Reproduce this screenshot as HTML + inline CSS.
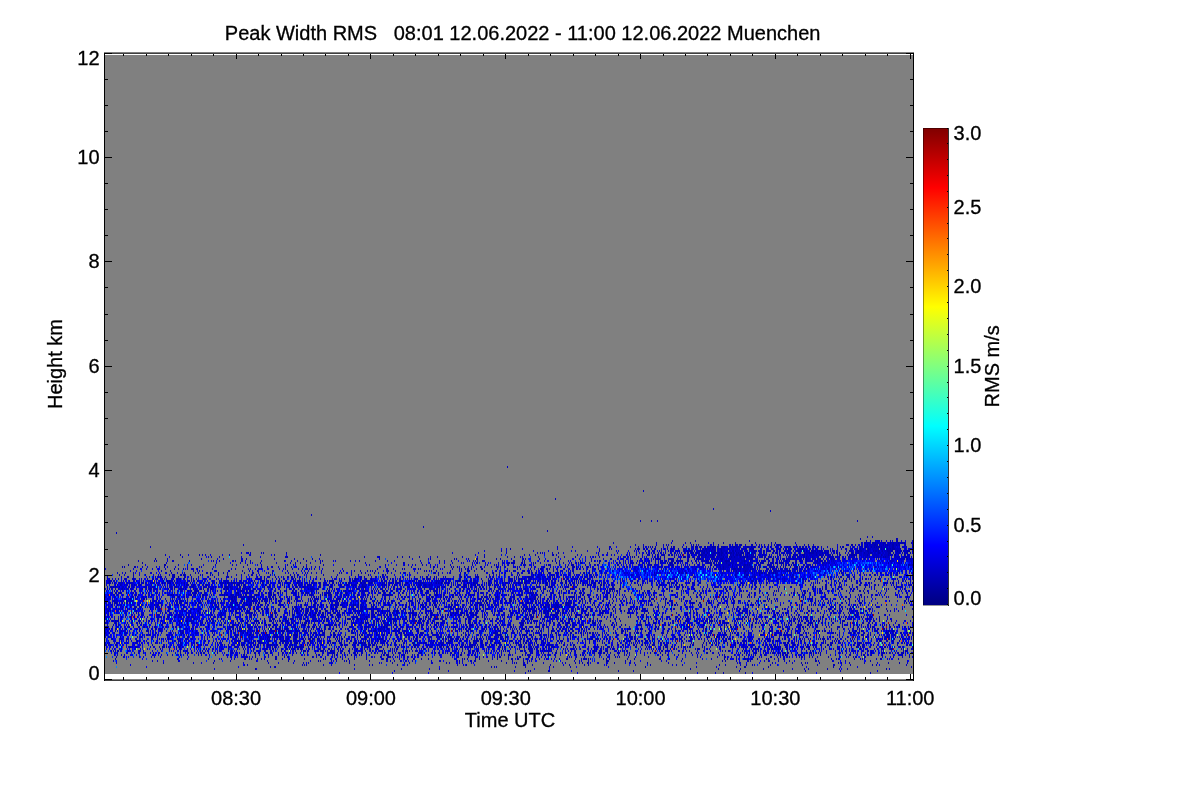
<!DOCTYPE html>
<html lang="en"><head><meta charset="utf-8"><title>Peak Width RMS</title>
<style>
html,body{margin:0;padding:0;background:#fff;overflow:hidden}
svg{display:block}
text{font-family:"Liberation Sans",Arial,Helvetica,sans-serif;fill:#000;stroke:#000;stroke-width:.3px}
</style></head><body>
<svg width="1200" height="800" viewBox="0 0 1200 800">
<rect width="1200" height="800" fill="#fff"/>
<rect x="105" y="55" width="808" height="619" fill="#808080" shape-rendering="crispEdges"/>
<g transform="translate(105 424) scale(1.0 2.0) translate(0 .5)" fill="none" stroke-width="1" shape-rendering="crispEdges">
<path stroke="#0000c3" d="M234 124h1m52 0h1m35 0h1m96 0h1m51 0h1m119 0h1m17 0h1m7 0h1m21 0h1m6 0h1m63 0h1m53 0h1M289 123h1m53 0h1m65 0h1m13 0h1m1 0h1m17 0h2m21 0h1m46 0h1m14 0h1m105 0h1m43 0h1m21 0h1m34 0h1m36 0h1M109 122h1m40 0h2m97 0h1m46 0h1m27 0h1m9 0h1m94 0h1m14 0h1m140 0h1m27 0h1m21 0h1m22 0h1m28 0h1m11 0h1m3 0h1m18 0h1m11 0h1m1 0h1m5 0h1m38 0h1m2 0h1M11 121h1m29 0h1m91 0h1m31 0h1m3 0h2m163 0h1m51 0h1m2 0h1m1 0h1m18 0h1m9 0h1m23 0h1m3 0h1m16 0h1m5 0h1m31 0h1m36 0h1m50 0h1m19 0h1m19 0h1m7 0h2m22 0h1m37 0h1m26 0h1m6 0h1m16 0h1m53 0h1M25 120h1m112 0h2m2 0h1m54 0h1m1 0h1m1 0h1m16 0h1m7 0h1m22 0h1m14 0h1m2 0h1m13 0h1m10 0h1m4 0h3m2 0h1m49 0h1m5 0h1m1 0h2m7 0h1m48 0h3m6 0h1m17 0h1m12 0h1m5 0h1m14 0h1m3 0h1m15 0h1m1 0h1m22 0h1m5 0h1m11 0h1m2 0h1m21 0h1m3 0h1m5 0h1m36 0h1m5 0h1m14 0h1m5 0h1m5 0h1m1 0h1m2 0h1m12 0h1m6 0h2m23 0h1m14 0h1m15 0h2m6 0h1m8 0h1m21 0h1m3 0h1m2 0h1m26 0h1M11 119h1m46 0h1m29 0h1m7 0h1m11 0h1m29 0h1m24 0h1m9 0h1m14 0h1m9 0h1m2 0h1m1 0h1m20 0h4m2 0h1m13 0h1m29 0h1m1 0h1m10 0h1m11 0h1m4 0h1m5 0h1m15 0h2m13 0h1m2 0h1m6 0h2m1 0h1m2 0h1m8 0h1m1 0h1m32 0h1m5 0h1m1 0h1m1 0h1m6 0h2m2 0h1m15 0h1m18 0h1m2 0h1m9 0h1m3 0h1m2 0h1m4 0h2m1 0h1m6 0h2m7 0h2m6 0h1m10 0h1m3 0h2m3 0h1m12 0h1m20 0h1m15 0h1m11 0h1m40 0h1m1 0h2m5 0h1m12 0h1m12 0h1m2 0h1m10 0h1m5 0h1m8 0h1m3 0h1m1 0h1m11 0h1m18 0h1m1 0h2m3 0h1m3 0h1m14 0h1m12 0h1m10 0h1m10 0h1m7 0h1M8 118h1m1 0h2m35 0h1m4 0h1m5 0h1m14 0h2m26 0h1m7 0h1m7 0h1m7 0h1m25 0h2m9 0h1m20 0h1m5 0h1m15 0h1m7 0h1m1 0h1m10 0h1m1 0h1m2 0h1m7 0h1m1 0h1m2 0h1m19 0h1m16 0h2m2 0h1m3 0h1m5 0h2m1 0h1m1 0h2m1 0h1m3 0h1m2 0h2m14 0h1m7 0h2m2 0h1m12 0h2m1 0h1m2 0h1m5 0h1m1 0h2m2 0h2m12 0h1m12 0h1m10 0h1m10 0h1m3 0h1m1 0h1m1 0h1m3 0h2m16 0h1m2 0h1m2 0h2m13 0h1m4 0h1m1 0h1m6 0h1m3 0h1m1 0h1m11 0h3m16 0h1m4 0h1m9 0h1m20 0h1m4 0h1m14 0h1m40 0h1m2 0h1m10 0h1m2 0h1m7 0h2m1 0h1m9 0h1m3 0h1m3 0h2m8 0h1m5 0h1m4 0h1m4 0h1m20 0h2m1 0h1m13 0h2m6 0h1m4 0h1m18 0h2m4 0h1m36 0h2M10 117h1m10 0h1m15 0h1m3 0h1m30 0h2m8 0h1m20 0h1m10 0h1m1 0h1m9 0h1m2 0h1m9 0h2m3 0h1m1 0h1m5 0h1m3 0h1m2 0h1m10 0h2m5 0h1m5 0h2m14 0h1m18 0h1m1 0h1m4 0h2m3 0h2m5 0h1m5 0h1m5 0h1m11 0h1m14 0h3m2 0h2m5 0h1m5 0h1m3 0h2m2 0h1m5 0h2m6 0h1m6 0h1m25 0h3m5 0h1m1 0h1m2 0h1m7 0h1m3 0h1m12 0h1m4 0h1m10 0h1m2 0h2m2 0h1m1 0h2m4 0h1m1 0h4m2 0h2m2 0h1m3 0h1m4 0h1m1 0h3m2 0h1m2 0h1m4 0h1m6 0h2m7 0h1m5 0h1m1 0h4m1 0h1m1 0h1m1 0h1m1 0h1m8 0h1m2 0h1m2 0h1m17 0h1m6 0h1m24 0h2m6 0h3m6 0h1m5 0h1m19 0h1m3 0h1m4 0h1m12 0h1m2 0h1m2 0h4m2 0h1m1 0h2m2 0h11m4 0h1m8 0h1m1 0h1m5 0h1m3 0h1m4 0h2m16 0h1m2 0h1m10 0h1m15 0h1m4 0h1m1 0h2m14 0h1m5 0h1m1 0h1m1 0h1m11 0h1m3 0h2m1 0h1m3 0h1m1 0h1m1 0h2m5 0h1M1 116h1m5 0h1m3 0h1m6 0h2m1 0h1m1 0h1m4 0h1m5 0h2m2 0h1m7 0h1m2 0h1m5 0h1m17 0h2m1 0h1m6 0h1m20 0h1m1 0h1m15 0h1m2 0h2m2 0h2m1 0h1m3 0h7m1 0h1m2 0h1m2 0h1m8 0h2m2 0h1m6 0h2m7 0h1m2 0h3m22 0h2m2 0h1m3 0h2m3 0h1m5 0h2m1 0h1m2 0h1m2 0h1m1 0h1m2 0h1m8 0h1m1 0h1m9 0h1m4 0h2m1 0h1m5 0h2m5 0h4m1 0h1m2 0h1m1 0h1m1 0h1m1 0h1m1 0h2m2 0h2m2 0h2m1 0h2m1 0h2m13 0h1m7 0h2m10 0h1m1 0h1m1 0h3m9 0h1m6 0h3m1 0h1m3 0h1m2 0h2m4 0h1m1 0h1m2 0h1m1 0h2m7 0h1m8 0h1m1 0h2m7 0h2m2 0h1m3 0h1m1 0h1m2 0h1m3 0h1m2 0h2m5 0h1m11 0h1m1 0h1m1 0h1m3 0h2m7 0h1m8 0h1m5 0h1m1 0h1m5 0h3m5 0h1m1 0h1m1 0h1m8 0h1m6 0h1m12 0h1m11 0h1m7 0h2m6 0h2m7 0h1m11 0h1m2 0h1m16 0h1m6 0h2m1 0h2m2 0h1m4 0h1m2 0h1m4 0h1m3 0h1m1 0h4m5 0h1m1 0h1m8 0h2m5 0h1m2 0h1m2 0h2m1 0h2m1 0h1m2 0h1m3 0h1m2 0h1m1 0h2m1 0h1m4 0h1m2 0h1m4 0h1m10 0h1m10 0h3m4 0h1m1 0h1m4 0h1m1 0h2m1 0h2m3 0h3m16 0h1m2 0h1m4 0h1m2 0h1m8 0h1m6 0h1m2 0h1M9 115h2m1 0h1m3 0h1m2 0h1m5 0h4m2 0h1m2 0h1m5 0h1m6 0h4m2 0h1m2 0h1m5 0h1m4 0h1m2 0h4m1 0h2m1 0h1m3 0h1m6 0h1m3 0h1m2 0h1m3 0h2m2 0h1m5 0h1m7 0h1m2 0h3m1 0h3m1 0h4m3 0h1m1 0h2m1 0h1m8 0h1m3 0h1m3 0h2m3 0h1m3 0h1m5 0h1m3 0h1m1 0h1m1 0h1m1 0h1m3 0h1m8 0h2m1 0h1m2 0h2m7 0h1m1 0h2m2 0h1m4 0h2m3 0h1m1 0h1m1 0h2m4 0h1m1 0h2m1 0h1m3 0h1m2 0h3m2 0h1m1 0h1m4 0h1m1 0h2m11 0h1m1 0h2m1 0h3m4 0h1m5 0h1m1 0h4m7 0h1m1 0h1m2 0h2m2 0h2m2 0h1m2 0h1m3 0h1m1 0h1m4 0h3m8 0h1m1 0h3m1 0h3m1 0h2m5 0h3m1 0h2m1 0h2m1 0h2m4 0h1m2 0h1m5 0h3m2 0h1m1 0h1m1 0h1m2 0h1m3 0h3m1 0h1m9 0h1m2 0h1m1 0h4m5 0h4m2 0h1m1 0h2m1 0h4m3 0h2m4 0h1m5 0h1m1 0h1m1 0h1m3 0h3m3 0h1m1 0h2m1 0h1m3 0h3m2 0h1m4 0h2m5 0h1m1 0h2m4 0h1m3 0h1m5 0h1m1 0h1m2 0h1m5 0h2m7 0h1m10 0h1m1 0h2m3 0h1m4 0h2m5 0h1m3 0h1m6 0h1m6 0h1m4 0h1m3 0h1m17 0h1m2 0h1m1 0h1m9 0h2m1 0h3m2 0h1m3 0h1m1 0h2m1 0h1m1 0h1m1 0h1m4 0h2m2 0h3m7 0h1m1 0h1m1 0h1m1 0h1m1 0h2m1 0h3m4 0h1m2 0h2m1 0h4m1 0h2m4 0h1m1 0h1m1 0h1m6 0h1m9 0h1m4 0h1m3 0h1m5 0h1m3 0h2m5 0h2m3 0h1m1 0h2m2 0h2m1 0h2m6 0h1m2 0h2m10 0h2m3 0h5m2 0h1m3 0h1M6 114h1m2 0h4m8 0h2m3 0h1m2 0h1m3 0h2m3 0h3m4 0h1m2 0h1m1 0h2m1 0h2m6 0h2m7 0h1m1 0h1m2 0h1m4 0h1m1 0h2m2 0h2m3 0h1m1 0h1m1 0h2m1 0h2m3 0h1m3 0h3m2 0h1m4 0h1m1 0h1m3 0h1m1 0h4m1 0h3m1 0h1m4 0h1m2 0h2m1 0h1m3 0h2m2 0h2m3 0h1m1 0h3m2 0h3m5 0h1m3 0h2m1 0h3m1 0h2m1 0h2m2 0h1m3 0h1m1 0h2m3 0h1m7 0h1m6 0h2m3 0h8m2 0h1m2 0h2m2 0h1m4 0h1m3 0h3m1 0h1m3 0h2m3 0h1m4 0h1m2 0h2m1 0h1m4 0h1m1 0h2m2 0h1m3 0h1m2 0h1m2 0h3m2 0h1m1 0h1m1 0h1m10 0h7m6 0h2m1 0h2m2 0h2m2 0h2m1 0h1m1 0h1m2 0h2m2 0h5m2 0h1m2 0h1m3 0h3m1 0h2m1 0h1m1 0h1m1 0h1m5 0h4m1 0h2m1 0h1m1 0h1m1 0h2m2 0h1m7 0h1m5 0h1m9 0h2m3 0h3m3 0h3m2 0h1m1 0h1m4 0h1m3 0h1m2 0h2m3 0h1m1 0h1m2 0h2m3 0h1m3 0h2m6 0h3m2 0h4m1 0h3m3 0h4m1 0h2m2 0h1m2 0h1m6 0h3m4 0h1m2 0h1m1 0h1m6 0h1m3 0h1m3 0h1m2 0h1m2 0h1m3 0h3m3 0h1m4 0h1m2 0h1m3 0h1m9 0h1m8 0h1m4 0h1m1 0h1m5 0h1m1 0h2m4 0h2m4 0h1m12 0h2m3 0h1m1 0h1m1 0h1m3 0h1m1 0h2m1 0h1m3 0h4m3 0h1m2 0h1m1 0h4m1 0h1m1 0h4m1 0h4m1 0h4m1 0h2m2 0h1m3 0h3m3 0h7m1 0h3m1 0h1m1 0h2m1 0h1m1 0h1m5 0h1m8 0h1m2 0h3m1 0h1m3 0h1m3 0h1m2 0h1m1 0h1m1 0h1m3 0h1m3 0h1m1 0h1m2 0h5m3 0h2m1 0h4m1 0h1m2 0h2m1 0h1m2 0h1m1 0h2m2 0h3m1 0h1m1 0h2m2 0h2M0 113h1m2 0h1m1 0h2m1 0h1m1 0h1m1 0h2m1 0h2m3 0h6m1 0h2m4 0h3m2 0h1m8 0h1m4 0h1m3 0h2m6 0h1m1 0h1m1 0h1m3 0h2m1 0h1m2 0h5m3 0h1m2 0h1m2 0h1m1 0h2m1 0h1m2 0h1m1 0h2m3 0h1m2 0h1m1 0h1m1 0h3m6 0h1m1 0h3m1 0h1m1 0h1m7 0h1m2 0h2m1 0h2m1 0h1m2 0h5m3 0h2m4 0h2m1 0h1m1 0h2m4 0h1m2 0h2m3 0h2m1 0h2m1 0h1m5 0h1m1 0h3m1 0h2m5 0h5m1 0h4m1 0h1m1 0h1m2 0h5m3 0h1m1 0h3m5 0h2m4 0h9m2 0h1m3 0h2m1 0h2m1 0h2m1 0h5m1 0h1m2 0h4m1 0h1m1 0h1m1 0h1m5 0h2m1 0h3m1 0h1m2 0h1m2 0h3m1 0h5m1 0h2m1 0h1m3 0h1m1 0h1m4 0h1m2 0h2m1 0h5m2 0h5m1 0h1m3 0h1m5 0h3m1 0h3m1 0h3m5 0h1m1 0h1m1 0h1m2 0h1m1 0h2m1 0h1m2 0h1m1 0h1m1 0h1m1 0h1m1 0h3m5 0h1m4 0h3m1 0h2m3 0h4m3 0h3m1 0h12m4 0h1m5 0h1m2 0h1m2 0h1m2 0h1m2 0h2m7 0h3m2 0h1m1 0h1m1 0h5m2 0h3m3 0h3m6 0h3m1 0h1m1 0h1m1 0h3m1 0h2m7 0h3m2 0h1m11 0h1m2 0h1m1 0h1m1 0h1m1 0h2m2 0h5m1 0h1m6 0h2m2 0h2m2 0h1m2 0h1m7 0h1m5 0h2m5 0h1m9 0h1m1 0h1m2 0h1m2 0h3m1 0h1m3 0h2m1 0h1m2 0h1m1 0h6m2 0h2m1 0h2m1 0h1m1 0h1m2 0h3m1 0h2m2 0h1m1 0h1m1 0h5m1 0h2m2 0h1m1 0h1m2 0h7m4 0h1m4 0h1m3 0h1m1 0h4m3 0h1m1 0h1m4 0h1m8 0h1m3 0h1m1 0h2m2 0h2m2 0h1m1 0h5m1 0h2m2 0h3m3 0h2m1 0h4m1 0h1m2 0h2m1 0h1m1 0h2m6 0h1m1 0h2m1 0h1m6 0h1m1 0h3M1 112h1m2 0h1m2 0h1m1 0h2m3 0h4m4 0h1m1 0h1m2 0h5m3 0h1m1 0h1m1 0h1m2 0h1m1 0h1m5 0h1m4 0h1m1 0h1m6 0h1m3 0h2m1 0h1m2 0h3m2 0h1m2 0h1m2 0h1m3 0h1m1 0h1m1 0h4m1 0h2m1 0h1m1 0h2m2 0h2m1 0h3m1 0h5m4 0h6m3 0h1m1 0h1m3 0h1m1 0h1m1 0h2m1 0h1m2 0h2m4 0h2m1 0h6m1 0h2m1 0h2m1 0h1m1 0h1m3 0h3m1 0h3m1 0h1m1 0h5m1 0h2m1 0h3m3 0h1m1 0h2m2 0h1m1 0h1m2 0h4m2 0h2m3 0h2m1 0h1m2 0h1m2 0h2m1 0h1m1 0h2m5 0h1m2 0h1m1 0h4m2 0h3m1 0h1m2 0h1m1 0h2m4 0h4m4 0h1m6 0h1m1 0h1m1 0h1m1 0h2m5 0h2m1 0h1m4 0h1m4 0h1m2 0h1m1 0h1m1 0h3m2 0h1m4 0h3m1 0h2m1 0h3m1 0h1m1 0h1m1 0h2m2 0h1m1 0h4m1 0h1m2 0h1m2 0h1m1 0h2m1 0h1m3 0h5m3 0h3m1 0h1m1 0h2m2 0h3m2 0h3m2 0h1m1 0h2m1 0h1m2 0h1m4 0h1m1 0h1m1 0h1m4 0h1m3 0h5m1 0h1m1 0h2m2 0h1m1 0h3m1 0h1m1 0h4m1 0h1m3 0h1m2 0h1m2 0h1m1 0h1m1 0h1m2 0h5m1 0h1m2 0h2m6 0h2m2 0h1m2 0h4m2 0h2m1 0h1m1 0h3m2 0h1m1 0h3m2 0h1m1 0h1m2 0h1m2 0h1m4 0h1m5 0h1m1 0h1m2 0h1m3 0h1m1 0h1m1 0h1m1 0h1m1 0h1m2 0h1m1 0h3m2 0h1m3 0h1m2 0h1m1 0h3m1 0h1m6 0h1m1 0h1m9 0h1m1 0h3m4 0h1m1 0h2m1 0h1m6 0h1m2 0h2m11 0h1m4 0h2m4 0h1m1 0h2m2 0h1m1 0h1m1 0h6m1 0h2m2 0h1m2 0h3m1 0h10m1 0h1m3 0h2m1 0h1m1 0h2m1 0h2m1 0h1m3 0h2m1 0h1m3 0h2m4 0h1m1 0h4m1 0h1m1 0h1m5 0h3m1 0h1m3 0h3m1 0h3m2 0h1m2 0h1m1 0h3m4 0h4m1 0h1m1 0h3m6 0h1m2 0h2m2 0h3m5 0h5m3 0h1m3 0h1m1 0h2m2 0h1m3 0h2M1 111h2m1 0h2m2 0h1m2 0h2m2 0h4m2 0h1m1 0h12m2 0h1m7 0h1m2 0h2m4 0h1m2 0h3m1 0h1m1 0h3m2 0h2m1 0h1m1 0h6m1 0h1m1 0h1m3 0h4m1 0h5m3 0h1m5 0h1m2 0h1m1 0h1m1 0h1m1 0h8m1 0h4m2 0h5m3 0h1m1 0h1m2 0h6m1 0h1m1 0h3m1 0h1m2 0h2m1 0h5m1 0h1m1 0h3m1 0h1m5 0h3m1 0h3m1 0h1m1 0h10m4 0h1m3 0h1m1 0h1m1 0h3m1 0h1m1 0h5m5 0h1m1 0h1m1 0h1m1 0h2m1 0h1m3 0h1m7 0h3m5 0h2m1 0h6m2 0h1m3 0h2m1 0h3m5 0h1m7 0h1m1 0h2m2 0h4m1 0h3m2 0h2m1 0h2m1 0h2m3 0h2m2 0h2m1 0h4m1 0h2m1 0h1m1 0h3m1 0h1m2 0h3m2 0h2m1 0h1m1 0h1m3 0h3m1 0h9m1 0h1m1 0h1m1 0h1m1 0h4m3 0h8m3 0h3m1 0h1m1 0h2m3 0h1m1 0h2m1 0h2m3 0h3m1 0h2m1 0h1m1 0h4m1 0h1m1 0h4m3 0h2m1 0h2m1 0h2m1 0h8m2 0h1m4 0h1m6 0h1m1 0h1m3 0h1m2 0h4m2 0h1m4 0h6m2 0h1m1 0h1m3 0h3m1 0h1m1 0h1m3 0h2m1 0h2m1 0h1m1 0h4m1 0h1m4 0h2m3 0h1m5 0h1m1 0h5m2 0h1m2 0h3m2 0h1m1 0h3m3 0h2m1 0h1m3 0h1m2 0h1m1 0h3m1 0h1m1 0h2m1 0h1m9 0h1m1 0h1m5 0h1m6 0h1m1 0h2m1 0h3m5 0h4m1 0h1m3 0h1m1 0h7m2 0h3m2 0h1m2 0h3m3 0h2m1 0h2m1 0h3m1 0h7m4 0h3m1 0h5m1 0h3m2 0h4m2 0h4m3 0h1m1 0h2m4 0h1m3 0h1m3 0h1m1 0h1m5 0h3m2 0h1m2 0h1m5 0h1m4 0h3m1 0h1m1 0h3m4 0h2m5 0h1m2 0h4m1 0h2m1 0h1m1 0h2m1 0h3m3 0h3m1 0h3m7 0h1M0 110h2m1 0h6m1 0h3m1 0h2m1 0h2m2 0h1m5 0h3m2 0h4m1 0h1m5 0h1m3 0h1m10 0h2m1 0h1m2 0h3m1 0h1m3 0h10m1 0h1m2 0h2m1 0h1m2 0h5m1 0h1m1 0h3m3 0h2m2 0h1m1 0h2m1 0h3m1 0h1m3 0h1m2 0h4m2 0h3m1 0h4m1 0h3m1 0h2m1 0h3m1 0h2m1 0h1m2 0h2m1 0h12m2 0h1m3 0h4m1 0h8m2 0h7m1 0h1m1 0h2m1 0h3m2 0h2m1 0h4m2 0h1m2 0h1m1 0h1m2 0h2m4 0h3m1 0h4m4 0h4m1 0h2m1 0h7m1 0h3m1 0h3m1 0h1m5 0h1m1 0h1m2 0h2m1 0h2m2 0h3m2 0h1m1 0h1m1 0h1m2 0h1m2 0h2m2 0h7m3 0h1m1 0h23m1 0h1m1 0h3m1 0h3m1 0h1m1 0h3m1 0h1m1 0h1m1 0h7m1 0h1m2 0h4m1 0h2m2 0h1m1 0h4m1 0h1m2 0h3m2 0h5m1 0h1m5 0h1m1 0h4m2 0h1m3 0h3m1 0h1m1 0h1m2 0h2m1 0h5m1 0h8m1 0h3m5 0h2m2 0h1m2 0h2m1 0h2m9 0h2m8 0h2m1 0h1m7 0h3m3 0h2m4 0h2m3 0h2m1 0h1m1 0h3m3 0h2m1 0h1m4 0h2m2 0h1m1 0h1m1 0h1m2 0h3m3 0h1m1 0h2m2 0h4m4 0h1m1 0h2m5 0h1m2 0h1m5 0h1m1 0h2m8 0h1m3 0h1m4 0h2m2 0h2m1 0h1m3 0h1m1 0h1m2 0h1m2 0h6m3 0h8m1 0h7m4 0h1m2 0h2m1 0h3m1 0h3m1 0h3m1 0h1m1 0h1m4 0h4m1 0h1m2 0h4m1 0h2m2 0h1m1 0h1m1 0h1m1 0h2m1 0h1m1 0h5m3 0h2m5 0h2m1 0h2m5 0h1m3 0h2m2 0h1m1 0h2m1 0h2m1 0h2m2 0h3m2 0h3m1 0h1m1 0h1m1 0h2m1 0h1m3 0h2m2 0h1m1 0h2m1 0h1m1 0h3m6 0h1m8 0h2m1 0h4M0 109h5m4 0h1m1 0h7m1 0h5m3 0h6m1 0h1m1 0h2m1 0h1m2 0h2m2 0h1m3 0h3m1 0h3m6 0h6m2 0h1m1 0h1m1 0h9m2 0h4m1 0h6m1 0h2m3 0h1m3 0h1m2 0h1m1 0h1m1 0h3m7 0h1m2 0h8m1 0h5m1 0h7m1 0h1m2 0h11m3 0h5m2 0h2m1 0h2m1 0h4m1 0h2m2 0h4m1 0h1m2 0h3m2 0h2m1 0h4m1 0h1m1 0h1m1 0h6m2 0h2m1 0h1m1 0h4m3 0h3m2 0h1m4 0h1m3 0h4m1 0h8m2 0h2m1 0h2m1 0h2m1 0h1m2 0h5m1 0h2m3 0h1m2 0h2m7 0h2m1 0h1m5 0h4m1 0h10m1 0h1m1 0h4m1 0h2m1 0h6m2 0h7m5 0h2m1 0h3m2 0h2m1 0h2m2 0h4m3 0h3m2 0h3m2 0h2m2 0h7m4 0h2m2 0h1m3 0h1m1 0h4m1 0h1m2 0h1m1 0h2m1 0h5m1 0h1m1 0h1m4 0h5m1 0h3m6 0h1m2 0h1m1 0h1m2 0h1m5 0h1m1 0h1m4 0h1m2 0h4m1 0h1m3 0h1m3 0h3m6 0h1m1 0h1m3 0h2m1 0h2m4 0h1m2 0h2m3 0h3m1 0h1m1 0h1m1 0h1m1 0h1m1 0h1m1 0h1m2 0h1m1 0h5m1 0h1m2 0h2m3 0h1m1 0h2m1 0h2m1 0h3m1 0h1m2 0h1m2 0h1m4 0h1m1 0h1m7 0h1m1 0h1m9 0h1m2 0h1m2 0h4m1 0h1m1 0h1m1 0h2m3 0h2m2 0h1m3 0h1m1 0h3m1 0h2m1 0h2m1 0h2m1 0h1m1 0h1m1 0h1m1 0h1m3 0h1m1 0h3m2 0h1m1 0h2m2 0h1m2 0h2m1 0h1m1 0h1m1 0h3m1 0h3m1 0h2m2 0h4m3 0h1m1 0h2m2 0h2m2 0h2m1 0h1m1 0h2m1 0h2m3 0h3m1 0h1m4 0h3m2 0h1m2 0h3m1 0h1m1 0h2m2 0h2m1 0h1m2 0h2m1 0h5m1 0h1m1 0h6m3 0h1m3 0h1m1 0h1m1 0h1m1 0h2m3 0h1m1 0h3m3 0h2m2 0h2m1 0h1m1 0h3m1 0h2M1 108h3m4 0h3m3 0h1m1 0h3m2 0h1m1 0h1m2 0h1m4 0h5m2 0h2m1 0h1m4 0h3m2 0h2m3 0h1m1 0h1m2 0h1m1 0h1m3 0h4m2 0h5m1 0h3m1 0h7m4 0h3m1 0h3m2 0h2m3 0h1m2 0h1m3 0h1m1 0h1m3 0h2m1 0h1m1 0h2m1 0h7m3 0h8m1 0h3m1 0h5m1 0h10m1 0h3m3 0h12m1 0h8m2 0h2m4 0h6m2 0h5m1 0h2m2 0h4m5 0h1m1 0h2m1 0h1m2 0h1m1 0h2m2 0h2m2 0h3m1 0h1m1 0h2m1 0h1m1 0h1m1 0h3m1 0h3m1 0h4m1 0h6m1 0h2m4 0h1m1 0h2m1 0h2m2 0h1m1 0h3m2 0h3m2 0h4m1 0h2m1 0h3m3 0h7m1 0h2m2 0h2m1 0h1m1 0h1m2 0h5m1 0h4m1 0h3m2 0h4m1 0h1m3 0h6m1 0h3m4 0h1m2 0h3m2 0h5m2 0h6m1 0h4m2 0h2m1 0h3m2 0h2m1 0h3m1 0h2m3 0h2m4 0h3m1 0h1m1 0h1m2 0h3m4 0h2m1 0h3m4 0h2m9 0h1m3 0h1m2 0h1m3 0h1m3 0h3m1 0h1m1 0h1m2 0h1m3 0h1m1 0h2m2 0h1m6 0h1m1 0h1m1 0h2m1 0h5m4 0h2m1 0h2m1 0h2m2 0h3m1 0h2m1 0h3m3 0h2m2 0h1m2 0h4m3 0h1m2 0h1m1 0h1m1 0h1m1 0h2m3 0h1m1 0h4m1 0h1m10 0h1m3 0h1m1 0h2m1 0h1m1 0h2m1 0h1m1 0h2m1 0h4m3 0h1m1 0h3m2 0h1m4 0h5m1 0h4m1 0h1m2 0h2m1 0h1m1 0h1m2 0h2m1 0h4m1 0h2m1 0h6m7 0h2m1 0h2m1 0h1m1 0h1m1 0h1m1 0h2m2 0h1m4 0h2m1 0h3m8 0h1m1 0h1m6 0h1m1 0h1m1 0h1m1 0h2m3 0h1m3 0h1m2 0h2m1 0h1m3 0h1m4 0h3m3 0h1m1 0h2m4 0h2m1 0h3m4 0h2m3 0h3m5 0h1m1 0h3m1 0h2m1 0h1M1 107h2m3 0h5m3 0h5m2 0h3m1 0h1m4 0h2m2 0h2m1 0h1m4 0h2m2 0h2m4 0h1m1 0h1m1 0h3m1 0h1m1 0h7m3 0h7m1 0h4m1 0h6m2 0h1m2 0h2m1 0h1m2 0h1m5 0h1m1 0h2m1 0h2m1 0h5m1 0h2m3 0h5m1 0h1m1 0h1m1 0h1m1 0h10m4 0h12m2 0h1m1 0h1m1 0h2m1 0h5m1 0h5m3 0h4m2 0h5m1 0h1m2 0h3m1 0h3m2 0h3m1 0h1m1 0h1m3 0h1m1 0h1m5 0h1m1 0h1m1 0h1m1 0h2m3 0h4m1 0h1m2 0h2m1 0h1m3 0h6m2 0h1m1 0h13m1 0h2m2 0h1m2 0h3m2 0h5m2 0h1m3 0h2m1 0h1m1 0h1m1 0h3m4 0h2m1 0h1m2 0h2m1 0h1m5 0h4m1 0h2m1 0h2m1 0h1m1 0h4m1 0h4m1 0h1m1 0h2m2 0h2m3 0h1m2 0h1m1 0h2m1 0h3m1 0h1m2 0h1m1 0h10m2 0h4m1 0h1m1 0h2m4 0h2m2 0h1m2 0h2m1 0h2m2 0h4m1 0h1m1 0h4m1 0h3m1 0h3m1 0h1m2 0h1m2 0h1m2 0h1m2 0h1m3 0h1m3 0h2m1 0h1m1 0h3m2 0h2m3 0h1m1 0h2m1 0h6m2 0h4m1 0h1m2 0h2m1 0h2m1 0h2m2 0h2m2 0h2m4 0h6m1 0h3m1 0h2m1 0h1m6 0h2m2 0h2m2 0h3m2 0h1m2 0h3m2 0h1m1 0h2m1 0h4m1 0h3m1 0h3m2 0h1m5 0h3m1 0h1m3 0h2m1 0h1m2 0h1m2 0h1m3 0h1m3 0h2m1 0h2m2 0h2m1 0h2m1 0h3m1 0h1m2 0h1m7 0h2m1 0h1m1 0h5m5 0h2m2 0h1m2 0h6m2 0h1m4 0h2m2 0h1m1 0h2m2 0h2m3 0h2m1 0h1m1 0h3m1 0h1m1 0h1m3 0h1m1 0h1m2 0h2m1 0h1m1 0h1m1 0h1m1 0h3m2 0h2m1 0h1m4 0h1m1 0h1m2 0h2m3 0h1m4 0h1m1 0h1m1 0h1m2 0h3m2 0h2m2 0h3m2 0h1m4 0h7m1 0h6m1 0h4m5 0h1m1 0h8m1 0h1M0 106h1m1 0h5m1 0h2m1 0h1m3 0h4m3 0h2m2 0h2m4 0h1m1 0h4m1 0h1m6 0h3m1 0h1m1 0h1m9 0h3m1 0h5m1 0h1m1 0h1m2 0h3m2 0h3m2 0h3m6 0h2m1 0h1m2 0h1m1 0h1m2 0h1m4 0h2m1 0h1m2 0h1m4 0h1m1 0h4m1 0h3m2 0h7m1 0h23m1 0h12m1 0h6m2 0h5m1 0h1m1 0h2m1 0h1m3 0h1m1 0h3m1 0h3m1 0h1m1 0h1m3 0h1m2 0h4m2 0h2m1 0h2m1 0h1m1 0h1m2 0h1m3 0h2m1 0h4m2 0h1m2 0h1m3 0h5m1 0h2m2 0h7m1 0h2m1 0h2m3 0h1m2 0h1m2 0h3m1 0h2m1 0h1m1 0h2m1 0h2m3 0h2m1 0h2m1 0h2m2 0h2m2 0h5m4 0h6m1 0h3m1 0h5m2 0h1m1 0h4m3 0h1m1 0h1m1 0h2m3 0h1m1 0h1m1 0h1m3 0h1m1 0h1m3 0h1m1 0h3m3 0h5m1 0h3m2 0h4m2 0h1m2 0h2m4 0h1m1 0h1m1 0h1m1 0h2m3 0h2m2 0h1m4 0h3m1 0h1m1 0h1m1 0h1m1 0h4m2 0h1m2 0h1m3 0h1m3 0h1m2 0h1m1 0h5m1 0h1m2 0h1m5 0h1m2 0h6m1 0h2m3 0h1m1 0h3m2 0h2m1 0h1m2 0h3m8 0h2m1 0h4m1 0h2m2 0h5m2 0h1m1 0h3m2 0h1m1 0h1m3 0h1m2 0h1m2 0h1m1 0h1m5 0h4m3 0h1m1 0h2m3 0h1m2 0h3m1 0h2m2 0h1m2 0h1m5 0h4m4 0h6m1 0h1m1 0h2m2 0h1m1 0h2m1 0h2m4 0h1m1 0h2m2 0h2m1 0h7m10 0h1m1 0h2m1 0h1m1 0h3m5 0h1m4 0h2m1 0h2m2 0h1m2 0h1m1 0h1m2 0h1m3 0h1m1 0h3m5 0h2m1 0h1m2 0h1m3 0h1m3 0h1m1 0h2m1 0h2m5 0h1m2 0h1m4 0h2m2 0h3m1 0h1m1 0h3m3 0h6m4 0h3m2 0h1m3 0h1m1 0h6m1 0h3m1 0h1m1 0h1m1 0h1m1 0h3m2 0h1m1 0h2m1 0h1M0 105h4m1 0h2m1 0h2m1 0h7m1 0h3m2 0h1m2 0h5m2 0h2m1 0h3m1 0h5m1 0h4m1 0h2m1 0h1m5 0h7m2 0h10m1 0h1m1 0h11m1 0h3m2 0h1m1 0h3m3 0h2m4 0h3m3 0h1m2 0h1m1 0h2m2 0h5m1 0h14m2 0h2m1 0h2m1 0h9m2 0h5m1 0h4m2 0h1m1 0h2m1 0h2m1 0h5m1 0h1m1 0h5m1 0h2m1 0h1m1 0h2m1 0h10m5 0h2m1 0h3m1 0h4m4 0h1m9 0h1m1 0h1m1 0h1m1 0h2m1 0h9m1 0h6m1 0h4m1 0h2m2 0h2m3 0h3m2 0h2m2 0h10m1 0h3m1 0h4m1 0h5m3 0h7m1 0h2m2 0h1m1 0h1m1 0h3m1 0h2m3 0h1m3 0h1m3 0h2m1 0h2m2 0h1m3 0h3m1 0h2m2 0h2m1 0h1m1 0h4m2 0h7m3 0h3m3 0h1m2 0h3m2 0h2m1 0h5m2 0h3m1 0h1m5 0h3m1 0h4m1 0h1m1 0h3m3 0h1m1 0h3m2 0h4m1 0h1m1 0h1m1 0h2m7 0h1m1 0h1m3 0h1m4 0h3m1 0h1m1 0h2m2 0h1m2 0h1m1 0h2m7 0h3m5 0h4m1 0h2m4 0h2m3 0h3m3 0h4m1 0h1m1 0h2m7 0h1m3 0h1m4 0h4m3 0h3m3 0h1m4 0h3m1 0h1m2 0h1m3 0h2m2 0h1m1 0h1m1 0h1m1 0h1m1 0h3m2 0h10m3 0h1m5 0h4m3 0h2m3 0h4m1 0h1m5 0h9m1 0h1m1 0h2m1 0h3m2 0h3m1 0h9m2 0h1m4 0h4m3 0h1m3 0h1m3 0h3m2 0h1m10 0h1m6 0h1m1 0h1m3 0h1m6 0h7m1 0h1m2 0h3m3 0h2m1 0h1m3 0h1m4 0h1m1 0h1m1 0h2m1 0h4m1 0h5m1 0h1m3 0h2m1 0h2m1 0h2m3 0h1M0 104h5m2 0h3m4 0h9m1 0h2m1 0h3m1 0h2m2 0h3m5 0h1m1 0h1m1 0h2m1 0h2m1 0h1m2 0h1m6 0h4m1 0h1m1 0h1m2 0h6m1 0h5m1 0h8m3 0h1m1 0h1m2 0h2m3 0h1m1 0h1m1 0h2m1 0h1m3 0h1m1 0h4m1 0h2m1 0h3m1 0h2m1 0h12m1 0h1m1 0h4m2 0h6m2 0h5m1 0h6m1 0h2m1 0h1m1 0h6m1 0h4m1 0h3m2 0h4m2 0h2m1 0h4m1 0h2m2 0h3m5 0h1m2 0h2m3 0h1m1 0h2m3 0h1m5 0h5m1 0h1m2 0h1m1 0h5m2 0h1m2 0h1m1 0h4m1 0h4m1 0h1m1 0h4m1 0h1m3 0h2m1 0h4m1 0h2m1 0h7m4 0h2m1 0h4m2 0h2m3 0h2m3 0h2m1 0h5m1 0h1m3 0h1m3 0h1m3 0h1m5 0h1m1 0h1m2 0h1m1 0h1m2 0h1m5 0h4m6 0h9m2 0h1m1 0h5m4 0h4m2 0h1m1 0h1m1 0h1m4 0h2m1 0h1m3 0h1m1 0h5m1 0h1m6 0h1m2 0h1m3 0h2m1 0h1m5 0h4m2 0h2m3 0h2m1 0h1m1 0h2m1 0h1m1 0h1m1 0h1m1 0h2m1 0h2m1 0h1m1 0h1m4 0h1m1 0h1m1 0h1m3 0h1m2 0h1m1 0h2m4 0h2m2 0h1m3 0h2m3 0h1m1 0h3m1 0h2m6 0h4m9 0h3m3 0h1m4 0h1m2 0h1m1 0h3m5 0h1m1 0h1m1 0h2m1 0h3m2 0h1m1 0h2m3 0h3m1 0h4m6 0h3m1 0h1m1 0h2m4 0h1m1 0h1m1 0h2m1 0h2m2 0h1m2 0h1m3 0h4m11 0h2m3 0h3m1 0h1m1 0h8m2 0h1m1 0h2m3 0h1m3 0h1m1 0h3m3 0h1m1 0h2m1 0h1m4 0h4m1 0h2m7 0h7m1 0h1m3 0h1m3 0h1m4 0h4m1 0h3m1 0h3m3 0h2m3 0h1m1 0h1m4 0h1m1 0h2m3 0h1m1 0h5m1 0h4m1 0h3m2 0h2m1 0h5m1 0h2m1 0h1M0 103h4m1 0h3m2 0h1m1 0h1m1 0h7m1 0h1m1 0h1m3 0h4m2 0h1m1 0h1m4 0h3m1 0h1m1 0h2m1 0h1m2 0h5m3 0h1m3 0h1m1 0h1m5 0h6m1 0h13m3 0h2m1 0h1m1 0h3m1 0h8m2 0h1m5 0h3m1 0h2m1 0h1m1 0h1m1 0h9m1 0h8m1 0h4m3 0h1m1 0h1m3 0h8m1 0h7m1 0h14m2 0h5m1 0h1m1 0h1m4 0h1m1 0h6m1 0h1m6 0h1m3 0h2m2 0h1m8 0h2m1 0h2m1 0h1m1 0h2m2 0h6m2 0h22m1 0h9m2 0h10m4 0h3m5 0h5m2 0h1m4 0h1m1 0h1m1 0h1m1 0h1m4 0h3m1 0h2m2 0h3m1 0h1m1 0h1m4 0h3m1 0h4m2 0h1m2 0h5m1 0h1m3 0h12m2 0h1m2 0h2m4 0h2m3 0h1m2 0h2m3 0h5m1 0h2m3 0h1m1 0h1m1 0h2m1 0h1m4 0h1m2 0h4m2 0h3m1 0h2m2 0h2m1 0h2m2 0h2m4 0h2m1 0h1m1 0h2m1 0h1m15 0h3m3 0h1m6 0h1m5 0h3m1 0h1m1 0h1m7 0h1m1 0h1m3 0h1m3 0h1m3 0h3m3 0h1m6 0h2m3 0h2m3 0h1m2 0h2m1 0h3m1 0h2m3 0h1m2 0h1m1 0h1m3 0h2m1 0h1m2 0h2m1 0h2m3 0h3m8 0h1m2 0h1m1 0h1m2 0h3m1 0h1m2 0h1m9 0h1m1 0h1m3 0h1m6 0h1m1 0h1m2 0h1m4 0h4m3 0h3m1 0h2m3 0h1m1 0h2m2 0h1m3 0h6m3 0h1m9 0h1m1 0h4m2 0h1m1 0h2m3 0h1m1 0h1m7 0h1m4 0h1m4 0h1m2 0h5m2 0h1m1 0h3m2 0h3m3 0h1m1 0h4m3 0h1m1 0h12m1 0h2m6 0h3m1 0h3M0 102h5m1 0h2m2 0h3m1 0h2m1 0h1m1 0h4m2 0h2m2 0h4m1 0h2m1 0h1m3 0h3m2 0h2m2 0h2m1 0h5m1 0h1m2 0h1m3 0h3m2 0h1m1 0h3m1 0h8m1 0h3m1 0h1m4 0h2m1 0h1m2 0h4m2 0h3m2 0h6m2 0h1m1 0h4m1 0h2m1 0h1m1 0h1m1 0h7m2 0h5m1 0h1m1 0h2m1 0h1m2 0h1m1 0h1m3 0h4m3 0h6m1 0h1m1 0h5m2 0h2m1 0h5m4 0h2m1 0h1m1 0h1m2 0h1m1 0h1m2 0h4m1 0h1m2 0h2m2 0h3m1 0h2m6 0h2m3 0h1m1 0h2m3 0h4m2 0h5m1 0h3m1 0h1m2 0h19m1 0h1m2 0h3m1 0h3m1 0h1m3 0h2m1 0h1m2 0h1m2 0h4m2 0h3m2 0h3m1 0h1m3 0h3m3 0h3m2 0h1m2 0h1m4 0h1m1 0h1m2 0h4m1 0h1m1 0h2m1 0h3m2 0h5m3 0h4m1 0h1m2 0h4m1 0h2m1 0h2m1 0h1m3 0h1m1 0h1m3 0h1m1 0h1m1 0h1m1 0h1m2 0h1m1 0h4m1 0h1m1 0h1m4 0h1m5 0h1m1 0h1m1 0h1m4 0h1m3 0h2m2 0h1m2 0h2m1 0h5m1 0h1m1 0h3m2 0h5m1 0h2m1 0h1m1 0h1m1 0h2m4 0h1m2 0h1m1 0h5m4 0h1m4 0h1m3 0h1m3 0h2m1 0h7m2 0h1m1 0h4m1 0h3m5 0h2m1 0h2m1 0h2m1 0h2m3 0h3m3 0h2m1 0h1m3 0h1m5 0h1m1 0h5m1 0h4m5 0h1m4 0h1m1 0h3m1 0h2m1 0h1m1 0h1m4 0h3m2 0h2m1 0h2m2 0h7m5 0h2m6 0h1m10 0h3m4 0h1m1 0h2m2 0h2m2 0h1m2 0h2m3 0h3m2 0h1m2 0h1m2 0h3m2 0h1m3 0h1m6 0h2m8 0h1m6 0h1m5 0h1m5 0h2m3 0h1m3 0h2m3 0h1m1 0h1m3 0h1m2 0h1m1 0h2m2 0h1m1 0h2m1 0h2m3 0h3m1 0h1m2 0h1m1 0h3m3 0h1m4 0h5m1 0h2M0 101h4m3 0h1m2 0h7m2 0h2m1 0h3m3 0h1m4 0h2m2 0h6m1 0h1m2 0h1m1 0h4m1 0h5m1 0h4m3 0h2m1 0h2m2 0h5m1 0h5m2 0h2m1 0h3m1 0h1m5 0h5m1 0h1m1 0h2m1 0h1m6 0h3m1 0h7m2 0h2m1 0h2m1 0h4m1 0h6m1 0h3m1 0h3m1 0h1m1 0h1m1 0h1m2 0h1m2 0h2m1 0h2m2 0h2m1 0h6m3 0h5m1 0h1m1 0h1m1 0h5m1 0h3m2 0h3m1 0h1m2 0h2m1 0h1m1 0h2m3 0h2m2 0h1m2 0h1m2 0h1m2 0h1m6 0h5m3 0h6m1 0h7m1 0h2m1 0h2m1 0h10m3 0h1m1 0h1m2 0h2m2 0h4m2 0h7m1 0h2m3 0h1m1 0h2m3 0h1m1 0h1m2 0h1m1 0h2m1 0h2m1 0h3m1 0h1m1 0h3m1 0h1m1 0h7m1 0h1m1 0h4m1 0h2m1 0h5m1 0h1m1 0h2m2 0h2m1 0h3m1 0h2m1 0h1m1 0h5m2 0h1m2 0h1m3 0h2m1 0h2m1 0h1m1 0h1m3 0h4m2 0h2m2 0h4m2 0h5m2 0h2m2 0h3m3 0h1m4 0h2m1 0h2m1 0h2m1 0h4m2 0h3m4 0h5m1 0h3m2 0h1m2 0h1m3 0h2m1 0h2m1 0h1m1 0h1m1 0h1m5 0h2m4 0h2m8 0h1m4 0h4m3 0h1m3 0h1m1 0h1m1 0h4m2 0h2m1 0h1m1 0h1m1 0h2m7 0h2m2 0h1m1 0h1m2 0h11m2 0h1m3 0h1m1 0h5m2 0h1m2 0h1m3 0h2m5 0h1m3 0h1m2 0h1m1 0h3m1 0h1m1 0h3m2 0h1m2 0h1m5 0h1m1 0h2m2 0h1m3 0h1m2 0h2m6 0h3m4 0h4m1 0h1m2 0h5m6 0h5m1 0h2m1 0h1m3 0h1m2 0h2m1 0h3m8 0h1m2 0h1m7 0h3m2 0h1m7 0h1m2 0h1m3 0h2m2 0h1m1 0h1m1 0h1m1 0h2m1 0h1m1 0h3m7 0h2m2 0h1m2 0h2m3 0h1m1 0h4m2 0h1m1 0h2m2 0h1m1 0h1m1 0h1M2 100h1m5 0h1m1 0h2m1 0h3m3 0h1m1 0h1m1 0h1m1 0h4m3 0h1m2 0h2m1 0h4m1 0h3m4 0h1m1 0h6m3 0h3m3 0h1m3 0h13m3 0h3m1 0h3m1 0h5m2 0h3m2 0h3m1 0h2m1 0h3m1 0h1m3 0h1m1 0h1m2 0h7m1 0h1m1 0h1m1 0h2m1 0h5m1 0h1m1 0h1m1 0h1m6 0h3m1 0h3m2 0h5m2 0h1m1 0h2m1 0h1m1 0h5m1 0h5m3 0h5m2 0h1m4 0h3m2 0h1m1 0h1m3 0h9m1 0h3m1 0h2m2 0h1m1 0h1m1 0h1m4 0h5m2 0h4m2 0h3m1 0h7m1 0h4m1 0h2m1 0h8m2 0h3m2 0h2m1 0h3m1 0h3m3 0h2m2 0h2m1 0h1m1 0h3m2 0h2m2 0h1m3 0h3m1 0h1m1 0h4m3 0h1m5 0h1m2 0h2m1 0h1m1 0h1m1 0h1m1 0h2m2 0h5m2 0h2m1 0h4m2 0h2m2 0h2m1 0h1m2 0h2m2 0h1m1 0h5m1 0h4m2 0h1m6 0h4m12 0h1m2 0h1m2 0h3m1 0h1m2 0h1m3 0h2m2 0h4m4 0h3m2 0h1m1 0h5m2 0h5m6 0h6m1 0h1m1 0h2m3 0h1m6 0h2m1 0h1m1 0h1m4 0h1m3 0h1m10 0h6m3 0h6m1 0h1m2 0h1m3 0h2m1 0h4m2 0h2m4 0h4m1 0h6m1 0h4m1 0h2m1 0h1m2 0h9m4 0h2m1 0h2m3 0h5m1 0h1m1 0h1m3 0h1m3 0h3m2 0h2m1 0h1m3 0h1m1 0h2m1 0h2m8 0h5m3 0h1m1 0h1m3 0h1m2 0h1m3 0h1m1 0h1m1 0h1m1 0h1m1 0h2m5 0h5m5 0h2m1 0h1m1 0h1m2 0h3m4 0h1m2 0h1m2 0h1m2 0h1m10 0h1m1 0h4m2 0h1m2 0h2m1 0h4m1 0h1m5 0h2m1 0h1m3 0h3m2 0h2m1 0h1m1 0h1m1 0h1m2 0h1m3 0h1m4 0h2m12 0h1M0 99h4m5 0h3m1 0h2m1 0h5m1 0h1m2 0h3m3 0h2m1 0h1m1 0h1m2 0h3m1 0h1m2 0h1m3 0h1m1 0h1m2 0h1m1 0h4m1 0h1m1 0h4m3 0h7m1 0h6m1 0h8m1 0h3m2 0h1m1 0h8m2 0h3m1 0h1m2 0h2m1 0h2m1 0h4m1 0h1m2 0h2m1 0h1m2 0h4m3 0h4m1 0h1m1 0h5m1 0h2m6 0h2m2 0h1m4 0h2m2 0h5m1 0h3m1 0h4m1 0h1m1 0h1m1 0h3m1 0h2m1 0h1m2 0h1m3 0h2m2 0h2m4 0h6m1 0h1m3 0h2m1 0h1m1 0h2m1 0h1m3 0h13m1 0h4m2 0h1m1 0h2m1 0h1m1 0h1m2 0h1m1 0h9m1 0h1m1 0h2m2 0h1m3 0h4m3 0h6m1 0h5m1 0h1m2 0h3m2 0h2m1 0h1m1 0h3m1 0h5m1 0h2m3 0h6m2 0h2m4 0h1m2 0h3m1 0h1m1 0h3m1 0h2m4 0h1m1 0h1m1 0h1m3 0h1m4 0h2m1 0h1m1 0h3m3 0h3m8 0h5m1 0h1m1 0h2m1 0h2m2 0h1m1 0h1m2 0h3m1 0h1m2 0h1m2 0h2m2 0h2m3 0h2m2 0h2m1 0h5m2 0h4m1 0h3m1 0h3m1 0h1m1 0h3m2 0h4m2 0h1m1 0h1m11 0h2m2 0h1m19 0h2m1 0h2m4 0h1m2 0h2m3 0h4m1 0h2m4 0h2m2 0h1m1 0h1m1 0h2m4 0h1m1 0h1m2 0h3m1 0h6m3 0h4m3 0h3m1 0h1m1 0h1m1 0h1m3 0h1m1 0h1m1 0h2m1 0h7m5 0h1m1 0h1m1 0h3m3 0h1m1 0h4m2 0h1m2 0h2m1 0h1m1 0h1m2 0h1m1 0h3m5 0h6m2 0h2m1 0h1m3 0h2m1 0h1m3 0h1m2 0h1m1 0h1m3 0h2m2 0h5m2 0h2m1 0h1m2 0h2m1 0h2m2 0h2m2 0h2m5 0h2m1 0h1m4 0h1m2 0h8m4 0h2m4 0h2m2 0h1m2 0h2m5 0h3m3 0h1m6 0h1m7 0h1m2 0h2m4 0h1M1 98h4m1 0h8m1 0h4m1 0h1m3 0h1m1 0h4m3 0h3m2 0h1m2 0h1m1 0h2m1 0h2m1 0h1m2 0h2m1 0h6m3 0h3m1 0h11m1 0h12m1 0h5m3 0h2m1 0h2m1 0h4m2 0h1m1 0h1m2 0h1m1 0h1m1 0h2m1 0h4m3 0h1m2 0h4m1 0h1m1 0h2m1 0h1m3 0h5m3 0h1m1 0h2m3 0h3m1 0h1m1 0h1m1 0h1m1 0h2m1 0h7m2 0h5m2 0h1m1 0h1m4 0h5m1 0h11m1 0h2m1 0h4m1 0h2m1 0h1m1 0h3m3 0h1m1 0h2m5 0h1m1 0h1m1 0h9m1 0h1m1 0h1m2 0h2m1 0h2m1 0h3m1 0h1m1 0h4m1 0h5m1 0h4m2 0h1m3 0h2m2 0h1m1 0h8m1 0h3m1 0h3m2 0h2m1 0h1m1 0h3m7 0h3m2 0h1m5 0h1m2 0h1m1 0h3m4 0h1m2 0h3m2 0h4m2 0h2m2 0h2m5 0h3m2 0h2m2 0h6m3 0h1m1 0h2m9 0h4m2 0h3m1 0h1m1 0h5m1 0h1m2 0h1m1 0h1m1 0h5m1 0h1m4 0h1m2 0h3m1 0h2m2 0h2m1 0h2m2 0h1m2 0h2m1 0h5m1 0h4m1 0h2m1 0h1m1 0h1m1 0h3m8 0h1m4 0h1m4 0h1m15 0h2m2 0h1m2 0h3m2 0h1m4 0h1m2 0h1m1 0h2m2 0h1m9 0h2m1 0h1m1 0h4m4 0h5m3 0h5m1 0h5m1 0h8m1 0h1m1 0h2m1 0h2m1 0h3m3 0h1m3 0h1m1 0h2m1 0h1m4 0h1m3 0h5m2 0h1m2 0h1m2 0h1m2 0h1m3 0h1m1 0h1m2 0h1m1 0h4m3 0h4m3 0h1m1 0h3m1 0h2m3 0h2m1 0h2m3 0h3m1 0h2m1 0h2m1 0h1m1 0h2m2 0h1m2 0h1m5 0h1m3 0h1m1 0h1m2 0h1m1 0h3m8 0h1m3 0h1m3 0h1m1 0h1m2 0h2m1 0h2m2 0h2m4 0h1m3 0h1m2 0h1m4 0h1m4 0h1m7 0h2m4 0h1M0 97h4m1 0h1m3 0h1m3 0h1m1 0h3m3 0h3m1 0h2m2 0h3m2 0h4m3 0h1m3 0h5m2 0h2m2 0h1m1 0h2m1 0h7m1 0h10m1 0h7m1 0h7m1 0h3m2 0h1m1 0h2m1 0h3m3 0h1m3 0h4m3 0h3m5 0h2m1 0h4m2 0h3m1 0h1m1 0h1m1 0h4m3 0h1m3 0h1m4 0h2m1 0h3m4 0h1m2 0h5m1 0h1m1 0h4m1 0h1m1 0h1m1 0h3m1 0h3m1 0h2m3 0h5m1 0h2m1 0h2m1 0h1m1 0h3m1 0h2m3 0h2m1 0h2m2 0h1m2 0h1m1 0h4m1 0h3m1 0h12m3 0h2m2 0h5m1 0h1m2 0h17m1 0h5m2 0h1m2 0h3m4 0h3m1 0h1m1 0h1m2 0h3m2 0h6m1 0h3m2 0h2m3 0h2m1 0h5m1 0h2m4 0h2m1 0h4m3 0h2m7 0h2m1 0h1m1 0h1m2 0h1m3 0h3m1 0h1m2 0h2m4 0h1m1 0h1m4 0h3m3 0h2m1 0h4m1 0h3m7 0h1m1 0h3m2 0h1m1 0h6m1 0h3m1 0h1m1 0h2m2 0h1m1 0h7m3 0h1m1 0h3m2 0h1m3 0h2m2 0h1m3 0h1m8 0h1m7 0h2m3 0h1m18 0h1m2 0h3m2 0h1m1 0h1m2 0h1m3 0h3m2 0h1m1 0h1m1 0h1m1 0h2m1 0h2m4 0h2m1 0h2m2 0h1m3 0h5m3 0h1m1 0h5m1 0h3m1 0h2m1 0h1m1 0h1m2 0h1m2 0h1m7 0h2m5 0h3m1 0h7m1 0h1m3 0h1m1 0h1m1 0h2m1 0h3m3 0h1m3 0h1m3 0h3m2 0h2m1 0h2m2 0h2m3 0h2m1 0h1m1 0h1m1 0h3m1 0h1m1 0h1m1 0h1m1 0h1m1 0h3m2 0h3m5 0h1m1 0h1m1 0h1m2 0h2m2 0h1m1 0h1m1 0h1m1 0h2m2 0h2m4 0h1m1 0h5m1 0h3m1 0h3m2 0h1m2 0h7m1 0h1m2 0h1m2 0h1m7 0h1m2 0h2M0 96h5m1 0h2m1 0h1m3 0h1m1 0h4m1 0h1m1 0h1m1 0h7m1 0h2m1 0h3m1 0h1m2 0h1m3 0h2m1 0h1m1 0h6m1 0h2m2 0h5m1 0h9m1 0h2m1 0h14m2 0h5m1 0h1m1 0h1m2 0h3m1 0h5m2 0h2m2 0h3m4 0h6m4 0h3m1 0h3m2 0h1m2 0h1m10 0h5m2 0h2m3 0h2m1 0h4m5 0h10m1 0h1m1 0h4m1 0h6m2 0h1m1 0h6m2 0h1m2 0h3m1 0h1m1 0h4m4 0h1m5 0h7m2 0h10m1 0h7m3 0h1m2 0h2m1 0h5m2 0h2m1 0h2m1 0h7m2 0h2m1 0h2m1 0h1m2 0h2m3 0h1m1 0h2m1 0h1m1 0h2m2 0h4m3 0h3m1 0h1m1 0h1m1 0h5m1 0h2m1 0h2m3 0h1m3 0h7m2 0h3m3 0h1m1 0h1m1 0h1m10 0h2m1 0h1m1 0h1m1 0h1m2 0h5m4 0h5m2 0h4m1 0h1m1 0h4m2 0h2m3 0h1m2 0h7m1 0h7m3 0h4m2 0h1m1 0h1m4 0h2m3 0h3m1 0h1m2 0h1m3 0h1m1 0h1m7 0h1m2 0h1m2 0h1m2 0h1m2 0h1m2 0h1m11 0h1m1 0h1m6 0h2m1 0h4m2 0h5m3 0h3m4 0h2m3 0h4m5 0h3m2 0h1m2 0h1m1 0h1m1 0h2m1 0h1m2 0h2m2 0h1m1 0h1m1 0h2m1 0h1m3 0h5m3 0h1m1 0h2m1 0h1m3 0h1m2 0h1m4 0h2m3 0h1m1 0h1m1 0h2m1 0h2m1 0h1m5 0h1m1 0h1m1 0h5m1 0h4m1 0h1m2 0h4m2 0h5m5 0h2m2 0h1m1 0h1m3 0h1m1 0h2m1 0h5m2 0h3m1 0h1m5 0h1m1 0h2m4 0h2m4 0h2m2 0h2m1 0h1m1 0h1m1 0h2m1 0h6m1 0h5m1 0h1m1 0h1m3 0h1m1 0h4m6 0h1m7 0h1m24 0h1M0 95h1m1 0h2m1 0h3m7 0h1m1 0h2m1 0h2m1 0h1m2 0h2m1 0h1m3 0h2m1 0h3m5 0h4m1 0h6m2 0h1m1 0h1m2 0h6m1 0h13m1 0h2m1 0h5m1 0h7m1 0h8m1 0h1m2 0h9m3 0h1m1 0h1m1 0h1m1 0h1m3 0h2m1 0h1m3 0h1m2 0h3m1 0h3m1 0h1m4 0h2m2 0h3m1 0h3m2 0h1m1 0h1m5 0h2m2 0h1m1 0h1m2 0h3m1 0h7m1 0h3m1 0h8m1 0h3m1 0h3m1 0h1m1 0h1m2 0h3m3 0h5m1 0h1m1 0h1m2 0h3m3 0h1m2 0h1m1 0h12m1 0h4m2 0h5m1 0h2m1 0h2m1 0h3m1 0h5m1 0h1m1 0h5m3 0h2m1 0h5m1 0h1m1 0h1m5 0h2m2 0h9m1 0h1m1 0h1m2 0h1m1 0h2m1 0h12m2 0h1m1 0h3m1 0h7m5 0h1m1 0h2m1 0h1m5 0h2m1 0h4m1 0h4m3 0h1m1 0h3m1 0h1m1 0h2m2 0h4m1 0h3m1 0h3m1 0h1m2 0h1m1 0h1m2 0h1m3 0h4m1 0h8m2 0h1m1 0h1m1 0h1m2 0h1m1 0h1m1 0h1m3 0h7m3 0h4m1 0h1m1 0h3m2 0h4m1 0h1m7 0h2m1 0h1m16 0h1m5 0h1m4 0h3m2 0h1m6 0h7m2 0h1m8 0h2m5 0h2m4 0h4m2 0h1m2 0h1m2 0h2m1 0h1m2 0h1m1 0h2m1 0h2m1 0h2m1 0h1m5 0h3m7 0h1m1 0h1m1 0h1m2 0h5m2 0h2m2 0h1m1 0h1m2 0h3m1 0h1m2 0h3m11 0h3m1 0h1m1 0h1m1 0h1m1 0h1m2 0h1m1 0h1m2 0h1m4 0h1m1 0h2m6 0h3m2 0h1m11 0h1m3 0h1m2 0h1m8 0h1m4 0h1m4 0h1m2 0h1m1 0h5m5 0h1m1 0h8m10 0h2m3 0h1m16 0h1M0 94h4m1 0h3m1 0h9m1 0h3m1 0h4m1 0h1m2 0h1m1 0h1m2 0h3m8 0h1m1 0h1m1 0h1m3 0h1m1 0h1m2 0h2m2 0h3m1 0h1m1 0h3m1 0h22m1 0h1m1 0h2m1 0h5m1 0h1m4 0h8m3 0h1m1 0h2m2 0h6m4 0h8m1 0h1m1 0h1m3 0h1m1 0h2m1 0h4m1 0h3m1 0h3m7 0h4m1 0h1m2 0h1m1 0h1m1 0h5m1 0h2m1 0h3m1 0h8m1 0h3m1 0h2m1 0h1m1 0h4m2 0h3m1 0h3m2 0h3m1 0h7m1 0h2m1 0h3m1 0h7m1 0h1m1 0h3m1 0h2m1 0h1m1 0h6m1 0h1m1 0h2m1 0h8m1 0h6m1 0h9m2 0h1m1 0h2m2 0h2m1 0h1m1 0h3m4 0h1m1 0h2m7 0h1m1 0h9m1 0h5m1 0h2m1 0h5m1 0h3m4 0h1m1 0h1m1 0h2m4 0h1m1 0h1m3 0h2m3 0h2m5 0h4m1 0h5m2 0h2m1 0h1m1 0h1m1 0h1m2 0h3m1 0h1m2 0h1m1 0h1m1 0h6m2 0h1m3 0h4m1 0h1m1 0h5m1 0h1m2 0h1m2 0h1m1 0h2m3 0h2m1 0h2m2 0h1m3 0h3m4 0h5m1 0h4m1 0h2m3 0h1m5 0h1m5 0h7m2 0h2m6 0h1m3 0h1m5 0h4m1 0h1m2 0h2m1 0h1m10 0h1m7 0h4m1 0h2m2 0h2m1 0h2m6 0h1m1 0h4m4 0h1m1 0h2m1 0h4m1 0h1m2 0h1m1 0h1m3 0h1m1 0h1m2 0h5m2 0h3m1 0h2m2 0h1m3 0h1m3 0h1m2 0h2m1 0h1m1 0h1m1 0h1m1 0h2m1 0h3m3 0h2m1 0h4m5 0h1m2 0h1m6 0h1m1 0h2m3 0h1m3 0h1m4 0h1m3 0h1m5 0h2m1 0h4m1 0h3m2 0h1m4 0h1m1 0h5m1 0h3m1 0h4m2 0h2m3 0h1m6 0h1M0 93h14m1 0h1m1 0h6m3 0h1m1 0h10m1 0h1m4 0h1m1 0h2m3 0h6m3 0h1m1 0h3m4 0h13m1 0h13m2 0h1m1 0h2m1 0h1m2 0h1m1 0h2m4 0h8m1 0h6m1 0h2m2 0h1m1 0h2m1 0h1m1 0h4m4 0h2m2 0h2m2 0h2m1 0h4m2 0h1m2 0h2m2 0h2m4 0h3m2 0h1m2 0h1m1 0h8m1 0h1m1 0h4m1 0h4m1 0h3m1 0h2m4 0h3m2 0h1m1 0h2m1 0h3m1 0h1m4 0h3m1 0h4m1 0h12m1 0h2m3 0h3m3 0h13m3 0h6m2 0h3m1 0h1m4 0h1m1 0h2m6 0h1m4 0h7m1 0h1m5 0h2m1 0h1m1 0h7m2 0h1m2 0h3m2 0h2m1 0h4m2 0h2m2 0h1m1 0h3m2 0h3m1 0h1m5 0h2m1 0h2m1 0h6m6 0h2m1 0h5m1 0h2m1 0h1m1 0h4m1 0h3m1 0h5m2 0h3m1 0h13m1 0h3m2 0h2m1 0h3m1 0h1m1 0h3m1 0h1m2 0h1m2 0h6m3 0h3m2 0h3m1 0h2m1 0h7m4 0h1m1 0h1m4 0h2m2 0h1m3 0h2m2 0h1m1 0h1m1 0h1m4 0h7m5 0h2m1 0h3m6 0h2m4 0h1m9 0h1m2 0h1m4 0h2m2 0h1m2 0h1m6 0h2m2 0h2m2 0h1m4 0h1m2 0h2m7 0h2m2 0h1m3 0h4m2 0h6m1 0h1m2 0h1m4 0h1m2 0h1m6 0h2m3 0h3m4 0h1m7 0h2m2 0h1m3 0h2m3 0h3m5 0h2m1 0h3m3 0h2m5 0h1m1 0h1m2 0h1m2 0h2m3 0h1m1 0h3m7 0h9m2 0h1m1 0h2m1 0h2m2 0h1m2 0h1m1 0h1m12 0h1m2 0h1m3 0h1m3 0h1m6 0h1M0 92h6m1 0h12m1 0h1m1 0h9m1 0h6m7 0h4m1 0h1m1 0h5m3 0h1m2 0h5m2 0h4m2 0h3m2 0h2m2 0h13m5 0h1m1 0h6m1 0h3m2 0h3m1 0h1m1 0h2m1 0h11m1 0h3m1 0h1m1 0h3m1 0h2m1 0h3m2 0h2m1 0h5m2 0h1m1 0h1m1 0h1m2 0h2m5 0h2m5 0h2m1 0h5m1 0h3m1 0h4m1 0h2m2 0h4m3 0h2m1 0h2m4 0h7m4 0h1m4 0h1m1 0h8m2 0h1m1 0h21m1 0h1m4 0h1m1 0h1m4 0h2m1 0h1m2 0h1m2 0h3m2 0h3m1 0h1m1 0h2m1 0h2m2 0h3m1 0h2m3 0h1m2 0h1m3 0h3m1 0h3m4 0h1m1 0h4m1 0h8m1 0h1m1 0h1m1 0h1m1 0h4m1 0h3m1 0h2m2 0h1m1 0h8m1 0h2m1 0h1m1 0h6m1 0h1m2 0h1m2 0h1m1 0h1m3 0h2m2 0h2m1 0h10m1 0h1m1 0h2m1 0h11m1 0h6m3 0h7m2 0h3m1 0h1m1 0h3m1 0h3m2 0h2m2 0h3m3 0h1m2 0h1m1 0h1m3 0h2m1 0h2m2 0h1m2 0h1m3 0h2m7 0h4m1 0h1m1 0h3m1 0h1m2 0h4m1 0h1m5 0h1m4 0h1m4 0h1m2 0h2m2 0h2m1 0h2m5 0h2m1 0h1m2 0h2m2 0h1m1 0h1m2 0h4m4 0h2m3 0h2m4 0h1m1 0h1m3 0h1m3 0h2m6 0h1m1 0h1m1 0h2m1 0h2m2 0h5m2 0h1m4 0h3m4 0h1m1 0h6m1 0h1m2 0h2m6 0h1m1 0h2m1 0h1m3 0h1m5 0h1m1 0h1m1 0h1m1 0h1m3 0h1m3 0h1m5 0h1m3 0h1m6 0h4m2 0h2m3 0h2m1 0h1m4 0h1m1 0h3m1 0h2m5 0h2m1 0h1m4 0h3m1 0h1m13 0h1m7 0h1m1 0h1m5 0h1m9 0h1M0 91h2m1 0h5m2 0h2m1 0h1m1 0h4m1 0h7m2 0h3m2 0h3m2 0h2m1 0h1m1 0h5m1 0h5m1 0h1m3 0h1m1 0h5m2 0h5m1 0h2m1 0h4m1 0h2m2 0h2m3 0h4m1 0h1m1 0h1m2 0h1m1 0h10m2 0h1m1 0h22m3 0h3m2 0h2m1 0h5m3 0h1m1 0h2m3 0h3m6 0h1m2 0h2m3 0h1m3 0h1m1 0h8m4 0h1m1 0h8m1 0h1m1 0h5m2 0h2m2 0h4m1 0h3m4 0h5m2 0h1m1 0h3m2 0h3m1 0h7m4 0h3m1 0h2m4 0h3m5 0h2m2 0h1m1 0h1m2 0h1m3 0h1m2 0h2m1 0h2m3 0h3m2 0h1m1 0h1m1 0h4m1 0h2m4 0h1m1 0h2m1 0h1m5 0h8m1 0h4m1 0h1m1 0h1m1 0h2m1 0h1m3 0h2m2 0h1m1 0h3m1 0h1m2 0h2m1 0h1m2 0h6m1 0h2m1 0h1m2 0h3m6 0h3m1 0h1m1 0h1m1 0h1m2 0h1m1 0h5m1 0h1m1 0h5m2 0h1m1 0h2m1 0h7m1 0h24m2 0h2m1 0h2m1 0h1m1 0h1m1 0h4m4 0h1m1 0h2m1 0h3m2 0h1m1 0h2m4 0h2m5 0h1m9 0h5m1 0h2m1 0h4m12 0h1m1 0h2m3 0h1m1 0h1m5 0h2m8 0h2m3 0h3m1 0h5m5 0h3m6 0h1m3 0h1m1 0h2m1 0h1m2 0h1m5 0h1m1 0h1m4 0h1m3 0h2m4 0h1m1 0h1m2 0h1m3 0h1m5 0h1m5 0h1m1 0h1m1 0h1m6 0h3m10 0h1m2 0h2m1 0h1m4 0h1m1 0h1m5 0h1m13 0h2m3 0h1m3 0h6m3 0h1m1 0h2m2 0h1m4 0h1m1 0h3m1 0h1m1 0h1m5 0h1m1 0h1m4 0h1m4 0h4m22 0h1m1 0h1M0 90h8m1 0h1m1 0h20m1 0h7m1 0h2m1 0h11m2 0h2m2 0h2m2 0h2m1 0h1m1 0h5m1 0h5m2 0h1m1 0h1m1 0h5m1 0h2m1 0h3m1 0h1m1 0h1m1 0h1m1 0h3m1 0h3m1 0h1m2 0h3m2 0h14m2 0h10m3 0h1m1 0h2m1 0h3m2 0h1m1 0h2m2 0h1m6 0h6m1 0h1m1 0h2m7 0h1m1 0h1m1 0h2m2 0h4m3 0h1m1 0h3m1 0h2m1 0h4m2 0h1m3 0h9m1 0h8m1 0h10m1 0h7m4 0h1m1 0h2m1 0h1m1 0h1m1 0h1m2 0h9m3 0h2m2 0h5m1 0h2m2 0h1m1 0h3m1 0h1m2 0h1m1 0h4m1 0h2m2 0h2m1 0h1m1 0h3m2 0h1m1 0h1m2 0h1m1 0h1m1 0h2m1 0h2m1 0h6m2 0h3m1 0h1m3 0h3m1 0h4m1 0h5m1 0h1m1 0h3m1 0h2m1 0h5m3 0h1m2 0h1m1 0h1m2 0h2m1 0h1m3 0h1m1 0h1m2 0h5m2 0h1m1 0h1m1 0h2m1 0h3m1 0h4m1 0h5m1 0h11m3 0h6m2 0h5m3 0h1m1 0h2m7 0h1m1 0h1m3 0h2m3 0h1m1 0h4m1 0h1m4 0h1m3 0h2m1 0h2m2 0h1m6 0h2m5 0h4m2 0h1m1 0h1m1 0h3m5 0h1m6 0h1m3 0h1m1 0h2m1 0h2m1 0h1m6 0h2m4 0h1m1 0h1m5 0h1m1 0h2m4 0h1m4 0h2m4 0h2m8 0h1m5 0h1m11 0h4m1 0h4m2 0h1m1 0h2m3 0h2m1 0h1m7 0h1m5 0h1m9 0h1m4 0h3m1 0h1m1 0h2m6 0h1m1 0h1m1 0h1m1 0h1m2 0h3m1 0h4m3 0h1m1 0h1m2 0h2m3 0h2m7 0h2m1 0h1m1 0h3m1 0h1m2 0h1m1 0h1m1 0h1m3 0h1m2 0h2m2 0h1m5 0h1m4 0h1m4 0h1m4 0h1m5 0h1m7 0h3M0 89h2m1 0h3m1 0h1m1 0h4m1 0h1m1 0h2m1 0h1m1 0h2m1 0h7m1 0h4m1 0h3m1 0h3m1 0h4m1 0h9m3 0h1m1 0h1m1 0h2m1 0h1m1 0h2m1 0h3m2 0h4m1 0h8m1 0h4m1 0h1m1 0h1m1 0h9m1 0h2m1 0h5m1 0h3m1 0h8m1 0h3m1 0h9m1 0h1m1 0h2m1 0h2m5 0h2m2 0h1m2 0h2m1 0h2m2 0h2m3 0h1m2 0h3m1 0h1m4 0h1m8 0h1m1 0h1m3 0h1m2 0h3m3 0h2m7 0h1m1 0h2m2 0h4m2 0h7m2 0h9m2 0h5m3 0h2m2 0h1m2 0h1m1 0h3m2 0h3m1 0h3m1 0h2m2 0h1m2 0h2m6 0h1m2 0h1m1 0h3m1 0h1m2 0h2m2 0h1m1 0h3m2 0h2m2 0h3m1 0h1m2 0h1m1 0h3m1 0h1m4 0h1m2 0h2m1 0h1m2 0h1m5 0h1m1 0h1m1 0h1m1 0h2m1 0h7m2 0h1m1 0h2m1 0h1m3 0h3m1 0h2m1 0h3m1 0h7m1 0h2m1 0h1m3 0h5m1 0h8m2 0h2m1 0h3m1 0h7m2 0h1m1 0h6m3 0h2m1 0h7m1 0h2m3 0h2m2 0h1m2 0h1m1 0h1m2 0h1m2 0h2m4 0h3m4 0h1m1 0h2m2 0h1m8 0h2m3 0h2m1 0h2m1 0h1m1 0h1m3 0h1m1 0h2m2 0h1m1 0h1m1 0h1m2 0h1m5 0h1m7 0h1m1 0h2m2 0h2m3 0h1m7 0h1m1 0h1m2 0h6m4 0h2m5 0h1m1 0h4m1 0h1m4 0h3m1 0h3m1 0h2m3 0h4m3 0h3m1 0h1m1 0h2m1 0h1m3 0h1m3 0h1m1 0h3m1 0h1m9 0h1m8 0h1m2 0h1m6 0h2m3 0h2m5 0h1m1 0h2m5 0h1m2 0h2m3 0h2m1 0h1m1 0h1m2 0h2m1 0h2m1 0h1m1 0h1m1 0h1m3 0h2m3 0h1m2 0h1m9 0h3m2 0h2m3 0h1m7 0h1m7 0h1m18 0h1m1 0h1m2 0h1m1 0h1M0 88h5m2 0h12m1 0h9m1 0h2m1 0h6m3 0h1m1 0h2m1 0h5m1 0h2m1 0h3m2 0h1m3 0h4m1 0h3m1 0h7m1 0h1m3 0h2m1 0h7m1 0h1m4 0h7m1 0h1m1 0h1m3 0h1m1 0h2m3 0h2m1 0h6m3 0h3m1 0h1m1 0h12m1 0h1m1 0h2m1 0h4m1 0h1m1 0h1m3 0h2m1 0h4m5 0h3m4 0h1m1 0h5m1 0h1m5 0h1m1 0h2m1 0h3m1 0h1m3 0h5m2 0h1m1 0h8m1 0h1m2 0h1m1 0h2m1 0h2m2 0h8m1 0h7m5 0h3m2 0h1m2 0h2m1 0h1m1 0h1m2 0h1m2 0h4m5 0h2m6 0h5m2 0h1m1 0h1m1 0h1m3 0h1m2 0h4m2 0h6m1 0h1m1 0h1m2 0h1m2 0h3m2 0h1m1 0h3m1 0h1m1 0h1m1 0h2m2 0h2m2 0h5m2 0h1m2 0h1m1 0h2m1 0h2m2 0h2m2 0h6m1 0h3m2 0h2m2 0h3m1 0h1m1 0h1m2 0h2m1 0h2m1 0h5m1 0h4m1 0h2m1 0h1m1 0h1m1 0h2m2 0h2m1 0h1m3 0h2m1 0h2m2 0h2m2 0h1m1 0h1m1 0h4m1 0h4m2 0h2m1 0h1m2 0h1m3 0h2m3 0h3m5 0h2m5 0h1m3 0h1m2 0h1m3 0h2m1 0h2m1 0h1m3 0h1m1 0h1m1 0h1m2 0h1m1 0h8m1 0h3m3 0h1m5 0h1m4 0h1m3 0h4m1 0h1m6 0h1m3 0h3m1 0h2m5 0h1m6 0h1m3 0h3m1 0h1m1 0h1m3 0h1m3 0h1m2 0h4m3 0h1m1 0h2m3 0h3m3 0h1m3 0h2m6 0h3m1 0h1m2 0h3m2 0h1m2 0h1m3 0h1m1 0h1m10 0h2m1 0h1m8 0h3m2 0h1m1 0h2m1 0h3m2 0h1m2 0h1m1 0h1m2 0h1m4 0h1m1 0h1m1 0h1m7 0h1m4 0h1m3 0h1m5 0h1m2 0h2m2 0h1m1 0h1m6 0h1m13 0h2m2 0h1m7 0h1m6 0h2m2 0h1m1 0h1m1 0h1M0 87h6m1 0h1m1 0h20m1 0h5m1 0h4m1 0h1m5 0h2m2 0h2m1 0h2m4 0h1m4 0h1m1 0h1m1 0h1m1 0h5m1 0h1m1 0h1m2 0h1m4 0h1m3 0h4m1 0h3m1 0h2m1 0h1m2 0h5m1 0h1m2 0h1m2 0h14m4 0h11m1 0h4m1 0h3m1 0h6m1 0h3m1 0h1m1 0h2m3 0h3m1 0h1m2 0h3m1 0h1m3 0h3m3 0h1m6 0h1m1 0h1m1 0h1m1 0h5m1 0h1m3 0h1m1 0h6m1 0h1m2 0h5m1 0h3m1 0h2m1 0h3m2 0h2m2 0h1m2 0h2m1 0h1m1 0h1m3 0h2m2 0h2m5 0h2m1 0h2m3 0h1m3 0h1m3 0h1m1 0h1m2 0h3m4 0h1m2 0h1m2 0h1m3 0h2m5 0h5m1 0h1m1 0h3m3 0h1m2 0h2m1 0h1m1 0h2m1 0h1m7 0h1m1 0h1m4 0h2m2 0h1m1 0h4m1 0h5m1 0h1m2 0h3m1 0h1m1 0h2m1 0h5m1 0h2m1 0h2m3 0h3m1 0h2m2 0h2m1 0h2m1 0h13m1 0h1m2 0h1m1 0h3m2 0h2m1 0h2m1 0h2m3 0h1m1 0h1m2 0h1m2 0h2m1 0h1m2 0h1m1 0h1m1 0h1m1 0h1m2 0h2m1 0h1m4 0h3m5 0h2m1 0h1m2 0h1m2 0h2m4 0h1m3 0h1m2 0h1m2 0h1m3 0h1m3 0h2m3 0h1m1 0h3m2 0h2m5 0h1m1 0h3m2 0h1m4 0h1m1 0h1m1 0h2m3 0h1m8 0h1m1 0h1m1 0h1m7 0h1m9 0h1m1 0h1m4 0h1m5 0h1m1 0h1m4 0h1m1 0h2m2 0h1m2 0h1m1 0h2m24 0h2m7 0h1m1 0h1m4 0h1m1 0h2m21 0h1m3 0h1m1 0h1m1 0h6m2 0h1m5 0h2m2 0h3m2 0h1m2 0h3m4 0h1m2 0h1m4 0h2m7 0h1m1 0h1m4 0h1m7 0h1m2 0h1m30 0h1m1 0h1M0 86h6m1 0h7m1 0h1m1 0h1m3 0h3m1 0h4m1 0h1m1 0h10m1 0h6m2 0h2m1 0h1m1 0h1m8 0h5m2 0h8m1 0h3m3 0h9m1 0h2m1 0h2m2 0h2m1 0h1m1 0h1m1 0h1m7 0h1m3 0h9m1 0h17m1 0h8m1 0h2m1 0h3m1 0h2m1 0h1m3 0h2m3 0h1m1 0h2m1 0h1m1 0h1m3 0h5m1 0h1m9 0h1m1 0h2m1 0h1m1 0h1m1 0h1m3 0h3m1 0h4m2 0h2m1 0h5m1 0h3m1 0h2m1 0h6m1 0h1m1 0h5m1 0h1m1 0h1m2 0h1m1 0h1m1 0h1m7 0h1m1 0h2m3 0h1m5 0h1m2 0h1m2 0h2m1 0h2m1 0h3m2 0h3m3 0h1m3 0h1m3 0h4m1 0h3m1 0h7m1 0h1m1 0h3m1 0h2m1 0h2m4 0h1m1 0h2m2 0h2m1 0h2m1 0h2m1 0h1m3 0h2m2 0h2m1 0h4m1 0h1m1 0h1m3 0h5m2 0h3m5 0h5m4 0h2m4 0h3m1 0h7m2 0h1m1 0h1m3 0h1m4 0h3m1 0h2m1 0h1m2 0h2m2 0h1m2 0h1m1 0h7m1 0h1m1 0h3m3 0h1m3 0h2m3 0h1m2 0h1m1 0h1m1 0h1m2 0h5m2 0h1m2 0h1m1 0h1m7 0h1m1 0h1m4 0h1m5 0h6m1 0h1m1 0h1m3 0h2m3 0h1m1 0h1m7 0h1m5 0h1m4 0h3m5 0h2m5 0h1m5 0h2m2 0h2m2 0h1m5 0h1m2 0h1m1 0h5m2 0h2m1 0h2m1 0h1m1 0h1m1 0h1m1 0h2m5 0h1m5 0h1m1 0h1m1 0h1m2 0h1m4 0h2m4 0h1m1 0h1m24 0h1m6 0h1m1 0h3m1 0h1m3 0h1m2 0h1m7 0h6m13 0h1m1 0h2m2 0h2m3 0h1m4 0h1m3 0h1m1 0h1m2 0h1m2 0h1m3 0h1m10 0h1m3 0h1m1 0h1m8 0h1m1 0h3m3 0h5M0 85h10m1 0h3m2 0h3m2 0h7m1 0h3m1 0h5m2 0h1m2 0h2m1 0h4m1 0h1m1 0h2m2 0h2m3 0h14m1 0h3m1 0h6m1 0h3m1 0h4m1 0h6m1 0h1m1 0h1m1 0h2m4 0h23m1 0h1m1 0h2m2 0h3m2 0h6m1 0h3m4 0h4m1 0h3m2 0h1m1 0h3m3 0h1m6 0h4m1 0h1m2 0h2m1 0h2m1 0h1m1 0h5m6 0h1m1 0h1m1 0h3m1 0h4m3 0h3m1 0h3m1 0h7m1 0h4m2 0h3m1 0h5m1 0h2m3 0h1m4 0h1m4 0h11m5 0h1m1 0h1m5 0h1m2 0h1m1 0h2m2 0h2m1 0h1m2 0h4m1 0h1m2 0h2m3 0h8m1 0h2m4 0h5m1 0h3m1 0h2m1 0h1m2 0h2m1 0h7m2 0h2m4 0h1m2 0h1m2 0h2m3 0h6m1 0h6m1 0h1m2 0h1m1 0h2m1 0h7m3 0h1m2 0h9m2 0h2m4 0h1m3 0h2m1 0h3m3 0h1m3 0h1m10 0h1m1 0h1m3 0h1m1 0h2m3 0h4m5 0h2m2 0h1m2 0h1m1 0h3m2 0h1m2 0h1m2 0h1m2 0h1m2 0h1m1 0h1m9 0h10m2 0h1m1 0h2m1 0h1m1 0h2m4 0h3m1 0h1m5 0h7m1 0h1m3 0h1m6 0h1m7 0h1m2 0h2m5 0h1m3 0h1m2 0h1m1 0h3m1 0h2m2 0h1m4 0h1m4 0h2m1 0h1m2 0h1m1 0h1m6 0h2m4 0h2m7 0h1m4 0h1m4 0h1m1 0h1m4 0h1m3 0h1m4 0h1m3 0h3m2 0h2m2 0h3m4 0h2m3 0h2m5 0h1m2 0h2m8 0h3m1 0h1m1 0h2m8 0h1m7 0h1m1 0h2m9 0h2m2 0h3m1 0h1m1 0h1m2 0h1m10 0h3m1 0h1m7 0h1m2 0h1M0 84h8m2 0h2m1 0h4m4 0h8m1 0h2m2 0h2m1 0h2m1 0h2m1 0h4m2 0h4m1 0h1m2 0h1m1 0h9m1 0h1m2 0h2m1 0h5m1 0h5m1 0h5m1 0h4m2 0h4m2 0h1m2 0h3m5 0h1m2 0h8m2 0h7m1 0h12m4 0h2m1 0h2m2 0h2m1 0h4m1 0h1m3 0h2m1 0h1m1 0h1m3 0h1m4 0h6m1 0h1m2 0h3m1 0h5m1 0h4m1 0h1m1 0h1m3 0h1m1 0h7m2 0h1m1 0h4m1 0h3m2 0h7m1 0h3m2 0h2m1 0h4m3 0h2m1 0h2m1 0h2m2 0h3m2 0h3m3 0h3m1 0h2m3 0h2m2 0h2m2 0h1m2 0h1m1 0h2m1 0h1m2 0h1m2 0h3m2 0h4m5 0h1m1 0h2m1 0h1m1 0h1m1 0h3m1 0h1m1 0h1m4 0h2m1 0h3m6 0h4m4 0h1m2 0h2m1 0h4m2 0h2m4 0h1m2 0h6m1 0h2m7 0h3m1 0h1m2 0h2m1 0h2m1 0h10m1 0h2m5 0h2m6 0h4m4 0h2m1 0h1m1 0h4m1 0h2m1 0h2m1 0h2m3 0h3m1 0h2m5 0h1m2 0h1m8 0h3m1 0h4m3 0h1m3 0h1m1 0h1m11 0h1m1 0h3m3 0h1m2 0h2m1 0h1m1 0h4m2 0h4m6 0h1m12 0h2m3 0h1m1 0h1m2 0h3m4 0h1m3 0h1m2 0h2m1 0h1m1 0h2m9 0h2m2 0h2m1 0h3m2 0h1m4 0h2m2 0h1m1 0h1m9 0h1m1 0h1m2 0h2m3 0h1m2 0h1m2 0h3m5 0h1m7 0h1m4 0h1m4 0h1m1 0h2m2 0h1m4 0h1m1 0h2m3 0h2m3 0h2m1 0h1m1 0h4m1 0h1m3 0h1m3 0h2m4 0h1m1 0h1m8 0h1m14 0h1m3 0h1m9 0h1m1 0h1m4 0h1m9 0h1m2 0h1m3 0h1m3 0h2m3 0h1M1 83h5m1 0h1m1 0h1m1 0h2m2 0h1m1 0h2m2 0h4m1 0h1m2 0h2m3 0h4m1 0h2m1 0h1m1 0h3m1 0h2m1 0h2m4 0h2m3 0h1m1 0h2m1 0h1m1 0h1m2 0h6m1 0h1m2 0h5m2 0h5m5 0h1m2 0h2m1 0h1m1 0h4m1 0h1m2 0h2m3 0h2m1 0h4m2 0h2m1 0h8m1 0h2m1 0h5m2 0h1m2 0h2m2 0h1m5 0h3m2 0h2m4 0h1m3 0h3m5 0h2m1 0h2m3 0h15m1 0h1m9 0h1m1 0h2m1 0h1m1 0h2m2 0h5m1 0h14m2 0h10m2 0h2m1 0h1m1 0h1m1 0h1m3 0h3m1 0h2m2 0h3m3 0h3m1 0h1m2 0h2m2 0h1m1 0h1m1 0h1m1 0h2m2 0h2m1 0h3m3 0h3m1 0h1m2 0h5m1 0h1m1 0h1m2 0h2m1 0h1m3 0h1m3 0h3m1 0h2m1 0h2m2 0h2m1 0h2m2 0h4m1 0h1m9 0h2m1 0h1m1 0h1m2 0h3m1 0h1m1 0h2m1 0h1m1 0h2m1 0h1m1 0h11m2 0h4m1 0h1m1 0h1m3 0h2m3 0h1m1 0h1m3 0h1m1 0h1m2 0h2m2 0h1m2 0h1m1 0h1m4 0h1m1 0h2m5 0h2m3 0h1m1 0h2m6 0h2m5 0h1m2 0h2m2 0h1m1 0h2m1 0h2m1 0h1m1 0h1m1 0h2m1 0h1m4 0h2m2 0h1m3 0h6m1 0h1m4 0h1m2 0h3m4 0h1m6 0h4m4 0h1m1 0h2m8 0h1m1 0h1m1 0h4m5 0h3m2 0h1m2 0h2m1 0h2m1 0h3m3 0h2m1 0h1m1 0h5m2 0h2m4 0h1m1 0h2m3 0h3m1 0h1m2 0h2m11 0h2m13 0h1m1 0h1m1 0h1m15 0h1m6 0h1m1 0h3m1 0h1m5 0h3m1 0h1m1 0h3m5 0h3m1 0h3m1 0h1m3 0h1m6 0h1m3 0h1m1 0h2m5 0h2m2 0h1m3 0h2m7 0h1m4 0h1m4 0h1m11 0h2m1 0h1m3 0h2m1 0h2m2 0h1M0 82h1m1 0h1m1 0h1m1 0h2m2 0h1m2 0h11m1 0h4m2 0h1m2 0h4m2 0h2m1 0h4m1 0h5m1 0h2m1 0h7m1 0h3m1 0h1m3 0h9m3 0h1m2 0h5m1 0h3m1 0h1m3 0h2m1 0h6m5 0h1m1 0h18m1 0h9m1 0h4m1 0h5m2 0h1m3 0h5m2 0h1m2 0h2m6 0h1m2 0h3m1 0h2m3 0h1m2 0h1m2 0h15m3 0h4m1 0h1m1 0h1m2 0h1m1 0h1m1 0h4m6 0h3m1 0h1m1 0h3m1 0h4m1 0h3m1 0h4m2 0h1m1 0h1m1 0h1m1 0h1m2 0h3m2 0h1m2 0h1m1 0h1m2 0h2m1 0h6m3 0h1m1 0h9m2 0h4m2 0h1m4 0h6m1 0h2m1 0h1m1 0h3m1 0h1m1 0h1m1 0h1m4 0h2m3 0h2m2 0h2m1 0h4m1 0h2m1 0h1m1 0h1m1 0h1m1 0h2m1 0h2m1 0h1m2 0h3m2 0h1m3 0h8m2 0h7m1 0h2m1 0h3m1 0h6m1 0h6m4 0h1m2 0h3m4 0h1m1 0h2m1 0h1m1 0h1m5 0h1m1 0h1m4 0h5m4 0h1m2 0h3m5 0h1m3 0h1m2 0h2m1 0h6m1 0h1m1 0h6m4 0h2m6 0h7m1 0h1m5 0h1m9 0h1m6 0h1m3 0h2m2 0h2m1 0h1m6 0h3m3 0h1m4 0h3m1 0h4m7 0h1m3 0h1m2 0h1m3 0h1m9 0h1m1 0h2m2 0h3m2 0h2m3 0h2m10 0h1m2 0h2m3 0h1m9 0h1m8 0h1m5 0h2m8 0h1m5 0h2m6 0h1m3 0h4m1 0h1m1 0h2m1 0h1m2 0h2m5 0h2m1 0h1m1 0h2m2 0h2m7 0h2m1 0h2m2 0h1m6 0h1m6 0h1m2 0h1m8 0h2m1 0h1m1 0h1m6 0h2m3 0h1m1 0h1m1 0h2m6 0h1M2 81h1m1 0h18m1 0h2m1 0h4m1 0h11m1 0h10m1 0h3m1 0h1m1 0h1m1 0h1m1 0h4m1 0h8m1 0h5m1 0h8m1 0h4m1 0h4m1 0h9m1 0h5m1 0h14m1 0h2m2 0h10m2 0h3m2 0h5m2 0h4m1 0h3m2 0h4m3 0h1m1 0h4m2 0h2m1 0h3m1 0h18m1 0h3m2 0h3m3 0h4m6 0h6m1 0h11m1 0h12m1 0h1m2 0h3m1 0h3m1 0h3m1 0h1m1 0h1m2 0h1m1 0h2m2 0h1m2 0h2m1 0h2m2 0h3m2 0h1m1 0h2m1 0h4m1 0h18m1 0h5m4 0h2m4 0h3m2 0h6m1 0h1m1 0h3m1 0h3m2 0h2m1 0h2m2 0h1m2 0h1m4 0h2m1 0h4m2 0h2m1 0h1m1 0h1m1 0h1m1 0h3m1 0h1m3 0h1m2 0h8m1 0h3m1 0h5m2 0h1m1 0h1m2 0h5m1 0h2m2 0h1m1 0h1m1 0h1m1 0h5m3 0h5m10 0h1m2 0h1m1 0h4m1 0h1m2 0h1m2 0h2m1 0h3m3 0h2m6 0h1m1 0h2m2 0h4m1 0h1m9 0h1m10 0h1m5 0h2m2 0h1m1 0h2m3 0h4m1 0h1m1 0h4m2 0h2m1 0h1m1 0h2m2 0h3m6 0h1m2 0h1m3 0h1m4 0h1m1 0h5m1 0h2m2 0h2m1 0h1m1 0h2m4 0h1m2 0h2m2 0h1m2 0h1m3 0h1m1 0h2m2 0h2m3 0h1m2 0h1m5 0h2m1 0h1m4 0h1m1 0h1m4 0h1m5 0h2m8 0h3m9 0h2m1 0h1m6 0h1m2 0h2m4 0h1m3 0h1m2 0h4m7 0h1m2 0h1m3 0h2m7 0h1m3 0h1m1 0h1m2 0h1m7 0h1m11 0h1m1 0h7m2 0h1m1 0h1m1 0h1m2 0h1M1 80h1m2 0h1m4 0h2m1 0h11m1 0h1m1 0h6m1 0h4m3 0h7m1 0h3m1 0h4m1 0h1m1 0h2m1 0h1m1 0h6m1 0h13m2 0h5m1 0h3m2 0h2m1 0h5m1 0h2m1 0h2m2 0h5m1 0h3m1 0h5m1 0h1m1 0h4m1 0h1m1 0h3m2 0h6m2 0h2m3 0h6m2 0h2m1 0h3m2 0h1m2 0h1m1 0h1m1 0h1m1 0h4m2 0h1m1 0h3m1 0h5m1 0h2m1 0h5m1 0h4m2 0h2m2 0h6m1 0h3m1 0h1m3 0h4m2 0h6m1 0h6m2 0h15m1 0h1m1 0h10m1 0h2m2 0h1m1 0h4m1 0h2m1 0h1m1 0h6m1 0h1m1 0h2m1 0h28m1 0h1m1 0h2m2 0h1m1 0h1m1 0h1m1 0h4m2 0h4m1 0h1m1 0h6m1 0h3m1 0h2m1 0h1m1 0h1m1 0h3m1 0h1m1 0h5m1 0h1m1 0h4m2 0h1m1 0h1m1 0h2m1 0h6m2 0h1m1 0h2m3 0h2m4 0h1m2 0h1m5 0h3m1 0h1m1 0h4m2 0h1m3 0h2m1 0h1m1 0h1m1 0h1m1 0h2m1 0h2m2 0h1m4 0h2m1 0h1m1 0h5m1 0h3m4 0h2m1 0h2m1 0h1m1 0h2m1 0h4m5 0h1m1 0h5m3 0h1m7 0h1m1 0h1m1 0h1m8 0h2m3 0h2m1 0h8m2 0h1m1 0h1m1 0h1m1 0h2m2 0h1m1 0h2m3 0h1m5 0h3m2 0h2m8 0h1m3 0h5m2 0h3m12 0h1m3 0h4m1 0h2m2 0h1m2 0h1m2 0h1m1 0h2m4 0h1m5 0h1m7 0h4m18 0h1m2 0h4m2 0h1m4 0h1m2 0h1m11 0h2m3 0h2m2 0h2m3 0h1m1 0h1m2 0h1m1 0h1m5 0h1m6 0h2m3 0h4m1 0h1m4 0h2m2 0h1m4 0h2m1 0h1m4 0h1m1 0h1m2 0h1m4 0h2m1 0h3m1 0h4M1 79h5m1 0h1m1 0h3m1 0h7m1 0h14m1 0h3m1 0h2m1 0h7m1 0h4m1 0h5m1 0h7m1 0h13m2 0h1m1 0h3m1 0h1m2 0h6m1 0h1m1 0h2m2 0h3m1 0h1m2 0h25m1 0h6m1 0h2m1 0h1m1 0h2m1 0h1m1 0h3m1 0h3m1 0h6m2 0h3m1 0h1m1 0h7m2 0h10m1 0h4m1 0h1m1 0h6m1 0h3m2 0h4m2 0h1m2 0h2m2 0h1m1 0h1m1 0h1m1 0h5m1 0h10m2 0h6m2 0h5m1 0h11m1 0h1m1 0h6m1 0h6m1 0h1m2 0h7m1 0h30m1 0h6m1 0h1m1 0h1m1 0h1m1 0h1m3 0h1m1 0h15m4 0h1m1 0h1m1 0h1m1 0h4m2 0h1m1 0h2m1 0h11m1 0h1m1 0h10m1 0h6m1 0h5m1 0h1m1 0h2m1 0h6m1 0h1m1 0h5m4 0h3m2 0h2m2 0h2m1 0h3m1 0h1m1 0h1m1 0h1m1 0h6m1 0h1m1 0h5m2 0h2m1 0h1m1 0h3m1 0h2m2 0h3m3 0h1m2 0h2m1 0h5m3 0h1m2 0h2m1 0h1m4 0h2m1 0h1m1 0h1m3 0h2m3 0h1m1 0h2m1 0h4m2 0h3m1 0h4m1 0h2m7 0h5m2 0h3m3 0h3m5 0h1m4 0h1m1 0h3m1 0h5m1 0h2m1 0h1m1 0h1m1 0h4m1 0h1m1 0h1m2 0h5m1 0h1m1 0h1m1 0h3m1 0h3m2 0h3m1 0h1m2 0h2m1 0h1m3 0h1m2 0h3m1 0h1m1 0h4m1 0h3m1 0h7m1 0h5m7 0h1m1 0h1m1 0h1m1 0h1m1 0h1m6 0h1m1 0h1m2 0h1m2 0h1m1 0h1m2 0h2m3 0h1m11 0h2m2 0h2m3 0h2m1 0h2m1 0h1m11 0h5m2 0h1m1 0h2m2 0h1m1 0h1m2 0h1m4 0h1m1 0h1m1 0h1m1 0h1M1 78h6m1 0h2m1 0h2m3 0h1m1 0h1m1 0h2m1 0h2m3 0h2m1 0h4m1 0h1m1 0h1m1 0h10m1 0h1m1 0h7m1 0h7m1 0h1m1 0h10m1 0h3m1 0h1m1 0h2m2 0h6m1 0h2m1 0h1m3 0h4m4 0h3m1 0h6m2 0h1m1 0h2m1 0h1m2 0h3m1 0h4m1 0h5m1 0h1m3 0h1m1 0h5m1 0h3m1 0h1m1 0h1m2 0h1m2 0h2m1 0h1m3 0h2m3 0h2m1 0h3m1 0h4m1 0h1m1 0h1m1 0h1m2 0h1m2 0h2m10 0h2m1 0h1m1 0h5m5 0h3m7 0h2m1 0h9m1 0h16m1 0h1m1 0h2m1 0h3m2 0h1m2 0h2m1 0h2m2 0h16m1 0h1m1 0h4m1 0h1m1 0h1m1 0h1m1 0h1m1 0h13m1 0h2m1 0h3m2 0h1m1 0h6m1 0h6m1 0h3m1 0h6m3 0h1m5 0h4m2 0h4m1 0h4m1 0h1m3 0h5m1 0h2m2 0h2m1 0h10m2 0h1m1 0h1m1 0h4m1 0h5m1 0h2m1 0h2m1 0h2m2 0h1m2 0h1m3 0h2m1 0h5m1 0h1m1 0h1m1 0h1m1 0h8m1 0h1m1 0h3m1 0h3m1 0h3m1 0h2m1 0h3m4 0h2m2 0h1m2 0h1m1 0h3m1 0h1m3 0h3m4 0h2m3 0h3m2 0h1m1 0h4m1 0h1m2 0h5m1 0h2m3 0h1m1 0h1m3 0h3m1 0h1m1 0h4m2 0h1m1 0h1m1 0h1m3 0h1m2 0h4m6 0h2m1 0h1m1 0h16m1 0h9m1 0h2m1 0h4m1 0h10m1 0h6m2 0h1m1 0h11m1 0h15m1 0h8m1 0h1m2 0h2m5 0h1m1 0h1m4 0h1m2 0h2m4 0h1m2 0h3m1 0h1m3 0h1m1 0h3m4 0h1m4 0h2m1 0h2m13 0h1m5 0h2m1 0h1m3 0h1m5 0h1m4 0h1m3 0h2m1 0h1m4 0h1M2 77h3m2 0h1m2 0h1m2 0h1m2 0h1m2 0h3m5 0h4m3 0h1m1 0h1m2 0h2m1 0h1m4 0h2m1 0h3m2 0h3m1 0h1m1 0h1m4 0h3m2 0h6m1 0h2m2 0h1m3 0h1m1 0h1m2 0h1m1 0h1m3 0h5m2 0h2m5 0h1m1 0h1m2 0h1m4 0h1m7 0h1m1 0h1m4 0h1m4 0h6m3 0h7m2 0h1m1 0h1m5 0h1m3 0h1m2 0h1m3 0h2m2 0h2m2 0h3m1 0h1m3 0h1m2 0h1m1 0h1m1 0h1m3 0h1m2 0h1m1 0h2m3 0h1m3 0h1m7 0h1m1 0h3m2 0h1m1 0h1m2 0h1m4 0h2m1 0h1m1 0h8m2 0h3m3 0h9m2 0h1m1 0h2m2 0h1m2 0h1m1 0h2m1 0h1m1 0h1m1 0h2m2 0h1m1 0h1m1 0h1m1 0h1m1 0h1m1 0h5m2 0h1m1 0h3m1 0h5m2 0h2m1 0h1m1 0h1m1 0h14m4 0h3m3 0h4m2 0h2m1 0h6m2 0h1m6 0h1m1 0h3m1 0h1m1 0h7m1 0h1m3 0h5m1 0h1m1 0h1m1 0h9m1 0h23m1 0h5m1 0h1m2 0h4m1 0h3m1 0h8m1 0h3m1 0h2m2 0h4m1 0h1m6 0h1m3 0h2m2 0h1m4 0h1m1 0h7m1 0h3m1 0h1m2 0h7m2 0h3m1 0h6m1 0h4m1 0h7m1 0h13m1 0h1m1 0h11m1 0h1m1 0h1m1 0h2m1 0h9m1 0h16m2 0h40m1 0h5m1 0h35m1 0h1m1 0h8m2 0h1m7 0h1m1 0h2m1 0h1m5 0h1m3 0h1m2 0h1m2 0h1m1 0h1m2 0h1m4 0h2m1 0h1m2 0h2m1 0h1m1 0h1m4 0h1m2 0h3m3 0h2m2 0h1m2 0h5m1 0h1m4 0h3m1 0h1m1 0h3m1 0h1M2 76h1m13 0h1m5 0h2m4 0h1m12 0h1m2 0h1m1 0h3m1 0h1m1 0h5m3 0h1m6 0h3m3 0h1m5 0h2m1 0h2m2 0h1m6 0h1m3 0h1m4 0h2m5 0h1m11 0h3m2 0h1m9 0h1m4 0h1m2 0h1m6 0h2m2 0h2m2 0h1m2 0h3m5 0h1m2 0h1m2 0h1m1 0h1m3 0h2m2 0h2m1 0h1m2 0h1m1 0h2m1 0h1m3 0h1m3 0h1m5 0h1m14 0h1m4 0h1m12 0h1m5 0h1m2 0h4m2 0h1m6 0h1m3 0h2m1 0h1m1 0h1m1 0h3m1 0h2m7 0h1m4 0h1m1 0h2m5 0h1m4 0h1m5 0h1m1 0h1m3 0h2m2 0h1m3 0h1m1 0h1m6 0h1m1 0h1m7 0h1m5 0h3m2 0h2m1 0h4m4 0h4m7 0h1m2 0h2m1 0h2m2 0h1m1 0h2m1 0h2m1 0h2m2 0h2m4 0h1m1 0h1m1 0h1m3 0h12m1 0h11m1 0h4m1 0h1m1 0h1m1 0h4m3 0h1m1 0h6m1 0h2m1 0h4m1 0h3m1 0h4m1 0h4m1 0h1m1 0h1m2 0h3m1 0h1m1 0h1m1 0h3m1 0h5m1 0h2m1 0h20m1 0h10m1 0h38m3 0h63m1 0h31m1 0h5m1 0h4m1 0h23m1 0h1m2 0h2m1 0h5m1 0h1m1 0h1m1 0h2m5 0h3m3 0h2m5 0h1m1 0h1m8 0h1m7 0h1m1 0h1m8 0h2m1 0h1m5 0h3m1 0h6m1 0h1m1 0h1M7 75h1m6 0h1m4 0h1m8 0h1m5 0h1m4 0h2m7 0h1m4 0h1m1 0h1m8 0h1m2 0h3m5 0h2m1 0h3m4 0h1m9 0h1m1 0h1m7 0h1m1 0h1m5 0h1m8 0h1m8 0h1m4 0h1m6 0h1m2 0h2m3 0h1m2 0h1m10 0h1m1 0h1m1 0h1m15 0h1m3 0h1m2 0h2m5 0h1m1 0h1m16 0h1m13 0h1m13 0h1m6 0h1m9 0h1m1 0h1m7 0h1m3 0h2m1 0h1m8 0h1m7 0h1m1 0h2m1 0h1m1 0h2m17 0h1m9 0h1m20 0h2m3 0h4m7 0h1m1 0h1m11 0h1m3 0h1m2 0h1m2 0h1m4 0h2m5 0h2m4 0h1m1 0h1m11 0h14m2 0h1m1 0h6m1 0h3m1 0h2m1 0h4m1 0h3m3 0h1m1 0h4m2 0h1m1 0h4m1 0h3m1 0h1m1 0h3m1 0h1m1 0h1m3 0h1m1 0h3m2 0h5m1 0h41m2 0h4m1 0h20m1 0h6m1 0h33m1 0h3m1 0h17m1 0h33m1 0h15m1 0h17m2 0h7m1 0h1m1 0h1m1 0h2m1 0h1m1 0h2m4 0h2m1 0h5m2 0h1m1 0h1m4 0h2m3 0h1m1 0h1m2 0h2m3 0h2m1 0h1m2 0h4m1 0h4m1 0h2m1 0h1m1 0h3m6 0h4m4 0h1M12 74h1m4 0h1m2 0h1m7 0h1m1 0h1m3 0h1m10 0h2m4 0h1m2 0h1m5 0h2m4 0h1m5 0h1m4 0h1m1 0h1m10 0h1m2 0h1m7 0h2m2 0h2m6 0h1m4 0h1m3 0h1m16 0h1m7 0h2m4 0h1m7 0h1m1 0h1m3 0h1m1 0h1m10 0h1m2 0h1m4 0h1m2 0h1m5 0h1m2 0h1m1 0h1m3 0h1m4 0h1m4 0h1m17 0h1m1 0h1m4 0h2m3 0h1m9 0h1m3 0h1m8 0h1m3 0h1m8 0h1m3 0h1m8 0h1m2 0h3m3 0h1m7 0h1m13 0h1m1 0h3m2 0h1m3 0h1m4 0h1m1 0h2m9 0h1m3 0h2m2 0h1m17 0h2m4 0h2m5 0h1m1 0h2m1 0h2m5 0h1m5 0h2m2 0h2m5 0h2m1 0h2m2 0h2m1 0h4m1 0h1m4 0h3m4 0h4m1 0h1m1 0h1m1 0h2m2 0h3m2 0h1m6 0h1m2 0h2m1 0h4m2 0h1m2 0h2m2 0h4m1 0h3m2 0h158m1 0h20m1 0h17m1 0h27m2 0h2m1 0h1m1 0h3m1 0h1m3 0h3m2 0h1m2 0h1m2 0h1m2 0h1m8 0h1m3 0h2m2 0h2m3 0h2m1 0h4m1 0h5m1 0h1m1 0h2m2 0h2m2 0h1m1 0h2M25 73h1m5 0h1m4 0h1m16 0h1m2 0h1m8 0h1m11 0h1m10 0h1m3 0h1m1 0h1m2 0h1m11 0h3m11 0h2m12 0h1m6 0h1m2 0h1m4 0h2m3 0h1m1 0h1m7 0h2m8 0h1m4 0h1m13 0h1m2 0h1m3 0h1m12 0h1m11 0h1m6 0h1m2 0h1m7 0h1m2 0h1m5 0h1m6 0h1m2 0h1m1 0h1m2 0h1m7 0h1m2 0h3m6 0h1m18 0h1m9 0h1m1 0h1m2 0h1m1 0h1m4 0h1m13 0h1m8 0h1m1 0h1m5 0h3m4 0h1m9 0h1m7 0h1m2 0h2m2 0h2m3 0h4m1 0h1m3 0h3m6 0h3m2 0h3m1 0h1m4 0h1m1 0h2m1 0h3m3 0h1m5 0h1m3 0h1m2 0h3m3 0h1m1 0h1m1 0h1m1 0h2m12 0h1m2 0h1m2 0h4m3 0h5m1 0h26m2 0h7m1 0h28m1 0h27m1 0h13m1 0h1m6 0h3m1 0h1m2 0h4m1 0h1m1 0h18m1 0h5m1 0h4m1 0h1m1 0h3m1 0h3m1 0h18m1 0h4m1 0h1m1 0h3m1 0h29m1 0h1m1 0h4m1 0h2m1 0h8m2 0h1m3 0h1m1 0h6m1 0h3m1 0h2m1 0h15m1 0h14m2 0h2m2 0h4M0 72h1m27 0h1m6 0h2m4 0h1m5 0h1m4 0h3m5 0h1m8 0h1m3 0h1m4 0h1m1 0h1m1 0h1m3 0h3m2 0h2m14 0h1m18 0h1m3 0h1m12 0h1m1 0h1m4 0h1m2 0h5m4 0h2m10 0h1m3 0h1m1 0h1m6 0h1m5 0h1m3 0h1m1 0h4m1 0h1m1 0h1m2 0h1m4 0h1m2 0h1m19 0h1m34 0h1m8 0h2m5 0h1m8 0h1m1 0h1m8 0h3m2 0h1m1 0h1m12 0h1m6 0h1m1 0h1m9 0h1m6 0h1m1 0h1m3 0h1m1 0h2m2 0h1m4 0h1m4 0h2m14 0h1m2 0h1m3 0h1m2 0h1m9 0h1m2 0h1m7 0h1m1 0h1m3 0h1m3 0h1m1 0h4m2 0h2m1 0h1m3 0h1m2 0h2m5 0h2m3 0h2m2 0h2m2 0h2m1 0h2m2 0h1m2 0h2m4 0h4m2 0h1m2 0h4m2 0h4m1 0h1m1 0h2m1 0h6m1 0h4m1 0h1m1 0h20m1 0h7m2 0h1m1 0h4m1 0h30m1 0h7m1 0h1m1 0h2m1 0h1m1 0h3m1 0h12m1 0h25m1 0h1m1 0h1m6 0h3m1 0h1m1 0h5m1 0h1m1 0h3m1 0h4m1 0h1m2 0h6m1 0h4m1 0h2m1 0h29m1 0h3m1 0h14m1 0h1m1 0h4m1 0h5m1 0h20m1 0h3m1 0h19M17 71h1m1 0h1m9 0h2m1 0h1m4 0h1m4 0h1m8 0h1m2 0h1m4 0h1m2 0h1m7 0h1m11 0h1m11 0h1m1 0h1m11 0h1m1 0h1m27 0h1m17 0h1m5 0h1m3 0h2m5 0h1m6 0h1m5 0h1m1 0h4m6 0h1m2 0h1m4 0h1m3 0h1m3 0h1m59 0h2m4 0h1m25 0h1m18 0h1m2 0h2m2 0h1m6 0h1m6 0h1m1 0h1m3 0h1m1 0h1m4 0h1m3 0h1m2 0h1m1 0h1m6 0h2m2 0h1m6 0h1m4 0h3m1 0h1m3 0h2m7 0h3m1 0h1m1 0h1m4 0h1m6 0h1m2 0h2m5 0h4m5 0h1m2 0h1m1 0h1m1 0h2m1 0h2m3 0h1m1 0h1m4 0h3m1 0h3m1 0h1m1 0h1m3 0h3m1 0h1m1 0h2m4 0h1m1 0h4m1 0h5m1 0h1m1 0h1m1 0h1m3 0h1m2 0h3m1 0h2m1 0h2m1 0h11m1 0h2m1 0h2m1 0h1m1 0h11m1 0h6m1 0h3m1 0h5m1 0h1m2 0h5m1 0h14m1 0h1m2 0h1m1 0h1m2 0h1m2 0h22m1 0h3m1 0h10m1 0h2m1 0h1m1 0h2m1 0h5m2 0h6m1 0h2m2 0h1m2 0h1m1 0h1m4 0h1m3 0h4m1 0h1m1 0h3m1 0h4m1 0h9m1 0h27m1 0h7m1 0h17m1 0h39M23 70h1m16 0h1m18 0h2m12 0h1m5 0h1m2 0h1m3 0h1m11 0h1m11 0h1m16 0h1m3 0h1m10 0h1m7 0h1m1 0h1m3 0h1m23 0h1m1 0h1m5 0h1m1 0h1m10 0h1m16 0h1m9 0h1m20 0h1m11 0h1m2 0h1m15 0h1m2 0h1m7 0h1m6 0h2m3 0h1m3 0h1m2 0h1m6 0h1m3 0h1m3 0h1m4 0h1m1 0h1m12 0h1m21 0h1m2 0h1m9 0h1m1 0h1m6 0h1m1 0h1m1 0h1m3 0h1m1 0h1m2 0h2m4 0h1m6 0h2m1 0h3m3 0h3m1 0h1m10 0h1m1 0h1m1 0h3m8 0h2m4 0h1m2 0h1m2 0h3m2 0h1m1 0h3m4 0h1m3 0h2m3 0h2m1 0h2m3 0h5m1 0h2m4 0h2m1 0h2m2 0h1m1 0h1m2 0h1m2 0h2m1 0h1m5 0h5m1 0h1m2 0h5m2 0h5m2 0h2m5 0h6m3 0h1m3 0h1m1 0h1m1 0h1m1 0h1m1 0h1m4 0h1m2 0h3m2 0h3m5 0h2m2 0h39m1 0h3m1 0h3m6 0h5m1 0h1m3 0h1m3 0h1m1 0h1m1 0h2m1 0h2m1 0h1m1 0h6m4 0h2m1 0h5m1 0h1m2 0h1m1 0h96M37 69h1m23 0h1m21 0h2m26 0h1m13 0h1m9 0h1m4 0h1m4 0h1m1 0h1m7 0h1m15 0h1m13 0h1m4 0h1m4 0h1m9 0h1m9 0h1m44 0h1m25 0h1m11 0h2m16 0h1m6 0h2m9 0h1m4 0h1m7 0h1m8 0h1m1 0h1m8 0h1m1 0h1m1 0h2m1 0h1m5 0h1m2 0h1m1 0h1m7 0h1m3 0h3m1 0h4m1 0h4m6 0h2m1 0h1m6 0h1m1 0h1m1 0h1m4 0h1m15 0h1m2 0h1m3 0h1m5 0h1m1 0h1m3 0h2m1 0h1m1 0h5m4 0h1m9 0h1m3 0h1m4 0h2m1 0h1m1 0h1m2 0h2m1 0h2m2 0h1m1 0h1m2 0h1m1 0h4m2 0h1m2 0h1m2 0h3m1 0h1m1 0h2m5 0h1m2 0h1m1 0h6m1 0h1m1 0h4m1 0h2m1 0h2m1 0h1m1 0h1m2 0h3m4 0h1m3 0h1m2 0h1m2 0h1m2 0h7m1 0h2m1 0h1m1 0h19m2 0h14m3 0h3m1 0h4m4 0h1m1 0h4m1 0h3m1 0h5m1 0h4m3 0h2m1 0h2m3 0h3m2 0h2m6 0h8m1 0h25m1 0h56m1 0h8M33 68h1m15 0h1m1 0h1m10 0h1m4 0h2m15 0h1m18 0h1m2 0h1m1 0h1m2 0h1m2 0h1m12 0h2m1 0h1m5 0h2m2 0h1m4 0h1m10 0h1m22 0h2m5 0h1m5 0h1m8 0h1m8 0h1m4 0h1m1 0h1m10 0h1m1 0h1m14 0h1m4 0h1m3 0h1m15 0h1m11 0h1m6 0h1m25 0h1m7 0h1m10 0h1m4 0h1m6 0h1m6 0h1m8 0h1m1 0h1m3 0h1m1 0h1m1 0h1m4 0h3m17 0h1m1 0h1m1 0h2m5 0h2m7 0h1m1 0h1m4 0h2m6 0h2m5 0h1m2 0h2m3 0h1m2 0h1m3 0h1m8 0h1m1 0h1m4 0h1m4 0h1m1 0h1m2 0h1m5 0h1m2 0h2m1 0h1m1 0h2m3 0h3m2 0h1m3 0h1m1 0h1m3 0h1m3 0h1m1 0h1m2 0h1m1 0h3m4 0h1m1 0h4m1 0h6m1 0h1m3 0h1m2 0h1m1 0h3m1 0h3m1 0h1m2 0h3m2 0h7m4 0h2m2 0h1m3 0h2m1 0h1m2 0h8m1 0h1m1 0h1m1 0h4m1 0h11m1 0h18m1 0h8m1 0h1m1 0h5m2 0h2m2 0h2m2 0h2m1 0h1m1 0h1m1 0h7m5 0h2m2 0h4m2 0h8m1 0h9m1 0h2m1 0h14m1 0h33m2 0h7m1 0h19m2 0h7M50 67h1m11 0h1m33 0h1m15 0h1m5 0h1m17 0h2m3 0h1m27 0h1m19 0h1m8 0h1m8 0h1m6 0h1m59 0h1m5 0h1m26 0h1m15 0h1m1 0h1m23 0h1m1 0h1m9 0h1m1 0h1m6 0h3m18 0h1m3 0h1m10 0h1m10 0h2m1 0h1m2 0h3m8 0h1m5 0h1m9 0h1m4 0h1m11 0h2m5 0h1m2 0h1m2 0h1m5 0h1m11 0h1m6 0h2m5 0h2m1 0h4m2 0h3m1 0h1m9 0h2m2 0h5m2 0h1m1 0h1m1 0h6m3 0h1m3 0h6m3 0h1m2 0h1m6 0h2m5 0h1m1 0h8m1 0h5m1 0h34m1 0h7m2 0h3m6 0h1m1 0h3m3 0h2m2 0h3m1 0h1m1 0h3m1 0h16m1 0h1m1 0h6m1 0h4m1 0h4m2 0h1m2 0h3m1 0h5m2 0h3m2 0h4m2 0h3m1 0h6m1 0h3m1 0h3m1 0h2m1 0h5m1 0h1m1 0h1m1 0h10m1 0h14m1 0h7M64 66h1m12 0h1m23 0h1m1 0h1m2 0h1m7 0h1m9 0h1m11 0h1m18 0h1m24 0h3m23 0h1m52 0h1m12 0h3m17 0h1m4 0h1m6 0h1m9 0h1m10 0h1m6 0h1m24 0h1m14 0h1m6 0h1m22 0h1m6 0h1m5 0h1m1 0h1m7 0h1m7 0h1m5 0h1m13 0h1m5 0h1m10 0h1m4 0h1m4 0h1m4 0h1m1 0h2m1 0h1m3 0h1m18 0h1m1 0h1m2 0h3m1 0h2m1 0h1m1 0h1m1 0h1m3 0h1m3 0h1m1 0h1m1 0h1m5 0h1m1 0h2m1 0h2m1 0h1m3 0h1m9 0h1m3 0h4m1 0h3m1 0h3m2 0h3m2 0h3m1 0h14m1 0h12m1 0h27m1 0h1m1 0h4m1 0h2m2 0h4m1 0h1m1 0h1m1 0h2m1 0h1m5 0h1m1 0h3m1 0h4m1 0h22m2 0h2m1 0h1m2 0h7m1 0h5m2 0h2m1 0h1m2 0h7m1 0h1m2 0h31m1 0h1m2 0h6m1 0h9m1 0h1M60 65h1m14 0h1m7 0h1m10 0h1m2 0h1m2 0h1m4 0h1m11 0h1m6 0h1m19 0h2m20 0h1m2 0h1m11 0h1m33 0h1m154 0h1m8 0h1m16 0h1m3 0h1m18 0h1m4 0h1m5 0h1m8 0h1m7 0h2m2 0h1m20 0h1m3 0h1m16 0h1m3 0h2m2 0h2m3 0h1m2 0h1m6 0h1m4 0h2m1 0h1m6 0h1m5 0h1m4 0h3m2 0h1m2 0h1m1 0h2m2 0h4m3 0h2m1 0h2m1 0h1m1 0h1m1 0h1m1 0h1m1 0h2m3 0h3m1 0h6m1 0h18m1 0h11m2 0h12m1 0h1m1 0h9m1 0h1m2 0h9m2 0h1m1 0h1m5 0h1m1 0h2m2 0h1m1 0h1m1 0h1m1 0h2m2 0h5m1 0h25m1 0h6m1 0h1m4 0h1m1 0h2m6 0h1m1 0h8m2 0h11m2 0h21m1 0h5m2 0h1m2 0h2m1 0h3M136 64h1m4 0h3m1 0h1m10 0h1m1 0h1m22 0h1m165 0h1m25 0h1m27 0h1m30 0h1m2 0h1m1 0h1m1 0h1m7 0h1m5 0h1m4 0h1m32 0h1m1 0h1m8 0h1m9 0h1m9 0h1m1 0h1m6 0h1m2 0h1m2 0h2m2 0h1m1 0h2m1 0h1m1 0h2m3 0h1m1 0h2m1 0h1m1 0h1m4 0h2m2 0h2m1 0h1m1 0h1m1 0h1m2 0h2m1 0h2m1 0h4m1 0h5m1 0h43m1 0h11m3 0h3m1 0h2m1 0h1m5 0h2m1 0h3m1 0h1m1 0h4m1 0h6m2 0h2m2 0h3m3 0h25m2 0h1m1 0h2m1 0h2m1 0h1m5 0h1m2 0h1m2 0h3m1 0h36m2 0h1m1 0h6m1 0h1m1 0h4m2 0h1m1 0h1M379 63h1m16 0h1m4 0h1m26 0h1m14 0h1m22 0h1m3 0h1m11 0h1m11 0h1m16 0h1m1 0h1m9 0h1m5 0h1m1 0h1m1 0h1m6 0h1m2 0h2m2 0h3m2 0h1m1 0h1m1 0h1m3 0h1m2 0h1m1 0h4m1 0h5m3 0h10m1 0h1m1 0h20m1 0h11m1 0h14m1 0h4m1 0h8m1 0h4m1 0h2m1 0h5m2 0h2m1 0h2m1 0h2m3 0h7m2 0h1m1 0h15m1 0h12m1 0h5m1 0h1m1 0h3m1 0h2m8 0h1m2 0h5m1 0h38m2 0h7m1 0h7m2 0h1M396 62h1m4 0h1m3 0h1m11 0h1m34 0h1m41 0h1m9 0h1m1 0h1m23 0h1m1 0h3m3 0h2m1 0h2m3 0h1m2 0h2m5 0h1m1 0h3m1 0h1m2 0h5m3 0h1m4 0h7m1 0h3m1 0h3m2 0h1m1 0h14m1 0h23m1 0h6m2 0h5m6 0h2m4 0h3m2 0h3m2 0h5m2 0h1m1 0h2m1 0h4m2 0h2m1 0h11m1 0h2m1 0h2m1 0h3m3 0h1m1 0h1m6 0h1m1 0h1m4 0h1m3 0h1m3 0h2m3 0h3m1 0h4m1 0h7m1 0h12m1 0h21m3 0h3m1 0h5M45 61h1m406 0h1m14 0h1m24 0h1m11 0h2m5 0h1m13 0h1m7 0h1m4 0h1m1 0h2m1 0h1m1 0h1m1 0h1m2 0h1m7 0h1m3 0h1m3 0h1m1 0h2m7 0h1m3 0h1m4 0h3m1 0h3m1 0h3m2 0h2m1 0h9m1 0h2m2 0h7m1 0h12m2 0h13m2 0h2m1 0h2m1 0h2m1 0h2m1 0h2m3 0h4m1 0h2m2 0h7m2 0h5m1 0h2m1 0h2m1 0h2m1 0h2m2 0h4m1 0h2m2 0h1m5 0h1m9 0h1m2 0h1m1 0h2m6 0h1m1 0h3m2 0h1m1 0h4m1 0h36m2 0h5m5 0h1M138 60h1m391 0h1m7 0h1m12 0h1m6 0h1m2 0h1m1 0h1m14 0h1m7 0h1m1 0h1m2 0h1m1 0h1m11 0h2m1 0h1m4 0h1m10 0h2m1 0h1m2 0h3m1 0h3m3 0h1m5 0h2m3 0h1m2 0h1m1 0h1m2 0h1m3 0h1m2 0h1m2 0h1m1 0h5m15 0h1m7 0h1m3 0h1m4 0h1m23 0h1m8 0h3m2 0h2m2 0h1m2 0h2m1 0h2m1 0h14m1 0h21m4 0h2m6 0h1M508 59h1m42 0h1m14 0h1m13 0h1m4 0h1m17 0h1m4 0h1m9 0h1m11 0h1m19 0h1m15 0h1m3 0h1m19 0h1m65 0h2m1 0h7m1 0h14m1 0h19m5 0h2M170 58h1m396 0h1m22 0h1m53 0h1m116 0h1m3 0h1m4 0h5m1 0h1m4 0h1m3 0h1m1 0h1m3 0h2m3 0h1m3 0h1m6 0h1M755 57h1m35 0h2M762 56h1m4 0h1M11 54h1M442 53h1M318 51h1M535 48h1m10 0h1m5 0h1m199 0h1M417 46h1M206 45h1M665 43h1M608 42h1M450 37h1M538 33h1M402 21h1"/>
<path stroke="#0000ad" d="M618 124h1m21 0h1m124 0h1M423 123h1m1 0h1m17 0h2m68 0h1M150 122h1m434 0h1m49 0h1m106 0h1m38 0h1M170 121h1m215 0h1m57 0h1m20 0h1m74 0h1m98 0h2m22 0h1m64 0h1M267 120h1m24 0h1m68 0h1m56 0h2m7 0h1m17 0h1m18 0h1m18 0h1m61 0h1m101 0h1m49 0h1m30 0h1m38 0h1m3 0h1M108 119h1m135 0h1m42 0h1m53 0h1m59 0h1m9 0h1m58 0h1m6 0h1m4 0h1m26 0h1m32 0h1m124 0h1m28 0h1m3 0h1m32 0h1m2 0h1m7 0h1m38 0h1m10 0h1M109 118h1m73 0h1m29 0h1m1 0h1m10 0h1m4 0h1m9 0h1m2 0h1m19 0h1m24 0h1m5 0h1m58 0h1m28 0h1m12 0h1m10 0h1m10 0h1m82 0h2m17 0h1m96 0h1m2 0h1m10 0h1m10 0h1m2 0h1m17 0h1m20 0h1m25 0h1m54 0h1M10 117h1m92 0h1m36 0h1m3 0h1m7 0h1m17 0h1m28 0h1m18 0h1m18 0h1m39 0h1m3 0h2m25 0h1m7 0h1m6 0h1m33 0h1m4 0h1m7 0h1m3 0h1m17 0h1m13 0h2m4 0h2m7 0h1m12 0h1m6 0h1m12 0h1m6 0h2m7 0h1m7 0h2m1 0h1m1 0h1m17 0h1m27 0h1m25 0h1m21 0h1m41 0h1m2 0h1m8 0h1m7 0h2m1 0h1m3 0h1m5 0h1m8 0h1m1 0h1m85 0h1m7 0h1m17 0h2m16 0h1M11 116h1m114 0h1m23 0h1m19 0h1m8 0h1m3 0h1m23 0h1m27 0h1m13 0h1m33 0h1m1 0h1m13 0h1m53 0h1m20 0h1m17 0h1m1 0h2m7 0h1m11 0h1m8 0h1m2 0h1m36 0h1m6 0h1m38 0h1m3 0h1m104 0h1m6 0h1m21 0h1m17 0h1m5 0h1m5 0h1m15 0h1m1 0h1m10 0h1m4 0h1m10 0h1m24 0h1m1 0h2m25 0h1m10 0h1M47 115h1m27 0h1m17 0h1m31 0h1m5 0h1m7 0h1m41 0h1m32 0h1m14 0h1m1 0h1m7 0h1m6 0h1m9 0h1m4 0h1m2 0h1m13 0h1m2 0h3m15 0h1m7 0h1m4 0h1m42 0h2m6 0h1m39 0h1m13 0h1m25 0h1m34 0h1m5 0h1m16 0h1m55 0h1m34 0h1m26 0h1m9 0h1m20 0h1m8 0h1m11 0h1m3 0h1m4 0h1m1 0h1m32 0h1m14 0h1m14 0h1m12 0h2m6 0h1m10 0h1m19 0h1M12 114h1m35 0h1m26 0h1m36 0h1m29 0h1m6 0h2m10 0h1m15 0h1m4 0h1m15 0h1m25 0h1m3 0h2m9 0h1m9 0h1m2 0h1m26 0h1m20 0h1m1 0h1m13 0h1m17 0h1m11 0h1m6 0h1m2 0h1m68 0h1m1 0h1m10 0h1m4 0h1m6 0h2m13 0h1m23 0h1m5 0h1m3 0h1m5 0h1m6 0h1m11 0h1m20 0h1m3 0h1m5 0h1m30 0h1m14 0h2m36 0h1m10 0h2m8 0h1m6 0h2m4 0h1m3 0h1m1 0h2m1 0h1m3 0h1m5 0h1m3 0h1m11 0h1m4 0h1m1 0h1m18 0h1m2 0h1m28 0h1m10 0h1m15 0h1m4 0h1M6 113h1m5 0h2m20 0h1m40 0h1m2 0h1m2 0h1m41 0h1m24 0h1m27 0h1m13 0h1m7 0h1m1 0h1m11 0h1m3 0h3m6 0h2m6 0h1m3 0h1m5 0h1m7 0h1m4 0h1m3 0h1m6 0h1m7 0h1m1 0h1m24 0h1m7 0h2m51 0h2m16 0h1m18 0h1m18 0h1m13 0h1m3 0h1m1 0h1m4 0h1m1 0h1m23 0h1m17 0h2m6 0h1m4 0h2m16 0h1m37 0h1m4 0h1m21 0h1m20 0h1m11 0h1m2 0h1m2 0h2m12 0h1m6 0h1m2 0h1m5 0h1m31 0h1m15 0h1m3 0h1m2 0h1m31 0h1m21 0h2m34 0h1m1 0h1M42 112h1m12 0h1m8 0h1m10 0h1m25 0h1m21 0h1m8 0h1m5 0h1m9 0h1m12 0h1m5 0h1m2 0h1m5 0h1m5 0h1m3 0h1m1 0h1m3 0h2m1 0h1m27 0h2m1 0h1m8 0h1m8 0h1m7 0h1m12 0h1m4 0h1m16 0h1m3 0h2m50 0h1m7 0h2m4 0h1m25 0h1m13 0h1m2 0h1m22 0h1m7 0h1m6 0h1m4 0h1m14 0h1m30 0h1m1 0h1m15 0h2m3 0h1m27 0h1m17 0h1m6 0h1m3 0h1m10 0h1m11 0h2m21 0h1m22 0h1m9 0h1m3 0h2m10 0h1m2 0h1m5 0h1m1 0h1m5 0h1m5 0h1m11 0h1m3 0h1m40 0h1m2 0h1m6 0h2m20 0h1m1 0h1m7 0h1m11 0h1M24 111h2m5 0h1m25 0h1m3 0h1m12 0h1m17 0h1m31 0h1m5 0h2m7 0h1m5 0h1m5 0h3m8 0h1m4 0h1m15 0h1m3 0h1m1 0h1m2 0h1m2 0h2m1 0h1m57 0h1m6 0h1m12 0h1m5 0h1m16 0h1m9 0h1m12 0h1m2 0h1m9 0h1m2 0h1m3 0h1m12 0h1m1 0h1m6 0h1m1 0h2m17 0h1m7 0h1m3 0h1m1 0h1m15 0h2m7 0h1m1 0h1m13 0h1m6 0h3m6 0h1m11 0h1m1 0h1m3 0h1m14 0h1m6 0h1m5 0h3m1 0h1m13 0h1m9 0h2m9 0h1m16 0h1m2 0h2m6 0h1m10 0h1m1 0h1m1 0h2m13 0h1m25 0h1m4 0h1m3 0h1m7 0h1m26 0h3m1 0h1m1 0h1m5 0h1m19 0h1m2 0h1m3 0h1m11 0h1m11 0h1m4 0h1m13 0h1m1 0h1m1 0h1m1 0h1m7 0h1m14 0h1m26 0h1M0 110h1m9 0h1m36 0h1m27 0h1m24 0h1m28 0h1m4 0h1m1 0h3m6 0h1m2 0h1m1 0h1m1 0h1m5 0h1m3 0h2m1 0h1m3 0h1m1 0h2m8 0h1m5 0h1m8 0h1m5 0h1m1 0h1m21 0h1m9 0h2m1 0h1m9 0h1m13 0h3m2 0h2m15 0h1m8 0h1m1 0h1m11 0h1m1 0h1m12 0h1m12 0h2m14 0h1m5 0h1m5 0h2m1 0h1m2 0h1m1 0h1m7 0h1m3 0h1m2 0h1m3 0h1m2 0h2m3 0h1m14 0h1m1 0h1m7 0h2m6 0h1m5 0h1m4 0h2m13 0h1m6 0h1m2 0h2m22 0h1m20 0h1m6 0h1m10 0h1m8 0h1m6 0h3m5 0h1m5 0h1m14 0h1m8 0h1m2 0h1m8 0h1m15 0h1m16 0h1m7 0h1m9 0h1m15 0h1m1 0h1m5 0h1m8 0h2m5 0h2m2 0h1m9 0h1m19 0h2m1 0h2m21 0h1m3 0h3m13 0h1m14 0h1m8 0h1m9 0h1M0 109h1m10 0h1m38 0h1m24 0h1m15 0h1m20 0h1m20 0h1m2 0h1m7 0h1m3 0h1m1 0h1m2 0h3m11 0h1m3 0h1m8 0h1m2 0h1m5 0h4m10 0h1m1 0h1m10 0h1m5 0h2m4 0h1m7 0h1m11 0h1m1 0h2m3 0h3m1 0h2m2 0h1m8 0h1m17 0h1m16 0h3m2 0h1m7 0h1m17 0h1m2 0h1m1 0h2m20 0h1m2 0h1m2 0h1m4 0h1m3 0h1m8 0h2m2 0h1m17 0h1m3 0h1m4 0h2m7 0h1m1 0h1m4 0h1m17 0h1m42 0h1m28 0h1m1 0h1m19 0h1m6 0h1m32 0h1m9 0h1m2 0h1m2 0h1m6 0h1m7 0h1m2 0h1m7 0h1m2 0h1m46 0h1m2 0h1m3 0h1m11 0h1m4 0h1m13 0h1m1 0h1m6 0h1m5 0h1m20 0h1m22 0h1m21 0h1M32 108h1m34 0h1m5 0h1m1 0h1m56 0h1m1 0h1m5 0h1m2 0h1m2 0h1m1 0h1m3 0h3m8 0h2m4 0h1m7 0h3m1 0h2m2 0h1m4 0h1m7 0h2m5 0h1m1 0h1m10 0h1m5 0h1m25 0h1m9 0h1m1 0h1m3 0h1m6 0h1m4 0h2m13 0h1m3 0h1m11 0h2m1 0h1m30 0h1m1 0h1m22 0h2m1 0h3m20 0h1m5 0h1m5 0h1m8 0h1m2 0h1m2 0h1m9 0h1m20 0h1m4 0h1m19 0h1m36 0h1m3 0h2m4 0h2m7 0h1m6 0h1m1 0h1m4 0h1m1 0h1m11 0h1m15 0h1m6 0h1m14 0h1m3 0h1m9 0h1m18 0h1m10 0h1m27 0h2m10 0h1m15 0h1m18 0h1m12 0h1m16 0h1m25 0h2m6 0h1m4 0h1m6 0h1M7 107h1m55 0h1m1 0h1m14 0h3m3 0h1m15 0h1m41 0h1m10 0h1m6 0h1m1 0h1m4 0h1m5 0h1m2 0h1m3 0h2m6 0h1m7 0h1m4 0h2m2 0h1m4 0h1m17 0h1m1 0h1m1 0h1m1 0h2m22 0h1m11 0h1m1 0h1m1 0h2m17 0h1m12 0h1m2 0h1m20 0h1m4 0h2m4 0h1m1 0h2m4 0h3m7 0h2m8 0h1m2 0h1m11 0h1m2 0h1m6 0h1m3 0h1m14 0h2m7 0h2m1 0h1m2 0h2m6 0h1m15 0h1m3 0h1m6 0h1m16 0h1m1 0h1m1 0h2m3 0h3m27 0h1m4 0h1m2 0h1m9 0h1m7 0h1m23 0h1m4 0h1m34 0h1m9 0h1m1 0h1m1 0h1m18 0h1m17 0h1m14 0h1m2 0h1m14 0h1m3 0h1m3 0h1m1 0h1m7 0h1m1 0h1m1 0h3m10 0h1m9 0h1m6 0h1m25 0h1m3 0h1m1 0h1m3 0h2m1 0h1m2 0h1m7 0h1M3 106h1m11 0h1m66 0h2m15 0h1m7 0h1m18 0h1m3 0h1m4 0h1m10 0h1m16 0h1m1 0h1m4 0h1m1 0h1m2 0h1m9 0h1m4 0h2m2 0h1m4 0h1m3 0h1m1 0h2m8 0h1m3 0h1m8 0h1m2 0h1m7 0h1m7 0h2m3 0h1m2 0h1m4 0h1m47 0h1m2 0h2m12 0h1m8 0h2m7 0h3m12 0h1m16 0h1m5 0h1m11 0h1m1 0h1m4 0h3m16 0h1m1 0h1m14 0h1m10 0h1m25 0h1m8 0h1m41 0h1m1 0h1m2 0h1m39 0h1m14 0h1m1 0h1m15 0h3m6 0h2m1 0h1m3 0h1m16 0h1m30 0h1m7 0h1m16 0h1m6 0h1m25 0h2m16 0h1m5 0h1m12 0h1m1 0h1m6 0h1m9 0h1m1 0h2m6 0h1m5 0h1m7 0h1M30 105h1m6 0h1m3 0h2m24 0h1m8 0h1m46 0h1m6 0h1m13 0h2m2 0h1m5 0h1m7 0h1m6 0h1m1 0h1m4 0h1m12 0h4m10 0h1m4 0h1m6 0h1m2 0h1m10 0h2m9 0h1m11 0h1m1 0h1m1 0h2m13 0h1m6 0h2m11 0h1m3 0h1m3 0h1m3 0h1m10 0h1m29 0h1m11 0h1m6 0h1m11 0h1m16 0h4m4 0h1m1 0h1m14 0h1m1 0h1m4 0h1m1 0h1m1 0h1m5 0h2m7 0h1m21 0h1m2 0h1m7 0h1m10 0h1m24 0h1m9 0h1m45 0h1m6 0h1m19 0h1m3 0h1m1 0h1m3 0h1m6 0h1m5 0h1m2 0h1m3 0h1m6 0h2m9 0h1m2 0h1m8 0h2m12 0h2m8 0h1m6 0h1m8 0h1m9 0h1m51 0h2m6 0h1m16 0h1m6 0h1m12 0h1M0 104h1m3 0h1m4 0h1m55 0h1m11 0h2m20 0h1m7 0h1m30 0h1m3 0h1m15 0h1m9 0h1m20 0h1m2 0h1m25 0h2m9 0h1m16 0h1m1 0h1m22 0h1m11 0h2m9 0h1m1 0h1m4 0h1m13 0h2m9 0h1m31 0h1m30 0h2m1 0h1m4 0h1m2 0h2m44 0h1m3 0h1m14 0h2m9 0h1m5 0h1m1 0h1m3 0h1m19 0h1m7 0h1m3 0h1m4 0h1m7 0h1m9 0h1m13 0h2m3 0h1m32 0h1m4 0h1m5 0h1m8 0h1m3 0h2m6 0h1m15 0h1m35 0h1m18 0h1m4 0h1m24 0h1m1 0h1m14 0h1m2 0h2m9 0h1m20 0h3m2 0h1m4 0h1m4 0h2m8 0h1M10 103h1m23 0h1m6 0h3m11 0h1m11 0h1m7 0h1m11 0h1m19 0h1m18 0h1m8 0h2m10 0h1m3 0h2m18 0h1m1 0h1m2 0h2m4 0h2m6 0h3m7 0h1m4 0h1m11 0h1m12 0h1m18 0h1m13 0h1m2 0h1m1 0h3m4 0h1m12 0h2m2 0h1m1 0h1m4 0h1m5 0h1m6 0h2m12 0h1m25 0h1m8 0h2m3 0h1m23 0h1m3 0h1m3 0h1m13 0h1m20 0h1m1 0h2m9 0h2m19 0h2m47 0h2m26 0h2m4 0h1m50 0h1m3 0h3m16 0h1m1 0h1m37 0h2m9 0h1m35 0h2m6 0h2m23 0h1m5 0h2m4 0h1m12 0h1m11 0h1m1 0h2m2 0h2M1 102h1m2 0h1m16 0h1m28 0h1m35 0h1m1 0h1m39 0h1m3 0h1m1 0h1m5 0h1m2 0h2m18 0h1m1 0h1m4 0h1m10 0h2m8 0h1m1 0h1m12 0h1m1 0h1m5 0h1m5 0h1m3 0h1m15 0h1m8 0h1m6 0h1m4 0h1m8 0h1m2 0h1m1 0h1m3 0h1m2 0h2m23 0h1m4 0h1m9 0h1m27 0h1m3 0h1m1 0h1m3 0h1m3 0h2m11 0h1m1 0h1m5 0h1m3 0h1m2 0h2m13 0h1m3 0h1m2 0h1m2 0h1m1 0h1m14 0h1m16 0h1m6 0h1m7 0h1m14 0h1m2 0h1m4 0h1m32 0h1m1 0h1m10 0h1m14 0h1m2 0h1m4 0h2m10 0h1m13 0h1m15 0h2m2 0h1m14 0h1m3 0h1m6 0h1m33 0h1m2 0h1m25 0h1m8 0h1m29 0h1m5 0h1m9 0h1m5 0h1m12 0h1m4 0h2m4 0h2M1 101h2m21 0h1m8 0h1m4 0h2m2 0h1m7 0h1m23 0h2m27 0h1m22 0h3m6 0h1m1 0h1m6 0h1m22 0h1m3 0h1m3 0h1m14 0h1m1 0h1m16 0h1m1 0h1m2 0h1m4 0h1m4 0h1m6 0h1m12 0h1m14 0h1m3 0h1m4 0h1m7 0h1m1 0h2m1 0h1m34 0h2m31 0h1m12 0h1m7 0h1m9 0h1m8 0h1m2 0h1m2 0h1m9 0h2m1 0h1m8 0h1m14 0h1m1 0h1m3 0h1m19 0h2m8 0h1m7 0h1m11 0h1m6 0h1m57 0h1m18 0h1m6 0h1m4 0h1m7 0h1m4 0h1m3 0h1m2 0h1m10 0h1m3 0h1m2 0h1m3 0h1m1 0h1m3 0h1m2 0h1m14 0h1m14 0h1m9 0h1m6 0h1m11 0h1m2 0h1m2 0h1m10 0h1m9 0h1m11 0h2m2 0h1m10 0h1m4 0h1m11 0h1m1 0h1m17 0h1m8 0h1m4 0h1M13 100h1m42 0h2m24 0h1m15 0h1m4 0h1m23 0h2m4 0h1m3 0h1m4 0h1m9 0h1m8 0h1m3 0h1m3 0h1m5 0h1m6 0h1m15 0h3m2 0h1m4 0h1m1 0h1m4 0h1m5 0h4m4 0h1m11 0h1m29 0h1m7 0h1m2 0h1m7 0h1m20 0h1m2 0h1m1 0h1m14 0h1m29 0h1m2 0h3m8 0h1m14 0h1m6 0h1m1 0h1m4 0h1m11 0h2m23 0h1m13 0h1m5 0h1m5 0h1m9 0h1m31 0h1m6 0h1m3 0h1m12 0h1m1 0h1m5 0h1m15 0h1m2 0h1m2 0h1m17 0h1m2 0h1m4 0h1m8 0h1m20 0h1m1 0h1m3 0h1m15 0h1m4 0h2m16 0h1m5 0h1m8 0h1m6 0h1m6 0h1m1 0h1m6 0h2m1 0h1m4 0h1m28 0h1m12 0h1m3 0h1m20 0h1m1 0h1m4 0h1m9 0h1M0 99h1m1 0h1m7 0h1m11 0h1m3 0h1m7 0h1m1 0h1m37 0h1m1 0h1m5 0h1m12 0h1m1 0h1m21 0h1m10 0h1m2 0h1m7 0h2m8 0h1m2 0h1m5 0h1m16 0h1m6 0h1m1 0h1m12 0h1m1 0h1m1 0h1m54 0h1m1 0h2m6 0h1m9 0h1m6 0h1m2 0h1m25 0h1m1 0h1m4 0h1m9 0h1m1 0h1m2 0h1m32 0h1m46 0h3m3 0h1m3 0h1m21 0h1m4 0h2m3 0h1m3 0h2m3 0h1m19 0h3m5 0h1m15 0h1m31 0h1m4 0h2m18 0h1m24 0h1m5 0h1m6 0h1m8 0h1m3 0h1m1 0h2m19 0h1m7 0h1m4 0h1m4 0h1m12 0h1m5 0h1m20 0h1m4 0h2m6 0h1m3 0h1m5 0h1m11 0h1m9 0h1m2 0h1m9 0h1m4 0h1m3 0h1M7 98h1m2 0h1m2 0h1m20 0h1m9 0h1m29 0h1m6 0h2m24 0h2m1 0h1m17 0h1m3 0h1m4 0h1m12 0h3m6 0h1m4 0h1m1 0h1m8 0h1m4 0h1m1 0h1m3 0h1m14 0h2m1 0h1m3 0h1m1 0h1m1 0h1m5 0h1m12 0h1m1 0h1m12 0h1m9 0h1m3 0h1m1 0h1m6 0h1m21 0h1m10 0h1m8 0h1m1 0h1m1 0h1m2 0h1m3 0h1m5 0h1m8 0h2m12 0h1m8 0h1m4 0h1m9 0h1m9 0h1m33 0h1m8 0h1m3 0h1m6 0h1m7 0h1m9 0h1m6 0h1m8 0h1m11 0h1m1 0h2m7 0h1m38 0h1m3 0h1m3 0h1m24 0h1m12 0h3m5 0h2m3 0h1m5 0h1m4 0h3m3 0h1m2 0h1m3 0h1m18 0h1m10 0h1m2 0h1m5 0h1m3 0h1m9 0h1m10 0h1m6 0h1m13 0h1m4 0h1m2 0h1m1 0h2m23 0h2m34 0h1m11 0h1M1 97h1m11 0h1m12 0h1m25 0h2m35 0h1m16 0h1m9 0h1m6 0h1m13 0h1m21 0h1m7 0h1m11 0h2m5 0h2m29 0h1m4 0h2m7 0h1m8 0h1m1 0h1m1 0h1m3 0h1m3 0h1m2 0h1m3 0h1m1 0h1m11 0h1m7 0h1m3 0h1m2 0h1m1 0h1m6 0h1m3 0h1m13 0h1m4 0h1m4 0h1m4 0h3m3 0h1m27 0h1m6 0h1m8 0h1m11 0h2m4 0h1m12 0h1m9 0h3m3 0h1m10 0h1m13 0h1m11 0h2m7 0h1m1 0h1m9 0h1m6 0h1m17 0h1m30 0h1m8 0h2m19 0h1m34 0h1m24 0h2m1 0h1m4 0h1m5 0h1m2 0h1m1 0h1m14 0h1m7 0h1m3 0h1m14 0h1m7 0h1m6 0h1m7 0h1m10 0h1m8 0h1m4 0h1m21 0h1m11 0h1M0 96h1m15 0h1m25 0h1m19 0h1m7 0h1m4 0h2m6 0h1m2 0h2m27 0h2m7 0h1m5 0h1m44 0h1m25 0h1m25 0h1m5 0h1m13 0h1m4 0h1m8 0h1m4 0h1m2 0h1m6 0h1m6 0h1m9 0h1m7 0h1m19 0h1m1 0h1m5 0h1m7 0h1m20 0h1m12 0h2m4 0h1m1 0h1m22 0h1m3 0h1m19 0h3m12 0h2m2 0h1m4 0h2m11 0h1m1 0h1m4 0h2m10 0h1m22 0h1m5 0h1m25 0h1m3 0h1m3 0h1m16 0h1m1 0h1m7 0h1m2 0h1m12 0h1m10 0h1m7 0h1m8 0h1m3 0h1m16 0h1m5 0h1m16 0h1m14 0h1m1 0h1m5 0h1m5 0h1m3 0h1m23 0h2m27 0h1m9 0h1m8 0h2M21 95h1m14 0h1m16 0h1m10 0h1m41 0h1m23 0h1m4 0h1m5 0h1m4 0h1m1 0h1m9 0h1m8 0h1m19 0h2m7 0h1m3 0h2m3 0h1m2 0h2m2 0h1m3 0h1m1 0h1m6 0h1m6 0h1m1 0h2m17 0h1m9 0h1m5 0h1m11 0h2m2 0h1m21 0h1m3 0h1m9 0h1m4 0h1m15 0h1m2 0h2m3 0h1m4 0h1m3 0h1m2 0h1m5 0h1m1 0h2m5 0h1m11 0h1m9 0h1m3 0h1m5 0h1m2 0h1m9 0h1m2 0h2m6 0h1m2 0h1m11 0h2m2 0h1m6 0h1m6 0h1m4 0h1m2 0h2m4 0h4m5 0h1m15 0h2m18 0h1m12 0h1m2 0h1m6 0h1m4 0h1m27 0h1m9 0h1m52 0h1m24 0h2m10 0h1m21 0h1m14 0h1m25 0h1m4 0h2m1 0h1m14 0h1m12 0h1M31 94h1m1 0h1m17 0h1m8 0h1m24 0h1m8 0h1m4 0h1m5 0h1m10 0h1m27 0h1m1 0h1m2 0h1m15 0h1m1 0h1m1 0h1m1 0h1m12 0h1m7 0h1m8 0h2m2 0h1m4 0h2m5 0h1m2 0h1m4 0h1m2 0h1m16 0h1m1 0h1m2 0h1m3 0h1m1 0h1m13 0h1m11 0h1m4 0h1m3 0h2m8 0h1m2 0h1m2 0h2m2 0h1m9 0h1m4 0h1m18 0h1m2 0h1m2 0h1m3 0h3m7 0h1m5 0h1m7 0h1m26 0h1m4 0h1m16 0h2m6 0h1m2 0h2m1 0h2m6 0h4m3 0h2m10 0h1m6 0h1m6 0h1m13 0h1m2 0h1m5 0h1m16 0h2m18 0h1m48 0h1m11 0h1m11 0h2m1 0h1m17 0h1m31 0h1m3 0h1m6 0h1m18 0h1m2 0h1m26 0h1m13 0h1m1 0h1m16 0h1M3 93h1m1 0h1m9 0h1m15 0h1m31 0h1m6 0h1m14 0h1m7 0h1m21 0h1m9 0h1m4 0h2m10 0h1m14 0h1m3 0h1m7 0h2m16 0h1m3 0h2m5 0h1m3 0h1m7 0h1m4 0h1m4 0h2m5 0h2m2 0h1m2 0h1m5 0h1m13 0h1m2 0h1m8 0h1m1 0h1m3 0h1m4 0h1m6 0h1m3 0h1m2 0h2m15 0h1m16 0h1m27 0h1m7 0h1m4 0h1m4 0h1m14 0h1m9 0h1m7 0h1m8 0h2m1 0h1m10 0h1m1 0h1m9 0h1m2 0h2m8 0h2m4 0h1m9 0h1m11 0h1m13 0h1m2 0h3m8 0h1m1 0h1m4 0h1m3 0h1m17 0h1m2 0h3m42 0h1m2 0h1m17 0h1m26 0h1m29 0h1m3 0h1m27 0h1m7 0h1m9 0h1m13 0h2m21 0h1m9 0h1m21 0h1m2 0h1M17 92h1m4 0h1m1 0h1m3 0h1m1 0h1m2 0h1m1 0h1m1 0h1m7 0h1m4 0h1m3 0h1m40 0h1m23 0h1m1 0h1m12 0h2m2 0h1m5 0h2m10 0h2m4 0h1m17 0h1m7 0h1m2 0h2m4 0h1m3 0h3m1 0h1m5 0h2m7 0h1m6 0h1m3 0h1m4 0h1m11 0h1m7 0h1m3 0h1m3 0h1m3 0h1m8 0h1m4 0h1m15 0h2m28 0h1m7 0h1m6 0h1m8 0h2m7 0h1m8 0h3m9 0h1m35 0h1m1 0h2m9 0h1m12 0h2m4 0h1m2 0h1m12 0h1m3 0h1m3 0h1m2 0h1m25 0h1m3 0h1m15 0h1m7 0h2m4 0h1m1 0h1m8 0h1m4 0h1m12 0h1m2 0h1m93 0h2m12 0h1m8 0h1m7 0h1m28 0h1m1 0h1m3 0h1m7 0h1m4 0h1m3 0h1m11 0h1m4 0h1m17 0h1m15 0h1m9 0h1M3 91h1m7 0h1m9 0h1m3 0h1m5 0h1m20 0h1m10 0h1m1 0h1m12 0h1m18 0h1m15 0h1m13 0h1m5 0h1m3 0h1m7 0h1m3 0h1m37 0h1m2 0h2m4 0h1m4 0h1m2 0h2m8 0h1m7 0h1m3 0h1m4 0h1m14 0h1m1 0h1m8 0h1m8 0h1m1 0h1m31 0h1m14 0h1m14 0h1m10 0h1m4 0h1m8 0h1m8 0h1m5 0h1m45 0h1m5 0h1m4 0h1m1 0h2m8 0h2m2 0h1m2 0h1m3 0h1m1 0h1m1 0h1m1 0h1m7 0h1m7 0h1m7 0h1m1 0h2m6 0h1m1 0h1m16 0h1m42 0h1m6 0h1m16 0h1m18 0h1m7 0h1m8 0h1m19 0h1m10 0h1m9 0h1m42 0h1m37 0h1m1 0h1m11 0h1m24 0h1M12 90h1m36 0h1m2 0h2m2 0h1m18 0h1m31 0h1m5 0h1m11 0h1m4 0h1m1 0h1m8 0h2m1 0h3m6 0h1m1 0h2m6 0h1m9 0h2m21 0h1m3 0h1m7 0h2m6 0h1m9 0h1m6 0h1m1 0h1m1 0h1m10 0h1m1 0h1m2 0h1m12 0h1m1 0h1m11 0h1m2 0h2m6 0h1m9 0h1m2 0h1m1 0h1m3 0h1m5 0h1m4 0h1m7 0h2m15 0h2m4 0h1m13 0h1m2 0h1m4 0h3m1 0h1m3 0h1m3 0h1m6 0h1m27 0h1m6 0h1m11 0h1m3 0h1m6 0h2m8 0h1m1 0h1m6 0h1m16 0h1m1 0h1m15 0h1m22 0h1m14 0h1m2 0h1m6 0h1m13 0h1m1 0h2m16 0h1m24 0h1m9 0h1m5 0h1m14 0h1m3 0h2m10 0h1m15 0h1m21 0h1m6 0h1m8 0h1m4 0h1m15 0h2m14 0h1m4 0h1m25 0h1M9 89h3m5 0h1m4 0h1m4 0h1m46 0h1m1 0h1m4 0h1m5 0h1m6 0h2m14 0h1m20 0h1m6 0h2m6 0h1m6 0h2m5 0h1m10 0h1m28 0h1m9 0h1m19 0h1m2 0h1m8 0h1m10 0h1m10 0h1m6 0h1m1 0h1m19 0h1m10 0h1m2 0h1m5 0h1m3 0h1m3 0h1m6 0h1m10 0h1m25 0h1m6 0h2m5 0h1m1 0h2m16 0h1m5 0h1m11 0h1m4 0h2m3 0h1m2 0h2m5 0h1m4 0h2m4 0h1m1 0h1m2 0h1m7 0h3m2 0h1m1 0h1m5 0h1m29 0h1m31 0h1m23 0h1m1 0h1m4 0h1m3 0h1m15 0h2m5 0h2m7 0h2m23 0h1m125 0h3m42 0h1m1 0h1M9 88h1m11 0h1m29 0h1m9 0h1m13 0h2m18 0h1m6 0h1m3 0h1m3 0h1m5 0h1m10 0h2m1 0h1m6 0h1m9 0h1m6 0h1m2 0h1m1 0h1m13 0h1m18 0h1m12 0h1m4 0h1m5 0h1m3 0h1m4 0h1m8 0h1m2 0h1m23 0h1m7 0h1m2 0h1m13 0h1m16 0h1m8 0h1m21 0h1m12 0h1m9 0h1m7 0h1m12 0h1m1 0h2m8 0h1m4 0h1m8 0h3m1 0h1m1 0h1m15 0h1m8 0h1m5 0h2m6 0h1m27 0h1m7 0h1m11 0h2m9 0h1m40 0h1m10 0h1m24 0h1m5 0h1m14 0h1m14 0h1m6 0h2m3 0h1m9 0h1m7 0h1m1 0h1m1 0h1m10 0h1m29 0h1m8 0h1m4 0h1m12 0h1m3 0h1m12 0h1m3 0h1m55 0h1M19 87h1m5 0h1m12 0h2m1 0h1m10 0h1m14 0h1m14 0h1m18 0h1m16 0h1m7 0h2m1 0h1m6 0h3m4 0h2m1 0h1m1 0h2m3 0h1m6 0h1m3 0h1m1 0h1m1 0h1m2 0h1m5 0h1m5 0h1m2 0h1m3 0h1m14 0h1m3 0h1m1 0h2m9 0h1m8 0h1m1 0h3m13 0h1m6 0h1m2 0h1m5 0h2m3 0h1m8 0h2m3 0h1m37 0h1m16 0h1m29 0h1m4 0h1m3 0h1m4 0h1m1 0h1m6 0h1m6 0h1m4 0h2m3 0h1m8 0h1m6 0h1m3 0h2m1 0h1m46 0h1m46 0h1m19 0h1m1 0h1m9 0h1m1 0h2m34 0h1m19 0h1m36 0h1m8 0h1m1 0h1m41 0h1m31 0h1m4 0h2m9 0h1m46 0h1m1 0h1M0 86h1m45 0h1m26 0h2m12 0h1m7 0h1m1 0h1m26 0h1m2 0h1m1 0h1m1 0h1m3 0h1m3 0h1m3 0h1m1 0h3m16 0h2m27 0h1m21 0h1m9 0h1m26 0h1m14 0h1m1 0h1m26 0h1m6 0h1m20 0h1m1 0h2m7 0h1m2 0h1m8 0h1m8 0h1m19 0h2m1 0h1m1 0h1m2 0h1m6 0h2m12 0h1m2 0h2m11 0h2m7 0h1m4 0h1m8 0h1m9 0h1m9 0h3m1 0h1m5 0h1m4 0h1m22 0h1m7 0h1m38 0h1m35 0h1m6 0h1m24 0h2m1 0h1m6 0h1m1 0h1m12 0h1m51 0h1m1 0h1m10 0h1m28 0h1m4 0h1m12 0h1m4 0h1m41 0h2M9 85h1m53 0h1m2 0h1m1 0h1m12 0h1m4 0h1m3 0h1m6 0h2m18 0h1m1 0h1m1 0h2m3 0h1m6 0h1m6 0h2m8 0h2m1 0h1m10 0h1m1 0h1m1 0h2m23 0h1m12 0h1m8 0h1m3 0h3m1 0h1m1 0h1m15 0h1m6 0h1m4 0h1m4 0h1m3 0h1m9 0h1m9 0h4m15 0h1m8 0h1m13 0h1m5 0h3m14 0h2m16 0h1m3 0h1m14 0h1m7 0h1m3 0h1m6 0h1m9 0h2m1 0h1m9 0h2m3 0h1m3 0h1m10 0h1m7 0h1m23 0h1m3 0h2m18 0h1m38 0h1m25 0h1m27 0h1m18 0h1m8 0h1m20 0h1m4 0h1m13 0h1m6 0h1m13 0h1m9 0h1m4 0h1m5 0h1m14 0h1m24 0h1m9 0h1m15 0h1m30 0h1M10 84h2m3 0h1m5 0h1m65 0h1m2 0h1m5 0h1m19 0h1m14 0h3m7 0h1m21 0h3m7 0h1m1 0h1m17 0h1m4 0h1m2 0h1m1 0h1m2 0h1m2 0h1m13 0h3m4 0h1m1 0h1m7 0h2m4 0h1m23 0h1m8 0h1m4 0h1m12 0h1m33 0h1m18 0h1m3 0h1m21 0h1m17 0h1m12 0h1m9 0h1m7 0h1m2 0h1m1 0h1m17 0h1m5 0h1m8 0h1m5 0h2m3 0h3m26 0h2m33 0h1m9 0h1m46 0h1m53 0h1m12 0h1m26 0h1m2 0h1m6 0h1m59 0h1m15 0h1m25 0h1M9 83h1m35 0h1m37 0h1m2 0h1m3 0h2m1 0h1m11 0h1m4 0h1m24 0h2m4 0h1m3 0h1m1 0h1m3 0h1m2 0h1m20 0h1m3 0h1m1 0h1m5 0h1m18 0h1m4 0h1m9 0h1m2 0h1m11 0h1m3 0h1m3 0h2m11 0h1m2 0h1m6 0h1m5 0h1m3 0h2m2 0h1m4 0h1m4 0h1m3 0h1m2 0h1m17 0h1m5 0h2m5 0h1m41 0h1m1 0h1m14 0h1m2 0h1m3 0h1m19 0h1m4 0h1m17 0h1m3 0h1m13 0h1m4 0h1m30 0h1m8 0h1m3 0h1m1 0h1m4 0h1m31 0h1m4 0h1m17 0h1m8 0h1m1 0h1m18 0h1m23 0h1m32 0h1m14 0h1m1 0h1m1 0h1m15 0h1m9 0h1m8 0h1m6 0h1m14 0h1m3 0h1m6 0h1m12 0h2m2 0h1m3 0h1M10 82h1m2 0h1m3 0h1m19 0h1m7 0h2m16 0h1m5 0h1m5 0h2m3 0h1m7 0h1m1 0h1m4 0h2m1 0h1m3 0h2m1 0h2m12 0h1m1 0h3m7 0h2m4 0h1m3 0h1m1 0h1m4 0h1m39 0h2m13 0h1m1 0h3m4 0h1m5 0h1m3 0h1m1 0h1m6 0h1m20 0h2m4 0h1m13 0h1m7 0h1m14 0h1m23 0h1m4 0h2m6 0h1m1 0h1m15 0h1m4 0h1m2 0h1m5 0h1m6 0h1m1 0h1m2 0h1m4 0h1m3 0h1m3 0h1m4 0h1m9 0h1m7 0h1m1 0h1m1 0h1m3 0h1m8 0h1m35 0h1m1 0h2m9 0h1m13 0h1m2 0h1m4 0h1m3 0h5m5 0h2m42 0h1m5 0h1m6 0h1m16 0h2m31 0h1m51 0h1m43 0h1m3 0h1m5 0h1m5 0h1m12 0h1m1 0h1m10 0h1m9 0h1m9 0h1m10 0h1m8 0h1M5 81h2m1 0h1m1 0h1m3 0h1m9 0h1m16 0h1m45 0h2m9 0h1m4 0h1m16 0h3m2 0h1m8 0h2m2 0h1m1 0h1m3 0h1m14 0h1m4 0h1m4 0h1m9 0h1m11 0h1m6 0h1m15 0h2m8 0h3m11 0h1m9 0h1m8 0h4m8 0h1m7 0h1m5 0h1m4 0h1m13 0h1m1 0h1m10 0h1m4 0h1m11 0h1m1 0h1m4 0h1m5 0h1m11 0h1m1 0h1m1 0h1m3 0h2m3 0h1m3 0h1m2 0h1m6 0h1m13 0h1m4 0h1m1 0h1m26 0h1m1 0h2m7 0h1m2 0h1m8 0h1m7 0h1m4 0h1m26 0h1m11 0h2m55 0h2m3 0h1m2 0h1m4 0h1m2 0h1m29 0h1m23 0h1m2 0h1m13 0h1m27 0h1m6 0h1m23 0h1m9 0h2m12 0h2m15 0h1m8 0h1M10 80h1m1 0h1m2 0h1m13 0h1m5 0h1m10 0h1m3 0h1m18 0h1m1 0h1m7 0h1m1 0h3m4 0h1m12 0h1m14 0h1m6 0h1m5 0h1m2 0h3m4 0h1m20 0h1m3 0h1m10 0h1m7 0h1m3 0h1m14 0h1m5 0h1m6 0h1m2 0h1m4 0h1m11 0h1m3 0h1m2 0h1m3 0h1m7 0h1m2 0h1m12 0h1m6 0h1m1 0h1m9 0h1m24 0h2m3 0h2m3 0h1m18 0h1m4 0h1m10 0h2m2 0h1m2 0h1m3 0h1m1 0h1m11 0h2m7 0h1m4 0h1m6 0h1m4 0h1m4 0h1m15 0h1m9 0h1m21 0h1m1 0h1m12 0h1m3 0h2m2 0h1m8 0h2m1 0h1m8 0h1m7 0h1m17 0h1m21 0h2m1 0h1m11 0h2m2 0h1m2 0h1m11 0h1m3 0h1m61 0h1m38 0h1m25 0h2m51 0h1m5 0h1m24 0h1m1 0h1M4 79h1m4 0h1m35 0h1m11 0h1m6 0h2m13 0h1m5 0h1m21 0h1m7 0h1m4 0h1m1 0h2m2 0h1m1 0h2m4 0h1m10 0h1m2 0h1m8 0h1m5 0h1m10 0h1m7 0h1m9 0h1m3 0h1m14 0h1m2 0h2m12 0h1m2 0h1m3 0h1m5 0h1m1 0h2m7 0h1m2 0h2m2 0h2m3 0h1m1 0h1m10 0h1m1 0h1m1 0h1m4 0h1m1 0h1m1 0h1m1 0h1m8 0h2m12 0h1m10 0h1m4 0h1m1 0h1m2 0h1m2 0h1m3 0h1m8 0h1m9 0h1m5 0h2m11 0h1m1 0h2m1 0h1m10 0h1m2 0h2m2 0h1m8 0h1m1 0h1m3 0h2m11 0h1m5 0h1m2 0h2m14 0h1m2 0h2m11 0h1m4 0h1m3 0h1m3 0h1m2 0h2m3 0h1m1 0h1m25 0h1m6 0h1m2 0h1m30 0h2m1 0h2m3 0h1m12 0h1m2 0h1m6 0h2m40 0h1m89 0h1m4 0h1m2 0h1m20 0h1m7 0h1m15 0h2m4 0h1m2 0h1m4 0h1M4 78h1m1 0h1m24 0h1m6 0h1m10 0h1m8 0h1m3 0h1m1 0h1m4 0h1m14 0h1m3 0h1m3 0h1m14 0h1m41 0h1m13 0h1m9 0h1m2 0h1m11 0h1m4 0h2m29 0h1m1 0h3m20 0h1m5 0h1m1 0h1m3 0h1m7 0h1m6 0h1m11 0h1m5 0h1m1 0h1m7 0h1m2 0h1m1 0h1m27 0h1m5 0h1m9 0h3m1 0h1m3 0h2m14 0h1m5 0h2m4 0h1m17 0h1m1 0h1m11 0h1m8 0h1m2 0h1m9 0h1m2 0h1m3 0h1m5 0h1m3 0h2m7 0h1m1 0h1m15 0h1m6 0h1m37 0h1m25 0h1m56 0h1m27 0h1m2 0h2m2 0h2m2 0h1m8 0h1m36 0h1m11 0h1m16 0h1m3 0h1m6 0h1m5 0h1m41 0h1m4 0h1m3 0h1m2 0h1M2 77h1m10 0h1m6 0h1m7 0h1m13 0h1m14 0h1m14 0h1m2 0h1m2 0h2m11 0h1m52 0h1m10 0h1m3 0h1m11 0h1m6 0h1m9 0h1m1 0h1m3 0h1m4 0h1m8 0h1m6 0h1m28 0h1m2 0h1m2 0h1m4 0h1m5 0h1m4 0h1m12 0h1m5 0h1m25 0h1m10 0h1m1 0h1m20 0h1m8 0h2m5 0h1m21 0h1m20 0h1m4 0h1m3 0h2m1 0h1m2 0h1m5 0h1m9 0h1m6 0h1m15 0h1m3 0h1m6 0h1m2 0h1m9 0h1m34 0h1m47 0h1m79 0h1m17 0h1m33 0h2m35 0h1m3 0h1m5 0h1m12 0h1m3 0h1m8 0h1m2 0h1m14 0h1M44 76h1m10 0h1m11 0h1m1 0h1m3 0h1m29 0h1m19 0h1m28 0h1m6 0h1m22 0h2m2 0h2m1 0h1m66 0h1m2 0h1m15 0h1m6 0h1m38 0h2m6 0h1m10 0h1m14 0h1m3 0h1m12 0h2m14 0h1m24 0h1m9 0h2m19 0h1m2 0h1m25 0h1m175 0h1m15 0h1m59 0h2m9 0h1m5 0h1m5 0h1m56 0h1M14 75h1m13 0h1m11 0h1m12 0h1m15 0h1m6 0h1m1 0h2m17 0h1m7 0h1m41 0h1m21 0h1m19 0h1m2 0h1m25 0h1m44 0h1m13 0h1m2 0h1m80 0h1m32 0h1m4 0h1m12 0h1m15 0h1m1 0h1m5 0h1m34 0h1m9 0h1m2 0h1m145 0h1m10 0h2m11 0h1m22 0h1m27 0h1m36 0h1m26 0h2m15 0h1m4 0h1m15 0h1M20 74h1m7 0h1m37 0h1m23 0h1m2 0h1m7 0h1m3 0h1m12 0h1m3 0h1m16 0h1m7 0h1m15 0h1m3 0h1m68 0h1m19 0h1m3 0h1m8 0h1m59 0h2m2 0h1m26 0h1m27 0h1m11 0h1m12 0h1m9 0h1m12 0h1m1 0h1m5 0h1m6 0h1m27 0h1m1 0h1m2 0h1m64 0h1m24 0h1m6 0h1m72 0h1m1 0h2m1 0h1m4 0h1m3 0h1m1 0h1m65 0h1m38 0h1m10 0h1m5 0h1m14 0h1M65 73h1m44 0h1m26 0h1m44 0h1m45 0h1m9 0h1m10 0h1m5 0h1m6 0h1m2 0h1m17 0h1m35 0h1m1 0h1m4 0h1m35 0h1m16 0h1m22 0h1m5 0h1m10 0h1m6 0h1m15 0h1m5 0h1m14 0h1m30 0h1m45 0h1m87 0h1m2 0h1m8 0h1m28 0h2m11 0h1m1 0h1m7 0h1M69 72h1m3 0h1m4 0h1m13 0h1m52 0h1m7 0h1m43 0h1m4 0h1m69 0h1m9 0h1m14 0h1m1 0h1m13 0h1m33 0h1m6 0h1m1 0h1m6 0h1m12 0h2m34 0h1m22 0h2m5 0h1m1 0h1m26 0h1m2 0h1m15 0h1m87 0h1m11 0h1m24 0h1m2 0h1m9 0h3m2 0h1m1 0h1m9 0h1m1 0h1m13 0h1m1 0h1m1 0h1m1 0h2m2 0h1m3 0h1m8 0h1m9 0h1m18 0h1m9 0h1m82 0h1M17 71h1m1 0h1m9 0h2m6 0h1m21 0h1m107 0h1m18 0h1m11 0h1m2 0h1m126 0h1m10 0h1m6 0h1m1 0h1m3 0h1m6 0h1m15 0h1m15 0h1m16 0h1m29 0h1m23 0h1m4 0h2m2 0h1m10 0h1m57 0h1m74 0h1m2 0h1m8 0h1m6 0h2m3 0h1m5 0h2m7 0h1m3 0h2m5 0h2m2 0h1m8 0h1m1 0h1m10 0h2m8 0h3m4 0h1m94 0h1M23 70h1m35 0h2m81 0h1m39 0h1m5 0h1m29 0h1m61 0h1m36 0h1m49 0h1m23 0h1m26 0h1m22 0h1m1 0h1m1 0h1m8 0h1m12 0h2m11 0h1m8 0h1m2 0h1m19 0h2m29 0h1m2 0h1m18 0h1m1 0h1m37 0h2m7 0h1m8 0h2m2 0h1m11 0h2m1 0h1m1 0h1m17 0h2m14 0h1m4 0h1m2 0h1m6 0h1m109 0h2m2 0h1M37 69h1m117 0h1m34 0h1m4 0h1m19 0h1m82 0h1m72 0h2m30 0h1m2 0h1m1 0h2m7 0h1m1 0h1m8 0h1m1 0h1m20 0h1m14 0h1m4 0h1m3 0h2m7 0h1m9 0h1m30 0h1m15 0h1m13 0h1m4 0h1m1 0h1m2 0h2m2 0h2m31 0h2m1 0h2m14 0h1m31 0h1m1 0h1m1 0h1m5 0h1m3 0h1m3 0h1m2 0h1m1 0h2m9 0h2m1 0h1m9 0h1m16 0h1m65 0h1m12 0h1M51 68h1m32 0h1m23 0h1m36 0h1m33 0h1m21 0h1m175 0h1m41 0h1m27 0h1m6 0h1m31 0h1m2 0h1m4 0h2m29 0h1m6 0h1m22 0h1m1 0h1m3 0h1m4 0h3m2 0h1m4 0h1m5 0h2m6 0h1m6 0h1m3 0h1m1 0h1m1 0h1m3 0h1m4 0h1m5 0h5m14 0h1m5 0h1m12 0h2m21 0h1m2 0h1m6 0h1m3 0h1m5 0h1m10 0h1m2 0h2m2 0h1M50 67h1m90 0h1m56 0h1m8 0h1m117 0h1m23 0h1m1 0h1m11 0h1m7 0h2m18 0h1m3 0h1m22 0h1m1 0h1m13 0h1m71 0h1m5 0h1m27 0h1m7 0h1m1 0h1m1 0h2m1 0h1m27 0h1m5 0h1m3 0h3m10 0h1m8 0h3m7 0h1m13 0h1m5 0h2m12 0h1m1 0h3m3 0h2m6 0h1m2 0h2m1 0h1m1 0h2m3 0h1m12 0h1m8 0h1m1 0h1m2 0h1m10 0h1m74 0h2m2 0h1M182 66h1m91 0h1m22 0h1m6 0h1m9 0h1m64 0h1m22 0h1m6 0h1m23 0h1m19 0h1m16 0h1m56 0h1m1 0h1m3 0h1m18 0h2m1 0h1m3 0h1m9 0h1m8 0h2m3 0h2m3 0h1m5 0h1m5 0h1m6 0h2m9 0h1m3 0h1m1 0h1m1 0h1m2 0h1m5 0h1m3 0h1m2 0h1m3 0h2m6 0h1m2 0h1m2 0h1m3 0h2m21 0h1m10 0h2m1 0h1m5 0h1m5 0h1m2 0h1m7 0h1m3 0h1m5 0h1m14 0h1m28 0h1m1 0h1m19 0h2M75 65h1m18 0h1m74 0h1m45 0h1m214 0h1m17 0h1m93 0h1m9 0h1m5 0h2m4 0h1m21 0h1m8 0h3m2 0h2m5 0h2m5 0h1m1 0h1m5 0h1m2 0h1m2 0h1m2 0h2m1 0h2m6 0h1m3 0h1m1 0h1m8 0h1m6 0h1m10 0h1m6 0h1m1 0h1m3 0h1m2 0h2m4 0h3m11 0h1m2 0h2m2 0h1m1 0h1m2 0h1m3 0h1m4 0h1m11 0h1m1 0h4m1 0h1m10 0h1m13 0h1m6 0h1m5 0h2m8 0h1M143 64h1m14 0h1m22 0h1m219 0h1m33 0h1m17 0h1m39 0h1m8 0h1m38 0h1m11 0h1m6 0h1m22 0h1m2 0h1m1 0h1m1 0h3m5 0h2m2 0h1m5 0h2m3 0h2m1 0h2m3 0h1m3 0h2m1 0h1m2 0h1m1 0h1m2 0h3m3 0h3m2 0h1m1 0h1m4 0h1m3 0h1m12 0h2m5 0h1m15 0h1m4 0h1m4 0h5m2 0h1m5 0h1m2 0h1m1 0h1m8 0h1m14 0h2m2 0h1m2 0h1m5 0h1m3 0h1m1 0h2m6 0h2m8 0h3m2 0h1m5 0h1m2 0h1m1 0h1m2 0h1m2 0h1M396 63h1m168 0h1m13 0h1m2 0h5m8 0h1m1 0h1m1 0h1m1 0h1m2 0h1m1 0h1m2 0h2m5 0h1m10 0h2m1 0h1m17 0h2m8 0h1m2 0h1m2 0h1m3 0h2m10 0h1m2 0h2m7 0h4m2 0h2m1 0h1m4 0h3m1 0h1m1 0h1m1 0h1m1 0h1m2 0h1m3 0h1m4 0h1m15 0h1m1 0h1m5 0h2m1 0h2m5 0h2m4 0h1m1 0h2m1 0h1m3 0h1m4 0h3m1 0h2m4 0h1m3 0h1m5 0h3M405 62h1m98 0h1m25 0h1m1 0h2m5 0h1m1 0h1m7 0h1m6 0h1m2 0h1m2 0h1m3 0h1m1 0h1m4 0h1m9 0h1m14 0h1m1 0h2m5 0h1m7 0h2m6 0h1m8 0h1m1 0h1m5 0h2m3 0h1m1 0h2m18 0h1m6 0h2m2 0h1m2 0h1m1 0h1m1 0h2m8 0h4m5 0h1m2 0h1m3 0h1m29 0h1m5 0h1m6 0h2m7 0h1m9 0h1m2 0h1m2 0h1m2 0h1m2 0h1m1 0h3m5 0h1M538 61h1m8 0h1m2 0h1m11 0h1m3 0h1m1 0h1m12 0h1m8 0h3m9 0h1m4 0h4m5 0h1m1 0h2m5 0h1m2 0h2m1 0h1m10 0h2m2 0h1m2 0h1m7 0h1m1 0h1m5 0h1m15 0h2m2 0h1m2 0h1m8 0h1m3 0h1m6 0h1m26 0h1m2 0h1m21 0h2m4 0h1m2 0h1m1 0h1m1 0h2m1 0h1m10 0h2m18 0h1M561 60h1m26 0h1m41 0h1m4 0h2m10 0h1m6 0h1m8 0h1m5 0h1m2 0h2m29 0h1m42 0h2m14 0h1m6 0h2m1 0h1m1 0h1m3 0h1m1 0h1m1 0h1m4 0h2m2 0h1m2 0h1m5 0h1M585 59h1m32 0h1m11 0h1m19 0h1m15 0h1m3 0h1m85 0h1m2 0h2m6 0h2m1 0h1m7 0h2m5 0h1m2 0h1m4 0h1m2 0h2m1 0h1m6 0h1M761 58h1m30 0h1M755 57h1m35 0h1"/>
<path stroke="#0000dd" d="M287 124h1m184 0h1m119 0h1m54 0h1M343 123h1m65 0h1m224 0h1m43 0h1m93 0h1M109 122h1m41 0h1m97 0h1m74 0h1m362 0h1M169 121h1m441 0h1m89 0h1m33 0h1m16 0h1M25 120h1m238 0h1m33 0h2m2 0h1m117 0h1m37 0h1m108 0h1m81 0h1m22 0h1m63 0h1M11 119h1m84 0h1m41 0h1m34 0h1m14 0h1m12 0h1m25 0h1m46 0h1m1 0h1m50 0h1m24 0h1m4 0h1m8 0h1m1 0h1m38 0h1m11 0h1m37 0h1m27 0h1m6 0h1m9 0h1m17 0h1m8 0h1m61 0h1m40 0h1m2 0h1m45 0h1m90 0h1M74 118h1m130 0h1m76 0h1m13 0h1m3 0h2m1 0h1m48 0h1m98 0h1m24 0h1m48 0h1m30 0h1m19 0h1m87 0h1m24 0h1m38 0h1m73 0h1M72 117h1m9 0h1m33 0h1m29 0h1m9 0h1m20 0h1m5 0h2m35 0h1m4 0h2m49 0h1m1 0h1m20 0h1m49 0h1m1 0h1m35 0h1m38 0h2m2 0h1m12 0h1m2 0h1m2 0h1m30 0h1m23 0h1m66 0h1m25 0h1m27 0h1m1 0h2m12 0h1m3 0h1m23 0h1m8 0h1m17 0h1m2 0h1m34 0h1m24 0h1m24 0h1M18 116h2m18 0h1m7 0h1m2 0h1m72 0h1m21 0h1m14 0h2m2 0h1m44 0h1m6 0h2m3 0h1m8 0h1m10 0h1m26 0h1m1 0h1m6 0h1m13 0h1m7 0h1m4 0h1m2 0h1m2 0h1m2 0h2m21 0h1m15 0h2m17 0h3m14 0h1m1 0h1m41 0h1m4 0h1m25 0h1m3 0h1m35 0h3m7 0h1m17 0h1m41 0h1m22 0h1m26 0h1m20 0h1m1 0h1m8 0h1m20 0h1m5 0h2m8 0h1m49 0h1m43 0h1m21 0h1M25 115h1m1 0h1m12 0h1m7 0h1m1 0h1m2 0h1m2 0h1m5 0h1m8 0h3m4 0h1m25 0h1m17 0h1m3 0h1m3 0h1m1 0h1m8 0h1m17 0h1m13 0h1m22 0h1m2 0h1m13 0h1m3 0h1m4 0h2m8 0h1m4 0h1m11 0h1m4 0h1m21 0h1m17 0h1m1 0h1m32 0h1m4 0h2m12 0h2m3 0h1m40 0h1m4 0h1m4 0h2m1 0h1m17 0h1m5 0h1m1 0h1m3 0h1m2 0h1m4 0h1m3 0h1m5 0h1m7 0h1m5 0h1m1 0h1m23 0h1m17 0h1m10 0h1m28 0h1m9 0h1m16 0h1m6 0h1m26 0h1m2 0h1m15 0h2m8 0h2m3 0h1m6 0h2m4 0h1m33 0h1m3 0h1m6 0h1m33 0h1m22 0h1m1 0h1m22 0h1m6 0h1m8 0h1M10 114h1m10 0h2m11 0h1m5 0h1m4 0h1m8 0h1m32 0h1m5 0h1m9 0h1m15 0h1m8 0h1m1 0h3m1 0h1m38 0h1m4 0h1m5 0h1m17 0h1m7 0h1m6 0h1m4 0h1m2 0h1m9 0h1m12 0h1m21 0h1m9 0h1m14 0h1m18 0h1m14 0h1m8 0h1m1 0h1m9 0h1m13 0h2m1 0h2m1 0h1m14 0h1m6 0h1m17 0h1m10 0h1m4 0h1m4 0h2m24 0h1m19 0h2m6 0h1m1 0h2m7 0h1m16 0h1m8 0h1m16 0h1m10 0h1m12 0h1m27 0h1m1 0h1m13 0h1m19 0h1m5 0h1m1 0h1m6 0h1m1 0h1m3 0h1m12 0h1m3 0h1m6 0h1m1 0h1m3 0h1m20 0h1m2 0h1m1 0h1m16 0h1m11 0h1m7 0h1m3 0h1m14 0h1m4 0h1m1 0h1m6 0h1m10 0h1m14 0h1M15 113h2m5 0h1m4 0h1m5 0h1m13 0h1m8 0h1m7 0h1m1 0h1m5 0h1m7 0h1m5 0h1m13 0h1m1 0h2m3 0h1m2 0h1m1 0h1m2 0h1m9 0h1m5 0h1m10 0h1m8 0h1m1 0h3m3 0h1m5 0h1m2 0h1m11 0h1m15 0h1m25 0h1m5 0h1m21 0h1m2 0h1m1 0h1m14 0h2m1 0h1m2 0h1m6 0h3m1 0h1m3 0h1m8 0h1m11 0h1m3 0h2m5 0h1m16 0h1m2 0h2m4 0h1m1 0h1m5 0h1m11 0h1m3 0h1m9 0h1m7 0h1m10 0h3m15 0h1m20 0h1m21 0h1m16 0h1m2 0h1m1 0h1m4 0h1m3 0h1m5 0h1m8 0h3m3 0h1m14 0h1m4 0h1m11 0h1m6 0h1m6 0h1m1 0h2m1 0h1m11 0h1m2 0h1m57 0h1m10 0h2m3 0h1m2 0h2m3 0h1m7 0h1m4 0h2m10 0h2m6 0h1m24 0h1m12 0h1m6 0h1m2 0h1m1 0h1m1 0h2m3 0h1m11 0h1m1 0h2m1 0h1m2 0h1m2 0h1m9 0h1m4 0h1M1 112h1m12 0h1m14 0h1m5 0h1m14 0h1m6 0h1m16 0h1m7 0h1m8 0h1m1 0h1m5 0h1m8 0h1m5 0h1m2 0h2m7 0h1m13 0h1m2 0h1m11 0h1m6 0h1m1 0h2m21 0h1m9 0h1m31 0h1m3 0h1m4 0h1m10 0h2m11 0h1m1 0h1m6 0h1m1 0h1m24 0h1m15 0h1m5 0h1m8 0h1m2 0h1m4 0h1m6 0h1m15 0h1m1 0h2m1 0h1m5 0h1m6 0h1m2 0h1m5 0h2m4 0h1m11 0h1m38 0h3m13 0h1m4 0h1m3 0h1m12 0h2m2 0h1m3 0h1m9 0h2m3 0h1m3 0h1m23 0h1m2 0h1m9 0h1m6 0h2m13 0h1m2 0h1m6 0h1m48 0h1m5 0h1m6 0h2m13 0h1m3 0h1m2 0h2m5 0h3m2 0h1m36 0h1m14 0h1m5 0h1m3 0h1m1 0h1m17 0h1m1 0h1M1 111h1m3 0h1m2 0h1m2 0h1m14 0h1m6 0h1m3 0h1m11 0h1m15 0h1m12 0h1m7 0h1m2 0h1m1 0h1m22 0h4m1 0h1m1 0h1m1 0h1m1 0h1m3 0h1m2 0h1m10 0h1m3 0h1m11 0h1m1 0h1m1 0h2m6 0h1m1 0h1m16 0h1m18 0h1m2 0h2m15 0h1m3 0h2m14 0h1m9 0h1m4 0h1m27 0h2m2 0h1m4 0h1m11 0h1m3 0h2m5 0h1m2 0h1m19 0h1m1 0h1m10 0h1m1 0h2m7 0h1m3 0h2m11 0h1m5 0h2m10 0h1m12 0h1m10 0h2m1 0h1m9 0h1m8 0h2m7 0h1m16 0h1m1 0h1m7 0h1m3 0h1m15 0h1m4 0h1m4 0h1m24 0h1m1 0h1m4 0h1m15 0h1m12 0h1m32 0h1m1 0h1m4 0h1m6 0h3m7 0h1m2 0h1m1 0h1m3 0h1m1 0h1m5 0h1m6 0h1m1 0h2m2 0h1m7 0h1m7 0h1m3 0h1m10 0h1m26 0h1m8 0h1m6 0h1m18 0h1m24 0h1m8 0h1m3 0h1M6 110h1m5 0h1m4 0h1m3 0h1m5 0h2m4 0h3m1 0h1m21 0h1m5 0h2m1 0h1m3 0h2m7 0h1m1 0h1m2 0h2m14 0h1m7 0h1m2 0h1m2 0h1m9 0h3m10 0h1m6 0h1m8 0h1m3 0h1m1 0h1m5 0h1m2 0h1m4 0h1m3 0h1m2 0h1m7 0h1m4 0h1m4 0h1m6 0h1m1 0h1m2 0h2m3 0h2m16 0h1m4 0h1m7 0h1m1 0h1m1 0h1m8 0h1m29 0h1m6 0h1m23 0h1m2 0h2m2 0h1m1 0h1m6 0h2m6 0h3m1 0h1m17 0h1m9 0h1m2 0h1m6 0h2m6 0h1m4 0h3m9 0h1m5 0h1m7 0h1m5 0h1m2 0h2m1 0h1m1 0h1m8 0h1m11 0h1m16 0h1m21 0h1m5 0h1m10 0h1m4 0h2m19 0h1m11 0h1m13 0h1m30 0h1m4 0h1m3 0h1m15 0h1m1 0h1m5 0h2m1 0h1m3 0h1m1 0h1m1 0h2m2 0h1m7 0h1m2 0h1m1 0h1m6 0h1m17 0h1m2 0h1m18 0h2m5 0h1m23 0h1m8 0h1m9 0h1m5 0h1m6 0h1m5 0h1m5 0h1m21 0h1M3 109h1m5 0h1m4 0h1m1 0h1m4 0h1m12 0h1m1 0h1m5 0h2m7 0h1m4 0h1m6 0h1m1 0h1m11 0h1m3 0h1m6 0h1m3 0h1m6 0h1m10 0h1m4 0h2m11 0h2m15 0h1m1 0h1m11 0h2m17 0h1m3 0h1m14 0h1m8 0h3m6 0h1m13 0h1m9 0h1m9 0h1m8 0h1m8 0h1m1 0h1m5 0h1m3 0h1m1 0h1m4 0h1m2 0h1m23 0h1m12 0h1m3 0h2m1 0h2m7 0h1m2 0h3m5 0h2m9 0h1m4 0h1m5 0h1m5 0h1m9 0h1m20 0h1m11 0h1m1 0h1m10 0h1m1 0h2m2 0h1m7 0h1m7 0h1m5 0h1m1 0h1m20 0h1m18 0h1m4 0h1m17 0h1m3 0h1m6 0h2m6 0h1m3 0h1m5 0h1m2 0h1m13 0h1m41 0h1m13 0h1m3 0h1m17 0h1m5 0h2m5 0h2m3 0h1m2 0h1m12 0h2m6 0h1m19 0h1m13 0h1m22 0h1m9 0h2m19 0h1m8 0h1m2 0h1m4 0h2M1 108h1m1 0h1m4 0h3m3 0h1m8 0h1m2 0h1m8 0h1m3 0h1m8 0h1m3 0h1m3 0h1m1 0h1m15 0h1m4 0h1m1 0h1m6 0h1m14 0h1m11 0h1m15 0h1m18 0h1m5 0h1m5 0h1m2 0h1m5 0h1m14 0h1m5 0h1m1 0h1m11 0h1m5 0h1m3 0h1m6 0h1m15 0h1m1 0h2m6 0h1m3 0h1m1 0h1m11 0h1m4 0h1m3 0h2m12 0h1m10 0h1m3 0h1m5 0h1m3 0h1m3 0h1m4 0h2m6 0h1m2 0h1m2 0h1m8 0h1m6 0h1m4 0h2m1 0h1m12 0h1m6 0h1m9 0h1m5 0h1m3 0h1m1 0h1m6 0h1m1 0h1m5 0h1m6 0h1m9 0h1m8 0h1m17 0h1m25 0h1m7 0h1m5 0h1m18 0h1m7 0h1m5 0h1m16 0h1m29 0h1m22 0h1m1 0h1m2 0h1m7 0h1m8 0h2m15 0h1m5 0h2m1 0h1m1 0h1m3 0h1m3 0h1m8 0h2m12 0h1m1 0h1m3 0h1m10 0h1m4 0h1m24 0h1m3 0h1m3 0h1m14 0h1m13 0h1m14 0h1m16 0h1M14 107h1m1 0h2m4 0h1m7 0h1m15 0h1m5 0h1m9 0h1m1 0h1m9 0h1m2 0h1m5 0h1m1 0h1m25 0h1m1 0h1m4 0h1m1 0h1m1 0h1m4 0h1m2 0h2m1 0h1m1 0h1m3 0h2m4 0h1m8 0h1m8 0h1m8 0h1m3 0h2m2 0h1m13 0h1m1 0h1m19 0h1m24 0h2m1 0h1m1 0h1m3 0h1m8 0h1m1 0h1m6 0h1m4 0h1m4 0h1m2 0h1m6 0h2m3 0h1m9 0h2m1 0h1m3 0h1m1 0h1m5 0h1m7 0h1m6 0h1m14 0h1m1 0h1m24 0h2m8 0h1m1 0h2m34 0h1m8 0h1m1 0h1m1 0h1m8 0h1m17 0h1m8 0h1m6 0h2m4 0h1m4 0h1m4 0h1m12 0h1m10 0h1m3 0h1m1 0h1m1 0h1m12 0h1m7 0h1m11 0h1m4 0h1m19 0h1m3 0h1m9 0h1m10 0h1m9 0h1m17 0h2m3 0h1m1 0h1m11 0h1m2 0h1m13 0h1m19 0h1m2 0h1m25 0h1m12 0h1m12 0h1m12 0h1m11 0h1m20 0h1m7 0h2M4 106h1m3 0h1m25 0h1m4 0h1m8 0h1m3 0h1m10 0h2m2 0h1m11 0h1m9 0h1m12 0h1m15 0h1m13 0h1m15 0h1m2 0h1m9 0h1m6 0h1m4 0h2m9 0h1m3 0h2m2 0h1m16 0h1m12 0h3m19 0h1m1 0h1m2 0h1m11 0h2m6 0h2m7 0h1m12 0h2m7 0h1m13 0h2m3 0h1m12 0h2m4 0h1m10 0h1m1 0h1m2 0h1m5 0h1m1 0h1m4 0h1m1 0h1m1 0h1m11 0h3m36 0h1m3 0h1m8 0h1m5 0h1m6 0h1m16 0h1m2 0h2m16 0h1m1 0h2m9 0h1m4 0h1m30 0h2m5 0h2m5 0h1m9 0h1m7 0h1m2 0h1m3 0h1m1 0h1m11 0h1m3 0h1m2 0h1m5 0h1m11 0h1m2 0h1m2 0h1m4 0h1m15 0h1m2 0h1m18 0h1m5 0h1m10 0h2m1 0h1m25 0h1m5 0h1m13 0h1m5 0h1m15 0h1m11 0h1m14 0h1m1 0h1m8 0h1m3 0h1m1 0h1m6 0h1m1 0h1M0 105h1m1 0h1m8 0h1m7 0h1m4 0h1m10 0h1m3 0h1m3 0h1m4 0h1m14 0h1m7 0h1m3 0h1m2 0h2m7 0h1m2 0h2m4 0h2m11 0h1m4 0h1m10 0h1m5 0h1m4 0h2m1 0h1m1 0h3m2 0h2m4 0h1m7 0h1m7 0h1m11 0h1m1 0h2m12 0h1m2 0h2m4 0h1m1 0h1m2 0h1m1 0h1m3 0h1m8 0h1m7 0h3m30 0h1m2 0h1m4 0h1m1 0h2m7 0h1m15 0h1m2 0h3m1 0h1m6 0h2m3 0h1m2 0h1m11 0h1m5 0h1m6 0h1m3 0h1m27 0h1m4 0h3m8 0h1m28 0h1m10 0h1m3 0h1m12 0h1m4 0h1m1 0h1m27 0h1m8 0h1m2 0h1m1 0h1m8 0h1m1 0h1m5 0h2m3 0h2m10 0h2m5 0h2m1 0h1m10 0h1m3 0h1m26 0h1m14 0h1m3 0h1m5 0h1m1 0h1m1 0h1m13 0h1m25 0h2m12 0h1m2 0h1m6 0h1m15 0h1m16 0h1m17 0h1m16 0h1m1 0h1m1 0h1m9 0h1m12 0h1m1 0h1m2 0h1m8 0h1m5 0h1m2 0h2m6 0h1M1 104h1m1 0h1m4 0h1m13 0h1m5 0h1m14 0h1m7 0h1m1 0h1m10 0h1m17 0h1m10 0h1m9 0h1m5 0h1m1 0h1m14 0h1m1 0h3m4 0h2m3 0h2m6 0h1m2 0h2m13 0h1m3 0h1m3 0h2m6 0h2m1 0h2m9 0h1m3 0h1m1 0h1m2 0h1m2 0h1m5 0h1m18 0h1m2 0h1m15 0h1m2 0h1m1 0h1m14 0h1m6 0h1m1 0h1m9 0h1m1 0h1m1 0h1m8 0h1m22 0h1m3 0h1m4 0h1m1 0h1m24 0h1m11 0h2m7 0h1m22 0h1m4 0h1m1 0h1m15 0h2m1 0h1m9 0h1m15 0h1m1 0h2m10 0h1m1 0h1m2 0h1m13 0h1m6 0h1m10 0h2m5 0h1m17 0h2m7 0h1m11 0h1m27 0h2m3 0h1m13 0h1m1 0h1m19 0h1m4 0h1m5 0h1m2 0h1m4 0h1m1 0h1m16 0h1m8 0h1m1 0h1m1 0h1m4 0h1m11 0h1m6 0h1m7 0h1m13 0h1m3 0h1m16 0h1m2 0h1m3 0h1m1 0h1m1 0h1m3 0h1m4 0h1m1 0h1m25 0h1m6 0h1M3 103h1m8 0h1m2 0h1m1 0h3m4 0h1m6 0h1m16 0h1m1 0h1m3 0h1m21 0h1m4 0h2m1 0h1m5 0h1m6 0h1m4 0h1m18 0h1m10 0h2m3 0h1m2 0h1m2 0h2m1 0h1m7 0h1m3 0h1m1 0h1m3 0h1m10 0h1m11 0h1m5 0h1m5 0h1m10 0h1m15 0h1m29 0h1m2 0h1m4 0h2m8 0h1m6 0h1m1 0h2m6 0h1m6 0h1m7 0h1m4 0h1m7 0h1m3 0h1m9 0h1m1 0h1m1 0h1m4 0h1m8 0h1m2 0h1m1 0h1m6 0h1m10 0h5m6 0h1m1 0h1m20 0h1m7 0h1m3 0h1m3 0h1m24 0h1m2 0h1m10 0h2m8 0h2m3 0h2m50 0h1m5 0h1m25 0h1m4 0h1m6 0h2m1 0h2m3 0h1m9 0h1m4 0h1m21 0h1m1 0h1m6 0h1m18 0h1m6 0h1m1 0h1m2 0h1m12 0h1m7 0h1m1 0h2m2 0h1m3 0h1m18 0h1m14 0h1m1 0h1m21 0h1m9 0h1m3 0h1m15 0h2m2 0h1m2 0h1m3 0h1m2 0h1M2 102h1m4 0h1m6 0h1m2 0h1m7 0h1m6 0h1m24 0h1m1 0h1m11 0h1m7 0h1m1 0h1m2 0h1m11 0h1m4 0h1m10 0h2m9 0h1m22 0h1m4 0h2m30 0h1m3 0h1m1 0h1m9 0h1m1 0h1m1 0h1m7 0h2m3 0h1m10 0h1m7 0h1m6 0h2m3 0h1m11 0h2m2 0h1m5 0h1m8 0h1m2 0h1m2 0h1m1 0h1m2 0h3m3 0h1m6 0h1m22 0h1m4 0h1m6 0h1m5 0h1m4 0h1m9 0h1m2 0h1m28 0h1m4 0h1m9 0h1m10 0h1m11 0h1m31 0h1m13 0h1m8 0h1m8 0h1m10 0h1m4 0h1m7 0h1m14 0h1m1 0h1m10 0h1m4 0h1m2 0h1m10 0h2m1 0h1m15 0h1m3 0h1m29 0h1m14 0h1m7 0h1m47 0h1m51 0h1m3 0h1m3 0h1m4 0h1m10 0h2m22 0h1m9 0h1m1 0h1M19 101h2m1 0h2m17 0h1m5 0h1m3 0h1m6 0h1m1 0h1m15 0h1m4 0h1m6 0h1m1 0h3m7 0h2m7 0h1m9 0h1m25 0h2m3 0h1m8 0h1m8 0h1m11 0h2m4 0h2m1 0h1m8 0h1m5 0h1m20 0h1m2 0h1m5 0h1m2 0h1m9 0h1m4 0h1m3 0h2m6 0h1m5 0h1m3 0h1m2 0h1m2 0h1m1 0h1m8 0h1m3 0h1m14 0h1m12 0h1m7 0h2m3 0h1m5 0h1m3 0h1m1 0h1m2 0h2m1 0h1m2 0h1m3 0h1m5 0h1m4 0h2m3 0h1m1 0h1m1 0h1m2 0h1m6 0h1m6 0h1m4 0h1m6 0h1m3 0h1m9 0h1m1 0h1m14 0h1m10 0h1m22 0h1m4 0h1m11 0h1m5 0h1m1 0h1m7 0h2m14 0h1m6 0h1m10 0h1m1 0h1m1 0h1m20 0h1m10 0h1m2 0h1m14 0h1m34 0h1m6 0h1m5 0h1m12 0h1m9 0h1m6 0h1m5 0h1m10 0h1m3 0h1m8 0h1m2 0h2m1 0h1m13 0h1m20 0h1m6 0h1m3 0h1m1 0h1m3 0h2m5 0h1m21 0h1m15 0h1M14 100h1m4 0h1m3 0h1m3 0h1m7 0h1m4 0h1m13 0h1m18 0h1m5 0h2m2 0h1m4 0h1m4 0h1m10 0h1m4 0h1m4 0h1m15 0h1m9 0h1m4 0h1m4 0h1m9 0h1m25 0h1m3 0h1m28 0h2m5 0h1m6 0h1m5 0h1m6 0h2m13 0h1m1 0h1m1 0h1m1 0h2m7 0h1m9 0h1m2 0h1m11 0h1m1 0h1m14 0h1m2 0h2m7 0h1m2 0h1m2 0h1m1 0h1m9 0h1m9 0h1m1 0h1m10 0h1m4 0h1m7 0h1m9 0h1m1 0h1m1 0h1m3 0h1m5 0h1m22 0h1m5 0h2m5 0h1m8 0h2m10 0h1m3 0h2m15 0h1m1 0h1m5 0h1m37 0h1m7 0h1m1 0h1m15 0h2m14 0h1m2 0h3m2 0h1m3 0h2m8 0h2m1 0h1m29 0h3m24 0h1m9 0h1m6 0h1m11 0h1m6 0h1m3 0h1m14 0h1m8 0h1m2 0h1m16 0h2m3 0h1m3 0h1m19 0h1m1 0h1m35 0h1M19 99h1m20 0h1m5 0h1m3 0h1m16 0h1m3 0h2m15 0h2m2 0h1m3 0h1m11 0h1m14 0h1m2 0h1m1 0h1m5 0h1m5 0h1m8 0h1m17 0h1m13 0h1m6 0h1m2 0h1m1 0h1m19 0h1m4 0h1m5 0h1m1 0h1m1 0h1m1 0h1m4 0h1m3 0h2m5 0h1m2 0h2m3 0h1m7 0h1m17 0h2m27 0h1m13 0h1m14 0h1m7 0h1m2 0h3m15 0h1m25 0h1m5 0h1m3 0h2m15 0h1m8 0h1m1 0h1m6 0h1m2 0h1m2 0h1m4 0h1m7 0h1m2 0h2m7 0h1m2 0h3m5 0h1m1 0h2m24 0h1m23 0h1m2 0h1m24 0h1m6 0h1m5 0h1m1 0h1m6 0h1m3 0h1m11 0h1m21 0h1m12 0h1m1 0h1m15 0h1m1 0h1m8 0h1m7 0h3m10 0h2m31 0h1m47 0h1m5 0h1m8 0h1m27 0h1M1 98h1m2 0h1m1 0h1m2 0h1m6 0h1m3 0h1m3 0h1m1 0h1m8 0h1m7 0h1m13 0h1m6 0h1m1 0h1m1 0h2m7 0h1m2 0h1m2 0h1m3 0h1m3 0h1m10 0h1m1 0h1m8 0h1m4 0h1m1 0h1m1 0h1m3 0h1m8 0h2m6 0h1m34 0h1m4 0h1m4 0h1m6 0h1m7 0h1m2 0h1m2 0h1m1 0h1m10 0h2m27 0h3m11 0h1m5 0h1m11 0h1m2 0h1m3 0h1m13 0h1m1 0h1m10 0h1m1 0h1m3 0h1m30 0h1m13 0h1m17 0h2m2 0h2m2 0h3m6 0h1m13 0h1m19 0h1m3 0h3m1 0h1m13 0h2m5 0h2m9 0h1m6 0h1m7 0h1m17 0h1m20 0h1m6 0h1m1 0h1m7 0h1m5 0h1m12 0h1m4 0h2m10 0h1m7 0h1m4 0h1m3 0h1m7 0h1m7 0h1m1 0h1m7 0h1m4 0h1m8 0h1m2 0h1m9 0h1m8 0h1m5 0h1m7 0h1m10 0h1m13 0h1m3 0h1m10 0h1m2 0h1m14 0h1m22 0h1m6 0h1m25 0h1m7 0h2M0 97h1m2 0h1m1 0h1m3 0h1m5 0h2m24 0h1m5 0h1m17 0h1m1 0h1m1 0h1m3 0h1m2 0h2m3 0h1m1 0h1m1 0h2m1 0h1m1 0h3m1 0h1m1 0h3m4 0h2m2 0h2m15 0h1m7 0h1m1 0h1m1 0h1m4 0h1m9 0h1m3 0h1m9 0h1m8 0h1m3 0h1m4 0h1m6 0h1m1 0h1m17 0h2m1 0h2m15 0h1m27 0h1m3 0h1m4 0h1m3 0h2m1 0h1m8 0h1m2 0h1m6 0h1m1 0h1m2 0h1m19 0h1m10 0h1m3 0h1m15 0h1m1 0h2m8 0h1m20 0h1m8 0h1m7 0h1m4 0h1m7 0h1m5 0h1m7 0h1m10 0h1m1 0h1m2 0h1m2 0h2m1 0h2m3 0h1m9 0h1m2 0h2m8 0h1m7 0h1m24 0h1m23 0h1m2 0h1m9 0h1m17 0h1m5 0h1m14 0h1m11 0h1m3 0h1m10 0h1m16 0h1m6 0h1m27 0h1m7 0h1m11 0h1m4 0h1m11 0h1m15 0h1m3 0h1m6 0h1m5 0h1m9 0h1m4 0h1m10 0h2m2 0h1m1 0h1m4 0h1m14 0h1M1 96h3m5 0h1m3 0h1m3 0h1m6 0h1m10 0h1m13 0h1m1 0h1m2 0h1m9 0h1m13 0h1m2 0h1m8 0h1m2 0h1m9 0h1m21 0h1m6 0h1m8 0h1m2 0h1m34 0h3m5 0h1m3 0h1m2 0h2m2 0h1m3 0h1m2 0h2m2 0h1m6 0h3m7 0h1m7 0h1m15 0h1m5 0h4m3 0h2m3 0h1m1 0h1m8 0h2m1 0h1m3 0h1m8 0h1m1 0h2m5 0h1m2 0h1m6 0h1m10 0h1m12 0h1m26 0h1m1 0h1m5 0h1m7 0h1m13 0h1m3 0h1m11 0h1m2 0h2m3 0h1m1 0h1m1 0h1m12 0h1m3 0h1m3 0h1m3 0h1m4 0h1m48 0h1m5 0h1m23 0h2m8 0h2m5 0h3m9 0h1m1 0h1m16 0h1m2 0h1m1 0h1m3 0h1m65 0h1m5 0h2m6 0h1m3 0h1m2 0h1m19 0h1m18 0h1m20 0h1m1 0h1m5 0h1m2 0h2m1 0h1m1 0h3m3 0h1m3 0h1m19 0h1M0 95h1m1 0h1m12 0h1m11 0h1m17 0h1m1 0h1m3 0h1m11 0h1m1 0h1m1 0h1m2 0h1m4 0h4m5 0h1m12 0h1m3 0h1m2 0h1m2 0h1m1 0h1m2 0h1m6 0h2m16 0h1m6 0h2m3 0h2m10 0h1m10 0h1m6 0h1m2 0h1m10 0h1m10 0h1m2 0h1m5 0h1m13 0h1m3 0h1m7 0h1m2 0h1m5 0h1m2 0h1m4 0h1m4 0h1m2 0h1m13 0h1m7 0h1m1 0h2m1 0h1m5 0h1m1 0h1m13 0h1m13 0h1m3 0h1m1 0h1m13 0h1m15 0h1m1 0h1m13 0h2m7 0h1m2 0h3m2 0h1m1 0h1m7 0h1m8 0h1m12 0h1m2 0h1m10 0h1m3 0h1m3 0h1m6 0h1m4 0h1m30 0h1m43 0h1m13 0h2m13 0h1m18 0h1m6 0h1m9 0h1m5 0h1m7 0h1m9 0h1m1 0h1m3 0h1m1 0h2m18 0h3m17 0h1m8 0h1m2 0h1m7 0h1m27 0h1m28 0h1m1 0h1m5 0h1m19 0h1m4 0h1m16 0h1M0 94h1m4 0h1m6 0h2m2 0h1m2 0h1m8 0h1m8 0h1m9 0h1m13 0h1m4 0h1m1 0h1m2 0h2m1 0h2m6 0h3m1 0h1m1 0h1m3 0h2m1 0h1m1 0h1m8 0h1m1 0h1m10 0h1m7 0h1m2 0h1m2 0h1m1 0h1m4 0h1m10 0h1m3 0h1m1 0h2m2 0h2m18 0h1m7 0h1m24 0h2m6 0h1m1 0h1m13 0h1m3 0h2m9 0h1m4 0h1m3 0h1m10 0h1m1 0h2m1 0h2m4 0h2m2 0h2m3 0h2m1 0h1m3 0h1m5 0h1m3 0h1m3 0h1m1 0h2m28 0h1m15 0h1m1 0h1m7 0h1m9 0h1m4 0h1m10 0h1m9 0h1m5 0h1m3 0h1m1 0h1m1 0h1m15 0h1m2 0h1m4 0h1m8 0h1m15 0h1m8 0h1m17 0h1m3 0h1m7 0h1m14 0h1m6 0h1m18 0h1m5 0h2m20 0h3m6 0h2m9 0h1m2 0h1m6 0h1m1 0h1m2 0h1m13 0h1m7 0h1m4 0h2m9 0h1m3 0h1m5 0h1m5 0h1m2 0h1m6 0h1m22 0h1m4 0h1m8 0h1m9 0h1m8 0h1m11 0h1M1 93h1m6 0h1m2 0h1m22 0h1m1 0h2m9 0h1m7 0h2m3 0h1m1 0h1m8 0h1m3 0h2m6 0h2m4 0h1m4 0h1m6 0h1m6 0h1m12 0h1m4 0h1m7 0h1m23 0h1m14 0h2m4 0h1m4 0h1m4 0h1m3 0h1m11 0h2m4 0h1m10 0h1m16 0h1m4 0h2m5 0h1m1 0h1m7 0h2m15 0h3m1 0h1m7 0h1m6 0h2m23 0h1m1 0h1m1 0h1m18 0h1m2 0h1m8 0h1m2 0h1m1 0h1m6 0h1m6 0h2m9 0h1m2 0h1m2 0h2m12 0h1m3 0h1m22 0h3m7 0h1m15 0h1m5 0h1m10 0h1m1 0h1m7 0h1m3 0h1m8 0h2m25 0h1m1 0h1m1 0h1m4 0h1m1 0h1m10 0h1m1 0h1m8 0h1m15 0h1m14 0h1m6 0h1m4 0h1m23 0h1m12 0h1m21 0h1m5 0h2m12 0h1m3 0h1m3 0h2m5 0h1m10 0h1m10 0h1m1 0h1m10 0h1m18 0h1m12 0h1m2 0h1m21 0h1M0 92h1m2 0h1m4 0h2m4 0h3m30 0h2m6 0h1m9 0h1m7 0h1m3 0h1m7 0h1m5 0h1m1 0h2m1 0h1m6 0h1m1 0h1m12 0h1m5 0h1m3 0h1m1 0h2m7 0h1m9 0h1m9 0h2m5 0h1m6 0h1m13 0h1m8 0h1m1 0h1m7 0h1m9 0h1m26 0h1m1 0h1m3 0h1m3 0h1m4 0h2m2 0h2m3 0h1m1 0h2m2 0h1m15 0h1m14 0h1m5 0h1m6 0h1m14 0h2m3 0h2m8 0h1m6 0h2m1 0h1m1 0h1m3 0h1m4 0h1m11 0h1m2 0h2m5 0h1m3 0h1m4 0h1m9 0h1m3 0h2m2 0h1m9 0h2m5 0h1m4 0h1m9 0h1m7 0h1m1 0h1m2 0h1m9 0h2m8 0h1m4 0h1m8 0h1m3 0h1m9 0h1m13 0h1m36 0h1m28 0h1m12 0h1m23 0h1m11 0h1m1 0h1m9 0h1m40 0h1m5 0h1m13 0h1m3 0h1m32 0h1m6 0h1m10 0h1M1 91h1m2 0h2m10 0h3m7 0h1m15 0h1m1 0h1m1 0h3m4 0h2m17 0h2m6 0h1m3 0h1m8 0h2m11 0h2m10 0h1m1 0h1m7 0h3m5 0h1m1 0h1m4 0h2m6 0h3m12 0h1m1 0h1m9 0h2m3 0h1m19 0h1m2 0h1m3 0h1m4 0h1m2 0h1m6 0h1m6 0h1m7 0h2m5 0h1m3 0h1m6 0h1m8 0h1m2 0h2m4 0h1m1 0h1m14 0h1m3 0h1m3 0h1m1 0h2m4 0h2m9 0h1m12 0h1m15 0h1m18 0h1m3 0h1m1 0h1m3 0h1m1 0h1m3 0h1m2 0h1m2 0h1m2 0h1m3 0h1m11 0h1m1 0h1m1 0h1m4 0h1m5 0h1m1 0h1m14 0h2m1 0h1m3 0h1m13 0h2m1 0h1m3 0h1m14 0h1m8 0h1m9 0h1m21 0h3m4 0h1m1 0h1m15 0h1m2 0h1m12 0h1m13 0h1m1 0h1m2 0h1m1 0h1m6 0h1m1 0h1m12 0h1m11 0h1m6 0h1m54 0h1m2 0h1m7 0h1m21 0h1m8 0h1m1 0h1m2 0h1m6 0h1m15 0h1m7 0h1m12 0h1M5 90h1m3 0h1m3 0h1m8 0h1m4 0h1m1 0h1m4 0h1m8 0h1m1 0h3m2 0h1m6 0h1m2 0h1m4 0h1m1 0h1m1 0h3m4 0h3m3 0h1m4 0h1m13 0h1m7 0h2m5 0h1m1 0h1m3 0h1m8 0h1m1 0h2m3 0h3m2 0h1m13 0h1m4 0h1m15 0h1m4 0h1m9 0h1m1 0h1m14 0h1m2 0h1m1 0h1m12 0h1m9 0h2m1 0h1m3 0h3m7 0h1m1 0h1m2 0h2m7 0h1m3 0h1m11 0h1m8 0h1m3 0h1m14 0h1m6 0h1m20 0h1m7 0h1m7 0h1m1 0h1m5 0h1m5 0h1m5 0h1m9 0h1m2 0h1m15 0h1m5 0h1m4 0h1m1 0h2m3 0h1m6 0h2m3 0h2m30 0h2m9 0h1m14 0h1m20 0h1m2 0h1m16 0h1m1 0h1m9 0h1m12 0h1m18 0h2m4 0h1m9 0h1m10 0h1m33 0h1m4 0h2m38 0h1m5 0h2m3 0h1m11 0h1m8 0h1m1 0h1m4 0h1m4 0h2m13 0h1m7 0h1m23 0h1m9 0h1m18 0h2M0 89h1m2 0h2m2 0h1m20 0h2m2 0h1m1 0h1m2 0h1m7 0h2m1 0h1m2 0h1m4 0h2m6 0h1m4 0h1m15 0h1m10 0h1m3 0h1m1 0h1m4 0h3m2 0h2m3 0h2m2 0h1m7 0h1m4 0h2m6 0h2m23 0h2m1 0h1m4 0h1m15 0h1m19 0h1m3 0h1m8 0h1m1 0h2m9 0h1m2 0h2m3 0h1m4 0h1m5 0h1m3 0h1m4 0h1m14 0h1m1 0h1m1 0h1m1 0h1m14 0h1m4 0h1m7 0h1m10 0h1m3 0h1m5 0h1m19 0h1m5 0h1m1 0h1m3 0h1m2 0h2m12 0h1m4 0h1m3 0h1m6 0h1m2 0h2m5 0h1m3 0h1m9 0h1m1 0h1m6 0h2m5 0h1m5 0h1m5 0h1m4 0h2m10 0h1m3 0h1m11 0h1m9 0h2m6 0h1m13 0h1m4 0h1m1 0h1m2 0h1m5 0h1m5 0h1m1 0h1m21 0h1m17 0h1m4 0h1m2 0h1m18 0h1m4 0h2m3 0h1m2 0h1m7 0h1m3 0h1m3 0h1m2 0h1m1 0h1m10 0h1m2 0h1m28 0h1m5 0h1m8 0h1m5 0h1m3 0h1m8 0h1m2 0h1m9 0h1m11 0h1m14 0h1m12 0h1M0 88h3m4 0h1m9 0h1m5 0h1m9 0h3m1 0h1m12 0h1m14 0h1m1 0h1m2 0h2m2 0h1m2 0h1m12 0h1m1 0h2m10 0h1m2 0h1m18 0h1m2 0h1m16 0h1m3 0h2m18 0h1m3 0h2m6 0h1m10 0h2m2 0h1m5 0h1m2 0h1m12 0h1m6 0h1m1 0h1m1 0h1m8 0h2m1 0h1m3 0h1m3 0h1m2 0h1m1 0h1m20 0h1m11 0h2m14 0h1m2 0h1m10 0h1m8 0h2m1 0h1m5 0h1m6 0h2m5 0h2m1 0h1m1 0h1m10 0h1m1 0h1m3 0h1m11 0h2m5 0h2m3 0h1m23 0h2m1 0h1m7 0h1m5 0h2m22 0h1m4 0h1m1 0h1m1 0h1m4 0h1m13 0h1m14 0h1m11 0h1m2 0h1m5 0h1m3 0h1m2 0h1m2 0h3m1 0h1m1 0h1m3 0h1m18 0h1m2 0h1m12 0h2m22 0h1m11 0h1m3 0h1m1 0h1m3 0h1m8 0h1m36 0h1m30 0h1m21 0h1m27 0h1m5 0h1m6 0h1m25 0h1M0 87h1m2 0h3m1 0h1m1 0h1m13 0h2m3 0h1m3 0h1m32 0h1m9 0h1m3 0h1m12 0h1m3 0h1m12 0h2m4 0h1m4 0h1m1 0h1m1 0h2m2 0h1m2 0h1m7 0h1m1 0h2m2 0h1m8 0h2m1 0h1m3 0h1m3 0h1m18 0h1m11 0h1m22 0h1m5 0h2m1 0h1m24 0h1m22 0h1m17 0h1m3 0h1m5 0h1m19 0h1m4 0h2m7 0h1m4 0h1m17 0h2m2 0h1m4 0h1m10 0h1m5 0h2m7 0h2m2 0h1m5 0h1m9 0h1m3 0h4m4 0h1m9 0h1m6 0h1m2 0h2m8 0h1m2 0h1m2 0h1m12 0h1m15 0h1m1 0h1m5 0h1m5 0h1m3 0h1m2 0h1m18 0h1m13 0h1m63 0h1m6 0h2m5 0h1m1 0h2m73 0h1m2 0h1m10 0h1m4 0h2m5 0h1m23 0h1m6 0h1m10 0h1M1 86h1m1 0h1m1 0h1m15 0h2m3 0h1m1 0h1m7 0h1m3 0h1m4 0h1m5 0h2m3 0h1m11 0h1m3 0h1m5 0h1m3 0h1m15 0h1m1 0h1m37 0h1m1 0h2m7 0h1m1 0h1m4 0h1m1 0h1m2 0h1m5 0h1m7 0h1m6 0h1m3 0h1m34 0h1m7 0h1m2 0h3m3 0h1m7 0h1m3 0h1m4 0h1m1 0h2m18 0h1m1 0h1m4 0h1m5 0h1m18 0h1m21 0h1m1 0h1m7 0h1m17 0h2m2 0h1m1 0h1m7 0h1m20 0h1m12 0h1m7 0h1m4 0h1m3 0h4m11 0h1m6 0h1m2 0h1m1 0h1m17 0h1m1 0h1m1 0h1m1 0h1m7 0h1m14 0h3m17 0h1m17 0h1m34 0h1m19 0h1m20 0h1m1 0h1m8 0h1m22 0h1m7 0h2m31 0h1m16 0h1m11 0h2m1 0h2m13 0h1m5 0h1m4 0h1m20 0h1m10 0h1m14 0h1m2 0h1m4 0h1M0 85h1m1 0h1m2 0h2m4 0h1m1 0h1m8 0h1m1 0h1m9 0h1m5 0h1m3 0h1m6 0h1m12 0h1m9 0h2m9 0h1m6 0h1m1 0h2m3 0h1m2 0h1m11 0h1m1 0h1m3 0h1m11 0h1m1 0h1m10 0h1m3 0h1m4 0h1m1 0h2m5 0h1m6 0h1m2 0h1m15 0h1m1 0h1m7 0h1m17 0h1m13 0h1m6 0h1m3 0h1m6 0h1m6 0h2m1 0h1m7 0h1m25 0h1m1 0h1m15 0h1m4 0h2m11 0h1m6 0h1m14 0h2m11 0h1m2 0h1m4 0h2m4 0h1m6 0h1m3 0h2m9 0h1m8 0h1m14 0h1m3 0h1m16 0h1m4 0h1m20 0h1m12 0h2m5 0h1m3 0h1m21 0h1m14 0h1m1 0h1m9 0h1m4 0h1m5 0h2m9 0h1m1 0h1m14 0h1m7 0h1m2 0h1m17 0h1m5 0h1m49 0h1m19 0h1m4 0h1m3 0h1m31 0h1m1 0h1m35 0h1m4 0h1m6 0h1m10 0h3m1 0h1m10 0h1M2 84h1m2 0h1m1 0h1m18 0h2m3 0h1m3 0h1m2 0h1m7 0h1m7 0h1m2 0h1m11 0h1m2 0h1m2 0h1m3 0h1m3 0h1m4 0h1m12 0h1m7 0h1m9 0h1m1 0h2m2 0h2m3 0h1m4 0h1m1 0h1m1 0h1m4 0h1m16 0h1m25 0h2m2 0h1m5 0h1m9 0h1m12 0h1m14 0h1m12 0h1m1 0h1m8 0h1m13 0h2m5 0h1m4 0h1m2 0h1m17 0h1m9 0h2m5 0h1m8 0h1m6 0h1m4 0h1m16 0h1m2 0h1m4 0h1m2 0h1m2 0h1m2 0h1m3 0h1m8 0h1m5 0h1m8 0h1m3 0h1m5 0h1m2 0h1m2 0h1m4 0h1m3 0h1m6 0h1m6 0h1m7 0h1m2 0h1m7 0h1m13 0h1m6 0h1m16 0h1m9 0h1m1 0h1m15 0h1m3 0h1m8 0h2m5 0h2m6 0h1m12 0h2m3 0h1m4 0h1m14 0h1m15 0h1m19 0h1m1 0h1m9 0h1m1 0h1m3 0h1m6 0h1m3 0h1m14 0h1m11 0h1m15 0h2m10 0h1m6 0h1m3 0h1m45 0h1m16 0h1m11 0h1m3 0h1M1 83h1m5 0h1m3 0h2m2 0h1m1 0h2m2 0h1m4 0h1m3 0h1m3 0h3m12 0h1m14 0h2m1 0h1m4 0h2m3 0h1m6 0h2m21 0h1m8 0h1m3 0h1m2 0h2m1 0h1m5 0h3m4 0h1m2 0h1m3 0h1m17 0h1m4 0h1m29 0h1m5 0h1m23 0h1m9 0h1m1 0h1m4 0h1m1 0h1m5 0h1m1 0h1m12 0h1m12 0h1m16 0h1m4 0h1m1 0h1m2 0h1m3 0h1m3 0h1m3 0h1m3 0h1m6 0h1m7 0h1m1 0h1m3 0h1m8 0h1m5 0h1m2 0h1m4 0h2m22 0h1m8 0h1m4 0h4m6 0h1m5 0h1m12 0h1m11 0h1m5 0h1m8 0h1m11 0h1m10 0h1m8 0h1m6 0h1m11 0h1m8 0h1m34 0h2m4 0h1m24 0h1m4 0h1m3 0h1m4 0h1m6 0h1m3 0h3m1 0h1m15 0h1m6 0h1m58 0h1m8 0h2m3 0h1m7 0h2m4 0h1m42 0h1m28 0h1m2 0h1M0 82h1m6 0h1m6 0h2m2 0h1m4 0h1m11 0h2m3 0h1m2 0h1m15 0h2m1 0h1m2 0h1m19 0h1m3 0h1m2 0h1m17 0h1m9 0h1m8 0h1m3 0h2m3 0h1m1 0h1m1 0h1m1 0h1m8 0h1m1 0h1m9 0h1m1 0h1m5 0h1m7 0h1m3 0h1m7 0h1m2 0h1m3 0h1m1 0h1m1 0h1m5 0h2m7 0h1m13 0h2m6 0h1m5 0h1m15 0h1m6 0h1m18 0h1m12 0h1m6 0h1m3 0h3m11 0h1m26 0h1m11 0h1m2 0h1m5 0h1m8 0h1m1 0h1m9 0h1m9 0h1m4 0h1m3 0h1m2 0h1m2 0h1m4 0h1m12 0h1m8 0h1m20 0h1m7 0h1m7 0h1m3 0h1m6 0h1m1 0h1m25 0h1m2 0h1m2 0h1m5 0h1m35 0h2m3 0h1m4 0h1m1 0h1m1 0h1m14 0h1m2 0h1m15 0h1m3 0h3m7 0h1m14 0h2m13 0h1m30 0h1m19 0h1m12 0h1m3 0h1m4 0h1m11 0h1m45 0h1m1 0h1m2 0h1M9 81h1m2 0h2m2 0h1m3 0h2m4 0h1m4 0h1m6 0h1m5 0h1m1 0h1m9 0h1m1 0h1m3 0h1m1 0h1m2 0h1m1 0h1m2 0h1m3 0h1m7 0h1m1 0h1m2 0h2m4 0h1m4 0h1m3 0h3m9 0h1m7 0h1m4 0h2m8 0h1m2 0h2m1 0h1m5 0h1m15 0h1m13 0h1m1 0h1m17 0h1m1 0h2m1 0h1m6 0h1m22 0h1m5 0h3m2 0h1m3 0h1m1 0h3m5 0h1m11 0h1m7 0h1m10 0h1m2 0h2m20 0h2m3 0h2m3 0h1m1 0h1m6 0h1m9 0h1m5 0h2m6 0h1m34 0h1m3 0h1m7 0h1m7 0h1m4 0h1m1 0h1m2 0h1m3 0h1m1 0h1m6 0h1m21 0h2m8 0h1m17 0h2m2 0h1m5 0h1m2 0h1m1 0h1m14 0h1m35 0h1m2 0h1m8 0h1m4 0h1m1 0h1m4 0h1m9 0h1m9 0h1m3 0h1m4 0h1m1 0h1m20 0h1m2 0h1m13 0h1m19 0h1m6 0h1m10 0h1m44 0h1m13 0h1m2 0h1m18 0h1m28 0h1m4 0h1M1 80h1m2 0h1m12 0h1m2 0h1m7 0h1m1 0h2m4 0h1m3 0h5m10 0h1m3 0h1m4 0h1m1 0h1m9 0h1m10 0h1m2 0h1m2 0h1m3 0h1m5 0h1m2 0h1m8 0h1m1 0h1m1 0h2m4 0h1m20 0h1m14 0h1m3 0h1m2 0h1m10 0h1m4 0h1m4 0h2m6 0h1m2 0h1m5 0h1m2 0h1m10 0h2m3 0h1m3 0h1m3 0h1m10 0h1m11 0h1m8 0h2m1 0h1m3 0h3m3 0h1m1 0h1m2 0h1m6 0h1m3 0h1m6 0h1m1 0h1m18 0h1m6 0h7m2 0h1m1 0h1m1 0h1m7 0h1m1 0h1m12 0h1m1 0h1m5 0h1m3 0h1m9 0h1m2 0h1m1 0h1m2 0h1m1 0h1m1 0h2m6 0h2m5 0h1m6 0h1m18 0h1m3 0h1m2 0h1m13 0h1m15 0h1m25 0h1m4 0h1m28 0h1m13 0h1m5 0h1m1 0h2m15 0h1m10 0h2m19 0h2m4 0h2m22 0h1m5 0h1m2 0h1m21 0h2m24 0h1m1 0h1m7 0h1m24 0h1m5 0h1m17 0h1m4 0h1m21 0h1m4 0h1M2 79h1m7 0h1m2 0h1m5 0h1m3 0h1m4 0h1m14 0h1m5 0h1m8 0h1m8 0h1m2 0h2m1 0h2m2 0h2m2 0h1m9 0h1m2 0h1m13 0h2m4 0h1m4 0h1m1 0h1m3 0h1m9 0h1m5 0h3m6 0h1m1 0h1m8 0h2m3 0h1m1 0h2m5 0h1m1 0h1m1 0h1m3 0h2m3 0h1m6 0h1m1 0h1m2 0h1m1 0h1m1 0h1m3 0h1m1 0h1m7 0h1m2 0h1m2 0h1m8 0h1m3 0h2m1 0h1m4 0h1m2 0h1m1 0h2m5 0h1m16 0h1m3 0h1m4 0h1m1 0h1m8 0h2m1 0h1m5 0h1m2 0h1m1 0h1m3 0h1m7 0h2m1 0h3m2 0h2m2 0h1m2 0h1m6 0h1m1 0h1m3 0h1m9 0h1m6 0h1m29 0h1m2 0h1m7 0h1m1 0h1m1 0h1m1 0h1m9 0h2m13 0h1m6 0h1m10 0h1m12 0h1m2 0h1m5 0h1m3 0h1m2 0h1m2 0h2m11 0h1m11 0h1m2 0h1m2 0h1m7 0h1m3 0h1m6 0h2m1 0h1m12 0h2m1 0h2m23 0h1m1 0h1m5 0h1m16 0h1m5 0h2m1 0h1m2 0h1m6 0h2m8 0h1m11 0h1m2 0h1m5 0h1m11 0h1m4 0h1m4 0h1m5 0h1m1 0h1m2 0h2m1 0h1m5 0h1m7 0h1m3 0h1m10 0h1m59 0h1m23 0h1M1 78h2m5 0h1m7 0h1m4 0h1m7 0h1m4 0h1m1 0h1m9 0h1m4 0h1m2 0h1m2 0h1m3 0h1m11 0h2m4 0h2m2 0h1m5 0h1m3 0h1m5 0h2m8 0h1m8 0h1m4 0h1m5 0h1m4 0h1m1 0h1m1 0h1m1 0h1m15 0h1m1 0h1m2 0h2m2 0h1m19 0h1m3 0h1m17 0h2m11 0h1m39 0h1m3 0h2m2 0h1m8 0h1m2 0h1m3 0h1m2 0h1m9 0h1m10 0h1m9 0h1m1 0h1m1 0h1m1 0h1m4 0h2m5 0h1m1 0h1m5 0h2m4 0h1m20 0h1m18 0h3m2 0h1m7 0h1m1 0h2m3 0h1m3 0h1m1 0h1m5 0h1m9 0h1m2 0h1m5 0h1m2 0h1m2 0h1m1 0h1m13 0h1m3 0h1m5 0h1m4 0h4m4 0h1m1 0h1m6 0h1m12 0h1m8 0h1m1 0h1m6 0h1m15 0h1m2 0h2m5 0h3m16 0h1m4 0h1m8 0h1m9 0h1m16 0h1m3 0h1m4 0h1m3 0h3m2 0h1m9 0h1m3 0h1m8 0h1m1 0h1m5 0h1m2 0h1m1 0h1m1 0h1m2 0h1m1 0h1m3 0h2m1 0h1m2 0h2m10 0h1m1 0h1m6 0h1m15 0h1m5 0h1m3 0h1m20 0h2m1 0h2m26 0h1m15 0h1M3 77h1m3 0h1m2 0h1m19 0h1m3 0h1m5 0h1m14 0h1m3 0h1m6 0h2m5 0h1m27 0h1m3 0h1m5 0h1m9 0h1m20 0h1m3 0h1m4 0h1m9 0h1m5 0h1m11 0h1m6 0h1m23 0h2m15 0h1m8 0h1m8 0h1m10 0h1m2 0h1m7 0h2m19 0h1m11 0h1m1 0h1m14 0h2m16 0h1m2 0h1m5 0h1m2 0h1m17 0h2m1 0h3m15 0h2m1 0h1m13 0h1m7 0h1m3 0h1m2 0h1m1 0h2m7 0h3m1 0h1m6 0h1m3 0h1m2 0h1m1 0h2m5 0h1m4 0h1m5 0h2m1 0h1m5 0h1m2 0h1m32 0h1m2 0h1m5 0h1m11 0h2m2 0h1m1 0h1m1 0h2m1 0h1m6 0h1m3 0h1m4 0h1m3 0h1m10 0h1m1 0h2m23 0h1m9 0h1m3 0h1m3 0h1m6 0h1m6 0h3m4 0h1m1 0h1m5 0h3m1 0h1m4 0h2m4 0h1m6 0h1m3 0h1m2 0h1m1 0h3m1 0h1m1 0h4m4 0h1m5 0h2m4 0h2m1 0h1m13 0h1m1 0h1m2 0h1m12 0h1m4 0h1m8 0h1m7 0h1m1 0h1m17 0h1m17 0h1m2 0h2M2 76h1m49 0h1m7 0h1m22 0h1m25 0h1m16 0h1m17 0h1m6 0h1m4 0h1m16 0h1m2 0h1m15 0h1m2 0h1m9 0h1m5 0h1m38 0h1m27 0h2m15 0h1m1 0h2m5 0h1m12 0h1m30 0h1m5 0h1m5 0h1m1 0h3m16 0h1m5 0h1m11 0h1m4 0h1m14 0h1m1 0h1m6 0h1m2 0h1m3 0h1m2 0h1m14 0h1m6 0h4m6 0h1m1 0h1m8 0h1m2 0h2m5 0h1m15 0h2m3 0h1m8 0h1m2 0h1m5 0h1m1 0h2m15 0h1m5 0h1m5 0h1m7 0h1m1 0h2m6 0h1m8 0h3m1 0h1m16 0h1m3 0h1m1 0h1m3 0h1m1 0h1m2 0h2m15 0h2m2 0h2m1 0h1m6 0h6m1 0h1m1 0h1m2 0h1m2 0h1m7 0h2m4 0h1m3 0h1m3 0h1m3 0h1m1 0h2m5 0h1m1 0h2m4 0h1m15 0h1m36 0h1m9 0h1m9 0h1m8 0h2m2 0h1m1 0h2M19 75h1m14 0h1m13 0h1m6 0h1m19 0h1m19 0h1m55 0h1m41 0h1m5 0h1m1 0h1m87 0h1m64 0h1m15 0h1m56 0h1m4 0h1m2 0h1m8 0h2m1 0h1m10 0h3m4 0h1m3 0h1m3 0h1m5 0h1m6 0h1m3 0h3m3 0h1m23 0h1m2 0h1m4 0h1m3 0h2m5 0h1m6 0h2m14 0h1m9 0h1m2 0h1m8 0h1m1 0h1m2 0h1m2 0h1m10 0h1m5 0h1m4 0h1m2 0h1m2 0h1m19 0h1m2 0h1m3 0h2m1 0h3m6 0h2m12 0h1m1 0h1m6 0h1m12 0h1m14 0h1m4 0h1m3 0h1m12 0h1m11 0h1m16 0h1m2 0h1m7 0h1m3 0h1m4 0h1m1 0h1m6 0h1M17 74h1m27 0h1m14 0h1m11 0h1m4 0h1m102 0h1m7 0h1m2 0h1m24 0h1m56 0h1m12 0h1m8 0h1m2 0h1m1 0h1m11 0h1m15 0h1m8 0h1m4 0h1m1 0h1m14 0h1m22 0h1m16 0h1m12 0h1m3 0h1m17 0h1m20 0h1m1 0h1m5 0h2m10 0h1m7 0h1m3 0h1m11 0h2m19 0h2m2 0h1m3 0h1m3 0h2m1 0h1m16 0h3m5 0h1m6 0h1m2 0h1m2 0h1m1 0h1m2 0h1m6 0h4m2 0h1m5 0h2m14 0h1m1 0h2m1 0h3m2 0h1m3 0h1m13 0h2m3 0h1m5 0h2m6 0h2m3 0h1m3 0h1m15 0h2m2 0h1m2 0h1m1 0h2m3 0h1m4 0h1m9 0h1m5 0h1m3 0h1m12 0h2m1 0h1m5 0h1m8 0h1m2 0h1m8 0h1m4 0h1m7 0h2m15 0h1m3 0h1m2 0h1m1 0h1M25 73h1m66 0h1m16 0h1m43 0h1m14 0h1m27 0h1m2 0h1m3 0h1m42 0h1m62 0h1m14 0h1m65 0h1m10 0h1m2 0h1m12 0h1m6 0h1m6 0h1m1 0h1m2 0h1m18 0h2m4 0h1m3 0h1m15 0h1m2 0h1m4 0h1m5 0h1m6 0h1m14 0h2m6 0h1m2 0h3m1 0h1m5 0h1m8 0h1m1 0h1m4 0h1m10 0h2m8 0h2m2 0h1m5 0h1m1 0h2m2 0h1m6 0h1m15 0h3m4 0h1m7 0h1m2 0h1m3 0h2m5 0h1m4 0h1m1 0h2m1 0h1m7 0h1m3 0h1m11 0h1m2 0h1m7 0h1m1 0h1m9 0h1m2 0h1m5 0h1m2 0h1m10 0h1m16 0h1m1 0h2m10 0h1m1 0h1m5 0h1m3 0h1m4 0h1m6 0h2m4 0h1m2 0h1m2 0h1m1 0h1m1 0h1m2 0h1m7 0h1M0 72h1m27 0h1m6 0h1m11 0h1m38 0h1m4 0h1m34 0h1m16 0h1m10 0h1m1 0h1m6 0h1m10 0h1m3 0h1m21 0h1m5 0h1m10 0h1m19 0h1m43 0h1m26 0h3m17 0h1m6 0h1m59 0h1m6 0h1m12 0h1m7 0h1m9 0h1m24 0h1m5 0h1m3 0h1m3 0h1m15 0h1m16 0h1m6 0h1m3 0h1m3 0h1m7 0h1m3 0h2m7 0h1m16 0h1m2 0h1m2 0h1m1 0h1m10 0h1m6 0h1m2 0h3m1 0h1m4 0h1m1 0h1m1 0h1m3 0h2m1 0h1m3 0h1m2 0h1m6 0h1m1 0h1m2 0h1m9 0h2m6 0h1m4 0h1m20 0h1m8 0h1m7 0h1m8 0h2m1 0h2m1 0h1m1 0h1m4 0h1m1 0h1m4 0h3m1 0h1m1 0h1m1 0h1m7 0h1m5 0h1m5 0h1m4 0h1m11 0h1m2 0h1m1 0h1m5 0h1m1 0h1m2 0h1m1 0h1m3 0h1M42 71h1m8 0h1m10 0h1m7 0h1m11 0h1m11 0h1m13 0h1m57 0h1m22 0h1m1 0h1m14 0h1m3 0h1m114 0h1m40 0h1m1 0h1m10 0h1m12 0h1m6 0h1m19 0h1m9 0h2m5 0h2m10 0h1m6 0h2m3 0h1m20 0h1m5 0h2m7 0h1m1 0h1m3 0h1m1 0h1m5 0h1m3 0h1m9 0h1m6 0h1m1 0h1m1 0h1m1 0h1m1 0h1m2 0h2m3 0h4m4 0h1m5 0h1m4 0h1m3 0h1m1 0h3m4 0h4m3 0h1m1 0h3m1 0h2m1 0h1m1 0h1m2 0h1m4 0h1m6 0h2m2 0h1m7 0h3m1 0h1m1 0h1m1 0h1m28 0h1m35 0h2m1 0h1m4 0h1m1 0h1m2 0h1m2 0h1m2 0h1m3 0h2m1 0h1m2 0h1m4 0h1m4 0h1m6 0h1m16 0h1m3 0h1m4 0h1m1 0h1m5 0h1m1 0h1m3 0h1m1 0h1m2 0h1m1 0h3m1 0h1m4 0h1M40 70h1m41 0h1m3 0h1m11 0h1m32 0h1m20 0h1m96 0h1m11 0h1m29 0h1m6 0h1m4 0h1m3 0h1m13 0h1m77 0h1m2 0h1m5 0h1m15 0h1m1 0h1m17 0h1m15 0h1m10 0h1m1 0h1m16 0h1m2 0h1m3 0h1m5 0h1m12 0h1m1 0h1m2 0h1m2 0h1m2 0h1m5 0h1m1 0h1m6 0h1m7 0h4m10 0h1m11 0h1m1 0h1m3 0h1m1 0h1m9 0h1m3 0h2m16 0h1m11 0h2m4 0h1m1 0h2m8 0h1m3 0h1m38 0h1m11 0h1m5 0h1m4 0h1m1 0h2m3 0h1m1 0h1m1 0h1m2 0h2m4 0h1m5 0h1m13 0h1m1 0h1m6 0h1m7 0h1m2 0h1m6 0h1m3 0h1m8 0h1m1 0h2m1 0h1m1 0h1M140 69h1m158 0h1m24 0h1m9 0h1m4 0h1m18 0h1m39 0h2m26 0h1m43 0h1m6 0h1m25 0h1m14 0h1m4 0h1m4 0h1m29 0h2m13 0h1m3 0h1m3 0h1m5 0h1m6 0h1m2 0h1m2 0h1m13 0h2m13 0h2m3 0h1m3 0h1m1 0h1m10 0h1m30 0h1m12 0h2m4 0h1m18 0h1m1 0h1m3 0h3m2 0h1m4 0h1m8 0h1m1 0h1m24 0h1m4 0h1m3 0h1m3 0h1m5 0h2m2 0h1m4 0h1m3 0h1m2 0h1M62 68h1m43 0h1m20 0h1m58 0h1m23 0h1m17 0h1m1 0h1m19 0h1m38 0h1m74 0h1m7 0h1m6 0h1m53 0h1m5 0h1m2 0h1m22 0h1m9 0h1m25 0h1m6 0h1m5 0h1m11 0h2m6 0h3m2 0h1m2 0h1m3 0h1m6 0h1m2 0h1m2 0h1m26 0h1m4 0h1m23 0h1m2 0h1m7 0h1m2 0h1m2 0h1m2 0h1m6 0h2m6 0h1m6 0h1m13 0h2m6 0h1m3 0h1m10 0h1m14 0h1m3 0h1m9 0h1m3 0h1m1 0h2m1 0h4m1 0h2m1 0h2m5 0h1m9 0h1m3 0h1m5 0h1m1 0h1m3 0h2m1 0h3m5 0h1m4 0h1m3 0h3m1 0h2m2 0h4m2 0h1M112 67h1m24 0h1m76 0h1m92 0h1m15 0h1m93 0h1m7 0h1m14 0h1m9 0h1m23 0h1m11 0h1m30 0h1m3 0h1m17 0h1m2 0h2m2 0h1m7 0h1m4 0h1m22 0h1m13 0h1m4 0h1m1 0h1m7 0h1m2 0h1m5 0h1m16 0h2m11 0h3m19 0h1m4 0h1m8 0h1m5 0h2m11 0h1m16 0h1m10 0h2m2 0h2m5 0h2m3 0h2m1 0h1m1 0h1m1 0h1m1 0h1m1 0h1m1 0h1m3 0h1m4 0h1m4 0h1m3 0h4m2 0h1m1 0h2m1 0h1m1 0h1m9 0h1M155 66h1m116 0h1m142 0h1m64 0h1m32 0h1m1 0h1m31 0h1m2 0h1m22 0h2m12 0h1m1 0h1m9 0h1m4 0h1m14 0h1m13 0h1m39 0h1m15 0h1m5 0h1m4 0h1m3 0h1m1 0h1m3 0h2m19 0h1m1 0h1m11 0h1m5 0h1m5 0h1m1 0h1m3 0h1m1 0h3m2 0h1m3 0h1m2 0h1m6 0h1m11 0h2M83 65h1m21 0h1m11 0h1m252 0h1m25 0h1m79 0h1m20 0h2m2 0h2m6 0h1m33 0h1m9 0h1m19 0h1m13 0h2m1 0h1m11 0h1m6 0h1m10 0h2m7 0h1m13 0h1m1 0h1m7 0h1m2 0h1m4 0h1m4 0h1m13 0h1m15 0h1m3 0h1m2 0h1m9 0h1m7 0h1m28 0h1m6 0h1m16 0h2m2 0h1m12 0h2M136 64h1m5 0h1m204 0h1m25 0h1m65 0h1m18 0h1m63 0h1m8 0h1m2 0h1m2 0h2m4 0h1m2 0h1m11 0h1m15 0h1m1 0h1m23 0h1m5 0h1m12 0h1m2 0h1m7 0h1m10 0h1m17 0h1m10 0h1m6 0h1m7 0h1m4 0h1m2 0h1m1 0h1m22 0h1m7 0h1m1 0h1m28 0h1m10 0h1m2 0h1m4 0h1m2 0h1m10 0h1m16 0h1M379 63h1m21 0h1m26 0h1m14 0h1m22 0h1m3 0h1m11 0h1m28 0h1m1 0h1m9 0h1m7 0h1m11 0h1m4 0h1m3 0h1m7 0h1m5 0h1m4 0h1m8 0h1m10 0h1m13 0h1m8 0h1m11 0h1m2 0h1m12 0h1m2 0h1m35 0h1m3 0h1m4 0h1m9 0h1m2 0h1m7 0h1m20 0h1m15 0h1m1 0h1m8 0h1m6 0h2m7 0h1m2 0h1M417 62h1m34 0h1m41 0h1m65 0h1m4 0h1m21 0h1m2 0h1m8 0h1m6 0h1m7 0h1m5 0h2m3 0h1m3 0h1m3 0h1m21 0h1m7 0h1m4 0h1m4 0h1m10 0h1m7 0h1m7 0h1m1 0h1m5 0h1m1 0h1m14 0h1m6 0h1m16 0h1m1 0h1m7 0h2m5 0h1m34 0h1m1 0h1m2 0h1M467 61h1m24 0h1m32 0h1m14 0h2m16 0h1m44 0h2m16 0h1m4 0h1m12 0h1m5 0h1m4 0h1m5 0h1m5 0h1m3 0h1m6 0h1m1 0h1m4 0h1m2 0h1m5 0h1m10 0h1m8 0h1m2 0h1m34 0h1m1 0h1m2 0h1m6 0h1m4 0h1m18 0h1m7 0h1m1 0h1m6 0h1M578 60h1m27 0h1m17 0h1m26 0h1m19 0h1m3 0h1m56 0h1m20 0h1m5 0h1m3 0h1m15 0h1m19 0h1M566 59h1m36 0h1m153 0h1m7 0h1m8 0h1m7 0h1m1 0h1M771 58h1m15 0h1m8 0h1m3 0h1"/>
<path stroke="#0000fd" d="M234 124h1m88 0h1m387 0h1M466 123h1M429 122h1m14 0h1m291 0h1M41 121h1m91 0h1m200 0h1m136 0h1m31 0h1M138 120h1m221 0h1m8 0h1m129 0h1m274 0h1M224 119h2m125 0h1m289 0h1m12 0h1m15 0h1m64 0h1m4 0h1M11 118h1m46 0h1m93 0h1m75 0h1m81 0h1m27 0h1m91 0h2m16 0h1m6 0h1m33 0h1m45 0h1m98 0h1m20 0h1m79 0h1m23 0h2m42 0h1M37 117h1m76 0h1m11 0h1m161 0h1m9 0h1m51 0h1m59 0h1m12 0h1m15 0h1m2 0h1m120 0h1m62 0h1m6 0h2m9 0h1m141 0h2M21 116h1m1 0h1m50 0h1m8 0h1m48 0h1m3 0h1m89 0h1m5 0h1m4 0h1m49 0h1m6 0h1m1 0h1m13 0h1m16 0h1m8 0h1m10 0h1m33 0h1m51 0h1m36 0h1m84 0h1m67 0h1m23 0h1m39 0h1m66 0h1m25 0h1M10 115h1m15 0h1m4 0h1m17 0h1m50 0h2m16 0h1m4 0h1m5 0h1m6 0h1m42 0h1m17 0h1m119 0h1m18 0h1m25 0h1m1 0h1m2 0h1m4 0h1m8 0h1m5 0h1m1 0h1m42 0h1m1 0h1m7 0h1m37 0h1m23 0h1m26 0h1m98 0h1m1 0h1m40 0h1m13 0h1m6 0h1m1 0h1m28 0h1m8 0h1m17 0h1m20 0h1m15 0h1m3 0h1m6 0h1M6 114h1m43 0h2m30 0h1m34 0h1m25 0h1m1 0h1m34 0h2m3 0h1m1 0h1m73 0h1m36 0h1m27 0h1m25 0h1m21 0h1m11 0h1m3 0h1m2 0h1m53 0h1m7 0h1m5 0h1m7 0h1m61 0h1m10 0h1m8 0h1m74 0h1m28 0h1m6 0h1m7 0h1m39 0h1m24 0h1m14 0h1m11 0h1m10 0h1M5 113h1m18 0h2m9 0h1m32 0h1m4 0h1m5 0h1m9 0h1m2 0h1m23 0h1m26 0h1m26 0h1m14 0h1m23 0h1m1 0h1m40 0h1m62 0h1m5 0h1m5 0h1m6 0h1m2 0h2m2 0h1m6 0h1m16 0h1m22 0h1m42 0h1m4 0h1m1 0h1m6 0h1m41 0h1m44 0h1m44 0h1m21 0h1m15 0h1m11 0h1m15 0h1m4 0h1m25 0h1m12 0h1m2 0h2m18 0h1m5 0h1m35 0h1m3 0h1M4 112h1m2 0h1m2 0h1m4 0h1m6 0h1m1 0h1m2 0h1m41 0h1m6 0h1m8 0h1m3 0h1m20 0h2m3 0h1m26 0h1m2 0h1m3 0h1m7 0h1m32 0h1m10 0h1m35 0h1m17 0h1m55 0h1m16 0h1m1 0h1m10 0h1m7 0h1m27 0h1m1 0h1m9 0h1m2 0h1m6 0h1m10 0h1m26 0h1m3 0h1m6 0h1m43 0h1m24 0h1m2 0h1m23 0h1m56 0h1m2 0h1m27 0h1m13 0h1m9 0h1m11 0h1m21 0h1m1 0h1m3 0h1m19 0h1m8 0h1m35 0h1m11 0h1m10 0h1M2 111h1m1 0h1m7 0h1m15 0h2m4 0h1m29 0h1m4 0h1m6 0h1m11 0h1m4 0h3m30 0h1m19 0h1m2 0h1m29 0h1m4 0h1m26 0h1m5 0h1m2 0h1m76 0h1m8 0h1m14 0h1m60 0h1m3 0h2m1 0h1m47 0h2m11 0h2m25 0h1m1 0h1m32 0h1m8 0h3m1 0h1m27 0h2m63 0h1m53 0h1m11 0h2m5 0h1m4 0h1m67 0h1m9 0h1m1 0h1m10 0h1M4 110h1m10 0h1m2 0h1m24 0h1m17 0h1m12 0h1m2 0h1m1 0h2m13 0h1m3 0h1m2 0h1m4 0h1m5 0h1m20 0h1m15 0h1m47 0h1m7 0h1m2 0h1m74 0h1m30 0h1m3 0h1m1 0h1m3 0h1m3 0h1m6 0h1m4 0h1m10 0h1m2 0h1m7 0h1m12 0h1m59 0h1m12 0h1m40 0h2m78 0h1m57 0h1m8 0h1m3 0h1m24 0h1m8 0h1m9 0h1m8 0h1m4 0h1m4 0h1m33 0h1m7 0h2m14 0h1m4 0h1m6 0h1m7 0h1M13 109h1m6 0h1m2 0h1m3 0h1m1 0h1m7 0h1m1 0h1m6 0h1m20 0h2m13 0h2m3 0h1m7 0h1m2 0h1m8 0h1m16 0h1m2 0h1m9 0h1m32 0h1m27 0h1m15 0h1m4 0h1m97 0h1m74 0h1m11 0h1m18 0h1m3 0h1m14 0h1m29 0h1m2 0h1m1 0h2m10 0h2m15 0h1m9 0h1m48 0h1m48 0h1m11 0h1m1 0h1m24 0h1m20 0h1m1 0h1m18 0h1m4 0h1m8 0h1m2 0h1m4 0h1m16 0h1m4 0h1m3 0h2m20 0h1m3 0h1m33 0h1M18 108h1m14 0h1m4 0h1m7 0h1m4 0h1m9 0h1m1 0h1m13 0h1m6 0h1m1 0h1m2 0h1m5 0h2m7 0h1m6 0h1m9 0h1m5 0h1m16 0h1m38 0h2m10 0h1m23 0h1m2 0h1m28 0h1m4 0h1m11 0h1m2 0h1m10 0h2m4 0h1m11 0h1m5 0h1m20 0h1m3 0h1m59 0h1m18 0h1m3 0h1m31 0h1m15 0h1m38 0h1m2 0h1m16 0h1m12 0h1m10 0h1m21 0h1m57 0h1m44 0h1m15 0h1m20 0h1m44 0h1m10 0h1m36 0h2M1 107h1m6 0h3m7 0h1m6 0h1m8 0h1m7 0h1m23 0h2m8 0h1m11 0h3m2 0h1m2 0h1m13 0h1m3 0h1m1 0h1m2 0h1m3 0h1m13 0h1m4 0h1m4 0h1m11 0h1m1 0h1m5 0h1m3 0h1m12 0h1m10 0h1m22 0h1m33 0h1m14 0h1m1 0h1m1 0h1m8 0h1m13 0h1m22 0h1m2 0h1m37 0h1m7 0h1m25 0h1m4 0h1m10 0h1m10 0h1m2 0h1m6 0h1m5 0h1m3 0h1m27 0h1m1 0h1m28 0h1m6 0h1m7 0h1m30 0h1m7 0h1m2 0h1m6 0h2m2 0h1m1 0h1m44 0h1m32 0h1m18 0h1m22 0h1m36 0h1m37 0h1m8 0h1m3 0h1M5 106h2m2 0h1m1 0h1m5 0h1m4 0h2m13 0h1m8 0h1m21 0h1m1 0h1m7 0h1m5 0h1m3 0h1m7 0h2m14 0h1m10 0h1m4 0h1m10 0h2m4 0h1m3 0h2m6 0h1m1 0h1m7 0h1m12 0h1m16 0h1m12 0h1m14 0h1m6 0h1m10 0h1m27 0h1m3 0h1m4 0h2m3 0h1m10 0h1m21 0h1m23 0h1m20 0h1m28 0h1m10 0h1m6 0h1m34 0h2m4 0h1m10 0h1m13 0h1m8 0h1m24 0h1m50 0h1m6 0h1m16 0h1m42 0h1m10 0h1m2 0h1m4 0h2m12 0h1m2 0h1m2 0h1m41 0h1m12 0h1m4 0h1m15 0h1m16 0h1m12 0h1m13 0h1m9 0h2M6 105h1m1 0h1m3 0h1m1 0h2m5 0h1m6 0h1m18 0h1m1 0h1m3 0h1m11 0h1m4 0h1m3 0h1m11 0h1m5 0h2m6 0h1m2 0h1m22 0h1m13 0h1m10 0h1m3 0h1m2 0h1m4 0h1m10 0h2m18 0h1m7 0h1m29 0h1m34 0h1m2 0h1m10 0h1m4 0h1m3 0h1m19 0h1m1 0h1m6 0h1m27 0h1m23 0h1m34 0h1m7 0h1m44 0h1m1 0h1m27 0h1m31 0h1m26 0h1m17 0h1m2 0h1m3 0h1m42 0h1m21 0h2m4 0h2m18 0h1m29 0h1m51 0h2M2 104h1m4 0h1m8 0h2m9 0h1m17 0h1m2 0h1m17 0h1m1 0h1m11 0h2m1 0h1m2 0h4m12 0h1m11 0h1m10 0h1m17 0h2m12 0h1m1 0h1m4 0h1m2 0h1m23 0h1m21 0h1m21 0h1m23 0h1m9 0h2m5 0h1m5 0h1m19 0h2m2 0h1m5 0h1m22 0h1m1 0h1m10 0h1m3 0h1m34 0h1m11 0h1m16 0h1m107 0h1m20 0h1m21 0h1m4 0h1m1 0h1m5 0h1m7 0h1m25 0h1m2 0h1m51 0h1m54 0h2m12 0h1m34 0h1m12 0h1m12 0h2M1 103h1m4 0h2m6 0h1m7 0h1m5 0h2m6 0h1m10 0h1m5 0h1m3 0h1m7 0h1m8 0h1m5 0h1m4 0h2m1 0h1m3 0h1m12 0h1m4 0h1m11 0h1m5 0h1m19 0h1m39 0h2m23 0h2m36 0h1m3 0h1m11 0h1m9 0h1m4 0h1m4 0h1m15 0h1m17 0h1m21 0h2m26 0h1m16 0h2m2 0h1m110 0h1m42 0h1m10 0h1m36 0h1m3 0h1m94 0h2m54 0h1m11 0h1m5 0h1m12 0h1m10 0h1m8 0h1M3 102h1m11 0h1m10 0h1m2 0h2m4 0h1m7 0h1m34 0h1m4 0h1m3 0h1m2 0h1m11 0h3m2 0h2m7 0h1m10 0h1m7 0h1m18 0h1m2 0h1m15 0h1m51 0h1m22 0h1m6 0h1m1 0h1m10 0h1m2 0h2m24 0h1m12 0h1m5 0h2m3 0h1m18 0h1m12 0h1m22 0h1m7 0h1m14 0h1m1 0h1m7 0h1m26 0h1m22 0h1m10 0h3m21 0h2m2 0h1m13 0h1m7 0h1m9 0h1m12 0h1m2 0h1m32 0h1m7 0h1m19 0h1m38 0h1m10 0h1m8 0h1m23 0h1m28 0h1m41 0h1m8 0h1m13 0h1m1 0h1m13 0h1M16 101h1m23 0h1m21 0h1m20 0h2m17 0h1m1 0h1m18 0h1m7 0h1m6 0h2m15 0h1m1 0h1m21 0h1m14 0h1m20 0h1m32 0h1m4 0h1m21 0h1m10 0h1m5 0h1m5 0h1m5 0h1m1 0h1m2 0h1m4 0h1m6 0h1m6 0h1m5 0h2m11 0h1m8 0h1m9 0h1m1 0h1m7 0h1m11 0h1m13 0h1m13 0h1m30 0h1m7 0h1m18 0h1m18 0h1m20 0h1m17 0h1m24 0h1m17 0h1m12 0h1m19 0h1m49 0h1m33 0h1m84 0h1m19 0h1m5 0h1M10 100h1m4 0h1m10 0h1m12 0h1m1 0h1m3 0h1m15 0h2m8 0h2m3 0h1m10 0h1m1 0h1m1 0h2m6 0h1m8 0h1m9 0h1m12 0h1m27 0h1m11 0h1m5 0h1m2 0h1m3 0h1m7 0h1m16 0h1m3 0h1m23 0h1m15 0h1m6 0h1m5 0h1m7 0h1m2 0h1m20 0h1m3 0h1m34 0h1m13 0h1m16 0h1m3 0h1m1 0h1m16 0h1m8 0h1m73 0h2m16 0h1m2 0h1m47 0h1m1 0h1m1 0h1m57 0h1m3 0h1m4 0h1m19 0h1m9 0h1m32 0h1m92 0h1M20 99h1m31 0h1m5 0h1m16 0h1m3 0h1m1 0h1m1 0h1m6 0h1m12 0h2m7 0h1m14 0h1m18 0h2m56 0h1m9 0h1m2 0h1m9 0h1m9 0h1m14 0h2m40 0h1m3 0h2m15 0h1m10 0h1m8 0h1m11 0h1m7 0h1m27 0h1m3 0h1m10 0h1m15 0h1m8 0h1m10 0h1m35 0h1m7 0h1m65 0h1m6 0h1m2 0h1m8 0h1m20 0h1m2 0h1m3 0h1m8 0h1m38 0h1m4 0h1m13 0h1m9 0h2m34 0h1m44 0h1m2 0h1m18 0h1m5 0h2m19 0h1m3 0h1M46 98h2m7 0h1m2 0h1m13 0h1m5 0h1m15 0h1m1 0h1m30 0h1m12 0h1m16 0h1m2 0h1m26 0h1m2 0h1m16 0h1m5 0h1m1 0h1m8 0h1m2 0h1m9 0h1m12 0h1m3 0h2m1 0h2m21 0h1m1 0h1m11 0h1m3 0h1m6 0h1m19 0h1m3 0h1m18 0h1m20 0h2m7 0h1m26 0h2m45 0h1m17 0h1m5 0h1m2 0h2m9 0h1m62 0h1m91 0h1m22 0h1m1 0h1m5 0h1m55 0h1m28 0h1M25 97h1m4 0h1m3 0h1m1 0h1m8 0h1m2 0h1m7 0h1m1 0h2m2 0h1m3 0h1m5 0h1m2 0h1m8 0h1m16 0h1m15 0h1m1 0h1m11 0h1m3 0h1m8 0h1m19 0h1m35 0h1m2 0h1m22 0h1m27 0h1m5 0h1m9 0h1m5 0h1m5 0h1m8 0h1m2 0h1m13 0h1m19 0h1m21 0h1m15 0h1m3 0h1m42 0h1m30 0h1m13 0h1m21 0h1m20 0h1m60 0h1m14 0h1m6 0h1m7 0h4m25 0h1m6 0h1m6 0h1m20 0h1m41 0h1m7 0h1m13 0h1m3 0h1m18 0h1M4 96h1m2 0h1m7 0h1m12 0h1m4 0h1m2 0h1m2 0h1m31 0h2m6 0h1m5 0h1m3 0h1m1 0h2m1 0h1m2 0h3m12 0h1m18 0h1m2 0h1m5 0h1m23 0h1m6 0h1m28 0h1m12 0h1m1 0h1m12 0h1m17 0h1m49 0h1m11 0h1m35 0h1m1 0h2m2 0h2m14 0h1m36 0h1m9 0h1m35 0h1m2 0h1m5 0h1m17 0h1m19 0h1m59 0h1m21 0h1m13 0h1m1 0h1m1 0h1m57 0h1m1 0h1m2 0h1m63 0h1m43 0h1M6 95h2m12 0h1m23 0h1m1 0h1m2 0h1m9 0h1m2 0h1m6 0h1m2 0h1m7 0h1m5 0h1m1 0h2m5 0h1m2 0h1m3 0h1m2 0h1m7 0h1m4 0h1m5 0h1m9 0h1m17 0h1m10 0h1m14 0h1m5 0h1m7 0h1m2 0h1m1 0h1m5 0h1m2 0h1m7 0h1m5 0h1m16 0h1m6 0h1m15 0h1m1 0h1m13 0h1m19 0h1m33 0h1m17 0h1m2 0h2m16 0h1m12 0h1m11 0h1m12 0h1m8 0h1m59 0h1m8 0h1m22 0h1m41 0h1m23 0h1m4 0h1m8 0h1m5 0h1m11 0h1m40 0h1m3 0h1m16 0h1m7 0h1m1 0h1m83 0h1M2 94h1m11 0h1m9 0h1m1 0h1m49 0h1m10 0h1m1 0h1m23 0h2m2 0h1m6 0h1m1 0h1m7 0h1m60 0h1m1 0h2m7 0h1m1 0h2m31 0h1m4 0h1m12 0h1m49 0h1m13 0h1m10 0h1m14 0h1m3 0h1m4 0h1m18 0h1m32 0h1m2 0h1m17 0h1m2 0h1m24 0h3m10 0h1m6 0h1m9 0h1m11 0h1m24 0h1m23 0h1m50 0h1m10 0h1m2 0h1m14 0h1m2 0h1m32 0h1m16 0h1m26 0h1m8 0h1m13 0h1m23 0h1M0 93h1m3 0h1m4 0h1m9 0h1m1 0h1m10 0h2m5 0h1m6 0h1m17 0h1m7 0h1m1 0h1m3 0h1m2 0h1m4 0h1m1 0h1m1 0h2m3 0h1m10 0h1m17 0h1m2 0h1m8 0h1m2 0h1m23 0h1m2 0h1m13 0h1m9 0h1m3 0h1m13 0h1m16 0h1m4 0h1m12 0h1m2 0h1m11 0h1m16 0h1m66 0h1m16 0h1m5 0h1m23 0h1m18 0h1m1 0h1m9 0h1m41 0h1m7 0h1m31 0h2m44 0h1m3 0h1m13 0h1m65 0h1m112 0h1m3 0h1M10 92h1m1 0h1m7 0h1m2 0h1m2 0h1m7 0h1m11 0h1m5 0h1m17 0h1m11 0h1m4 0h1m2 0h1m1 0h1m15 0h1m8 0h1m5 0h1m2 0h1m2 0h1m38 0h1m24 0h1m6 0h1m16 0h1m7 0h1m3 0h1m11 0h1m4 0h1m27 0h2m8 0h1m20 0h1m7 0h1m2 0h1m1 0h1m37 0h1m9 0h1m18 0h1m1 0h1m7 0h1m2 0h1m2 0h1m34 0h2m14 0h1m8 0h1m14 0h1m8 0h1m18 0h1m9 0h1m15 0h1m31 0h1m13 0h1m4 0h1m3 0h1m13 0h1m9 0h1m22 0h1m24 0h1m4 0h1m19 0h1m43 0h1m8 0h1m12 0h1m15 0h1m26 0h1M0 91h1m5 0h1m3 0h1m9 0h1m1 0h1m27 0h1m9 0h1m1 0h1m6 0h2m10 0h1m1 0h1m8 0h1m12 0h1m16 0h1m2 0h1m22 0h1m5 0h1m6 0h1m5 0h1m24 0h3m12 0h1m13 0h1m5 0h1m16 0h1m16 0h1m46 0h1m4 0h1m8 0h1m16 0h1m10 0h1m9 0h1m4 0h1m5 0h1m33 0h3m12 0h1m14 0h1m19 0h1m4 0h2m4 0h1m9 0h1m1 0h1m6 0h1m11 0h1m2 0h1m27 0h1m46 0h1m10 0h1m53 0h1m6 0h1m15 0h1m23 0h1m52 0h1m56 0h1M2 90h1m1 0h1m6 0h1m2 0h1m3 0h1m2 0h1m2 0h1m1 0h1m13 0h1m7 0h1m12 0h1m17 0h1m8 0h2m3 0h1m2 0h1m2 0h1m5 0h2m10 0h1m6 0h1m27 0h1m48 0h1m4 0h1m10 0h1m7 0h1m14 0h1m3 0h1m6 0h1m23 0h1m2 0h1m2 0h2m12 0h1m11 0h2m6 0h1m9 0h1m13 0h1m3 0h1m17 0h1m5 0h1m15 0h2m7 0h1m21 0h1m11 0h1m20 0h1m6 0h1m16 0h1m4 0h1m1 0h1m14 0h1m20 0h1m2 0h1m3 0h1m16 0h1m25 0h1m86 0h1m63 0h1m30 0h1m2 0h1m7 0h1M16 89h1m13 0h1m2 0h1m7 0h1m8 0h1m1 0h1m9 0h1m4 0h1m11 0h1m6 0h1m1 0h1m14 0h1m18 0h2m4 0h1m11 0h1m23 0h1m37 0h1m13 0h1m19 0h1m12 0h1m2 0h1m6 0h1m15 0h1m18 0h1m13 0h1m10 0h1m21 0h1m55 0h1m4 0h1m4 0h1m10 0h1m19 0h2m1 0h1m52 0h1m6 0h1m77 0h1m4 0h1m37 0h1m16 0h1m35 0h1m2 0h1m18 0h1m1 0h1m14 0h1m49 0h1m41 0h1M3 88h1m9 0h2m21 0h1m17 0h1m1 0h2m36 0h1m8 0h1m27 0h1m3 0h1m35 0h1m36 0h1m3 0h1m4 0h1m29 0h1m1 0h1m7 0h2m9 0h1m6 0h1m2 0h1m42 0h1m10 0h1m56 0h1m3 0h1m3 0h1m15 0h2m4 0h1m5 0h1m2 0h1m22 0h1m3 0h1m13 0h1m1 0h1m18 0h1m20 0h1m6 0h1m15 0h1m5 0h1m43 0h1m23 0h1m10 0h1m32 0h1m54 0h1m7 0h1m38 0h1m25 0h2m23 0h1M1 87h1m8 0h1m1 0h1m5 0h1m15 0h1m2 0h1m9 0h1m3 0h1m21 0h1m17 0h1m1 0h2m2 0h1m2 0h1m5 0h1m5 0h1m10 0h1m52 0h1m5 0h1m32 0h1m21 0h1m3 0h2m1 0h3m84 0h1m14 0h1m20 0h2m3 0h1m9 0h1m8 0h1m2 0h1m13 0h1m4 0h1m23 0h1m8 0h1m26 0h1m64 0h1m17 0h1m17 0h1m11 0h1m16 0h1m5 0h1m62 0h1m30 0h1m25 0h1m37 0h1M7 86h2m6 0h1m1 0h1m5 0h1m1 0h1m7 0h1m5 0h1m8 0h1m5 0h1m21 0h2m5 0h1m4 0h2m3 0h1m7 0h1m3 0h1m5 0h1m22 0h1m18 0h1m3 0h1m2 0h1m18 0h1m10 0h1m3 0h1m1 0h1m26 0h2m5 0h1m8 0h1m2 0h1m2 0h1m1 0h2m16 0h1m27 0h1m8 0h1m4 0h1m9 0h1m4 0h2m6 0h1m1 0h1m1 0h1m20 0h1m12 0h1m28 0h2m7 0h1m7 0h1m33 0h1m14 0h1m27 0h1m41 0h1m11 0h1m5 0h1m7 0h1m5 0h1m12 0h1m16 0h1m3 0h1m30 0h1m106 0h1m12 0h1m43 0h1m1 0h1m6 0h1M1 85h1m5 0h1m8 0h1m1 0h1m7 0h1m2 0h1m5 0h3m10 0h1m4 0h2m2 0h1m11 0h2m7 0h2m2 0h1m40 0h2m19 0h1m30 0h1m21 0h1m32 0h1m9 0h1m63 0h1m28 0h2m9 0h1m1 0h1m10 0h1m8 0h1m24 0h1m1 0h2m3 0h1m7 0h1m4 0h1m18 0h1m10 0h1m56 0h1m9 0h1m5 0h1m14 0h1m3 0h1m2 0h1m6 0h1m26 0h1m39 0h2m16 0h2m4 0h1m15 0h1m28 0h1m30 0h1m8 0h1m10 0h1M25 84h1m18 0h1m14 0h1m3 0h1m18 0h1m1 0h1m10 0h1m12 0h1m1 0h1m12 0h2m9 0h1m3 0h1m7 0h3m5 0h1m2 0h1m53 0h1m19 0h1m11 0h2m18 0h1m3 0h1m1 0h1m23 0h1m7 0h1m5 0h1m7 0h1m18 0h1m3 0h1m14 0h1m8 0h1m24 0h1m2 0h1m2 0h1m1 0h1m17 0h2m6 0h1m38 0h1m5 0h1m31 0h1m9 0h1m33 0h1m39 0h2m16 0h2m13 0h1m2 0h1m91 0h1m24 0h1m61 0h1M3 83h1m19 0h1m16 0h1m3 0h1m1 0h1m4 0h2m26 0h1m23 0h1m4 0h1m16 0h1m3 0h1m28 0h1m7 0h1m13 0h1m16 0h1m2 0h1m1 0h3m23 0h1m4 0h2m7 0h1m20 0h1m21 0h1m16 0h1m47 0h2m13 0h1m34 0h1m2 0h1m7 0h4m36 0h1m18 0h1m49 0h1m6 0h2m2 0h2m48 0h1m1 0h1m17 0h1m7 0h1m7 0h1m11 0h1m12 0h1m12 0h1m40 0h1m15 0h1m14 0h1m17 0h1m17 0h1m43 0h1M20 82h1m7 0h1m5 0h1m26 0h1m11 0h1m5 0h1m1 0h1m12 0h1m33 0h1m1 0h1m21 0h1m21 0h1m11 0h1m14 0h1m15 0h1m14 0h1m12 0h1m2 0h1m8 0h1m3 0h2m3 0h1m16 0h1m9 0h1m9 0h2m1 0h2m32 0h1m18 0h1m18 0h1m16 0h1m3 0h1m7 0h3m13 0h1m1 0h1m1 0h1m17 0h1m6 0h1m13 0h1m32 0h1m23 0h1m4 0h1m28 0h1m29 0h1m47 0h1m53 0h1m13 0h1m3 0h1m1 0h1m2 0h1m53 0h1m24 0h1M15 81h1m3 0h1m9 0h1m2 0h2m1 0h3m12 0h1m27 0h1m3 0h1m13 0h1m12 0h1m1 0h1m2 0h2m12 0h1m2 0h1m9 0h1m10 0h1m2 0h1m2 0h1m13 0h2m1 0h1m12 0h1m7 0h1m12 0h1m1 0h1m6 0h2m7 0h1m6 0h1m6 0h1m3 0h1m3 0h1m12 0h2m14 0h1m7 0h1m44 0h1m8 0h1m15 0h1m10 0h1m1 0h1m38 0h1m19 0h1m20 0h1m9 0h1m9 0h1m17 0h1m33 0h1m37 0h2m21 0h1m3 0h1m8 0h1m19 0h1m8 0h1m19 0h1m13 0h1m5 0h2m6 0h1m23 0h2m28 0h1m67 0h1m9 0h1M9 80h1m3 0h2m3 0h1m5 0h1m20 0h1m8 0h1m2 0h1m15 0h1m3 0h2m1 0h1m26 0h1m1 0h1m3 0h1m7 0h1m5 0h1m15 0h1m7 0h1m4 0h1m10 0h1m4 0h1m37 0h2m22 0h1m5 0h1m14 0h1m11 0h1m7 0h1m16 0h1m9 0h1m9 0h1m15 0h1m52 0h1m31 0h1m11 0h1m8 0h1m17 0h1m31 0h1m16 0h1m16 0h1m6 0h1m80 0h2m2 0h1m60 0h2m18 0h1m4 0h1m3 0h1m28 0h1m9 0h1m22 0h1m15 0h1m20 0h1m1 0h1M11 79h1m6 0h1m10 0h2m1 0h1m19 0h1m3 0h1m9 0h1m8 0h1m4 0h1m8 0h1m9 0h1m4 0h1m26 0h1m8 0h1m26 0h1m2 0h1m9 0h1m8 0h2m8 0h1m13 0h1m33 0h1m1 0h1m22 0h2m2 0h1m10 0h1m17 0h1m16 0h1m4 0h1m22 0h1m9 0h2m5 0h1m9 0h1m7 0h1m8 0h1m4 0h1m3 0h1m25 0h1m18 0h1m31 0h1m27 0h1m7 0h1m30 0h1m21 0h1m12 0h1m26 0h1m6 0h1m4 0h1m1 0h1m3 0h2m9 0h1m2 0h1m3 0h1m8 0h1m3 0h1m5 0h1m10 0h1m1 0h1m1 0h1m8 0h1m2 0h1m31 0h1m5 0h1m30 0h2m16 0h1m12 0h1m4 0h1M20 78h1m2 0h1m8 0h2m7 0h2m4 0h1m5 0h1m1 0h2m14 0h1m4 0h3m15 0h3m5 0h1m36 0h1m4 0h2m1 0h1m38 0h1m8 0h1m1 0h1m54 0h3m17 0h1m27 0h2m1 0h1m2 0h1m9 0h1m9 0h1m8 0h1m4 0h1m45 0h1m9 0h1m37 0h1m4 0h1m37 0h1m13 0h1m4 0h1m4 0h1m1 0h1m5 0h1m8 0h1m14 0h1m5 0h1m9 0h1m13 0h1m1 0h1m3 0h1m3 0h1m7 0h1m7 0h1m13 0h1m3 0h1m3 0h1m1 0h2m2 0h2m3 0h1m5 0h2m2 0h1m1 0h1m2 0h2m6 0h1m10 0h2m7 0h1m3 0h2m4 0h1m5 0h1m4 0h4m4 0h1m44 0h1M16 77h1m22 0h1m10 0h1m5 0h1m25 0h1m10 0h1m10 0h1m8 0h1m15 0h1m13 0h1m38 0h1m14 0h1m7 0h1m25 0h1m37 0h1m1 0h1m20 0h1m5 0h1m5 0h1m20 0h1m14 0h1m18 0h1m13 0h1m18 0h1m2 0h1m1 0h1m29 0h1m4 0h1m6 0h1m3 0h1m7 0h1m33 0h1m1 0h1m22 0h1m13 0h2m2 0h1m1 0h1m9 0h1m6 0h1m1 0h2m2 0h1m5 0h1m6 0h1m2 0h1m9 0h2m2 0h1m1 0h1m6 0h1m13 0h1m1 0h1m5 0h2m5 0h1m1 0h4m2 0h1m7 0h1m4 0h1m1 0h1m1 0h1m5 0h1m3 0h1m5 0h1m2 0h1m3 0h1m6 0h1m14 0h1m7 0h1m5 0h1m4 0h1m1 0h1m67 0h1m8 0h1m13 0h1M41 76h1m5 0h1m6 0h1m27 0h1m19 0h1m33 0h1m4 0h1m84 0h1m17 0h1m8 0h2m26 0h1m8 0h1m102 0h1m2 0h1m21 0h1m32 0h1m2 0h1m20 0h2m17 0h2m2 0h1m1 0h1m3 0h1m1 0h1m16 0h1m3 0h2m2 0h1m4 0h1m4 0h2m4 0h1m9 0h4m3 0h1m2 0h2m1 0h1m4 0h1m1 0h1m6 0h1m14 0h1m1 0h1m14 0h1m3 0h1m1 0h2m2 0h1m1 0h1m3 0h2m4 0h1m14 0h2m6 0h1m4 0h1m5 0h1m4 0h1m2 0h2m3 0h1m9 0h1m1 0h1m2 0h1m1 0h2m10 0h2m3 0h1m13 0h1m21 0h1m1 0h1M143 75h1m10 0h1m110 0h1m34 0h1m4 0h1m17 0h1m83 0h1m29 0h3m13 0h1m1 0h1m5 0h1m10 0h1m34 0h2m2 0h1m1 0h1m3 0h1m1 0h1m1 0h2m1 0h2m8 0h2m8 0h1m3 0h1m2 0h1m4 0h1m4 0h1m6 0h2m3 0h1m2 0h1m3 0h1m4 0h1m5 0h1m3 0h2m2 0h1m4 0h1m6 0h1m9 0h1m2 0h1m4 0h1m23 0h1m2 0h2m7 0h1m4 0h1m3 0h1m9 0h1m1 0h1m4 0h1m5 0h2m1 0h1m1 0h3m2 0h1m6 0h1m1 0h1m5 0h1m3 0h1m4 0h1m15 0h1m6 0h1m20 0h1m1 0h1m2 0h1m7 0h1m10 0h1m1 0h2M30 74h1m3 0h1m16 0h1m2 0h1m106 0h1m35 0h1m43 0h2m61 0h1m91 0h2m35 0h1m1 0h1m14 0h1m40 0h1m3 0h1m9 0h1m6 0h2m4 0h1m4 0h1m6 0h2m7 0h1m2 0h1m1 0h1m1 0h2m2 0h1m5 0h2m1 0h1m3 0h1m2 0h1m1 0h1m13 0h1m1 0h1m4 0h1m9 0h2m3 0h1m3 0h4m9 0h2m1 0h1m1 0h1m1 0h1m4 0h1m1 0h4m6 0h1m2 0h1m1 0h1m7 0h1m16 0h1m2 0h2m2 0h1m8 0h1m4 0h2m8 0h1m6 0h1m13 0h1m3 0h1m20 0h1m18 0h1m11 0h1m5 0h1m10 0h1M31 73h1m21 0h1m43 0h1m49 0h1m11 0h1m17 0h1m57 0h1m42 0h1m75 0h1m32 0h1m12 0h1m21 0h1m11 0h1m3 0h1m61 0h2m2 0h1m3 0h1m11 0h2m1 0h1m19 0h3m5 0h1m3 0h1m2 0h1m19 0h1m2 0h1m2 0h1m4 0h2m2 0h1m3 0h1m1 0h2m1 0h4m1 0h1m67 0h1m26 0h1m1 0h1m3 0h1m2 0h1m2 0h1m5 0h1m5 0h1m6 0h1m7 0h1m3 0h1m2 0h1m6 0h1m9 0h1m6 0h3m2 0h1m4 0h1m2 0h2m1 0h2m10 0h1m3 0h1m2 0h1M36 72h1m15 0h1m1 0h1m25 0h1m74 0h1m1 0h1m4 0h1m51 0h1m122 0h1m100 0h1m24 0h1m11 0h1m5 0h1m15 0h2m3 0h2m5 0h1m3 0h3m1 0h1m8 0h1m4 0h1m4 0h1m1 0h1m3 0h2m6 0h2m1 0h1m11 0h1m1 0h1m2 0h1m2 0h3m3 0h1m14 0h1m2 0h1m1 0h1m106 0h2m7 0h1m12 0h1m1 0h1m9 0h1m7 0h1m2 0h1m1 0h3m11 0h1m1 0h1m15 0h1m1 0h1m1 0h1m5 0h2m1 0h2m3 0h1M32 71h1m21 0h1m135 0h1m83 0h1m5 0h1m73 0h1m54 0h1m40 0h1m1 0h2m39 0h1m3 0h1m10 0h1m9 0h1m6 0h1m6 0h1m29 0h1m1 0h1m6 0h1m139 0h2m2 0h1m1 0h1m4 0h1m12 0h1m3 0h2m11 0h1m1 0h3m4 0h2m2 0h1m9 0h2m1 0h1m1 0h1m3 0h1m4 0h1m3 0h1m1 0h4m1 0h1m4 0h2M180 70h1m9 0h1m37 0h1m101 0h1m1 0h1m37 0h1m9 0h1m44 0h1m78 0h1m5 0h1m14 0h1m10 0h1m20 0h1m14 0h1m19 0h1m33 0h1m86 0h1m2 0h1m5 0h1m5 0h2m1 0h1m2 0h1m7 0h2m1 0h2m4 0h1m3 0h1m2 0h1m1 0h1m3 0h3m1 0h1m4 0h1m6 0h2m2 0h1m4 0h2m2 0h1M125 69h1m21 0h1m138 0h1m36 0h1m45 0h1m13 0h1m1 0h1m15 0h1m62 0h1m14 0h1m24 0h1m1 0h1m1 0h1m3 0h1m26 0h1m101 0h1m55 0h1m17 0h1m9 0h1m4 0h1m4 0h1m2 0h2m13 0h2m13 0h1m1 0h1m7 0h3m1 0h1m1 0h1m2 0h1m2 0h1m7 0h1m4 0h1m1 0h1M111 68h1m28 0h1m39 0h1m172 0h1m8 0h1m39 0h1m22 0h1m17 0h1m46 0h1m19 0h1m12 0h1m17 0h1m183 0h1m5 0h1m7 0h1m2 0h1m1 0h3m1 0h4m3 0h1m2 0h2m2 0h5m1 0h1m3 0h1m8 0h1m8 0h1M361 67h1m62 0h1m30 0h1m11 0h2m11 0h1m32 0h1m1 0h1m25 0h1m80 0h1m117 0h1m22 0h1m3 0h3m8 0h2M64 66h1m36 0h1m270 0h1m114 0h1m51 0h1m35 0h1m121 0h1m57 0h1m30 0h1M144 65h1m21 0h1m14 0h1m257 0h1m82 0h1M491 64h1m303 0h1M396 62h1m161 0h1M511 61h1m148 0h1m29 0h1m13 0h1"/>
<path stroke="#0024ff" d="M281 120h1m15 0h1m226 0h1m17 0h1m109 0h1m20 0h1M310 119h1m268 0h1M101 118h1m15 0h1m180 0h1m64 0h1m123 0h1M21 117h1m19 0h1m378 0h1m66 0h1m1 0h1M7 116h1m20 0h1m6 0h1m40 0h1m27 0h1m24 0h1m54 0h1m66 0h1m97 0h1m146 0h1m74 0h1m8 0h1m65 0h1m106 0h1M34 115h1m41 0h1m12 0h1m37 0h1m75 0h1m36 0h1m111 0h1m35 0h1m76 0h1m19 0h2m16 0h1m92 0h1m72 0h1m81 0h1M11 114h1m14 0h1m12 0h1m21 0h1m105 0h1m149 0h1m33 0h1m28 0h1m7 0h1m301 0h2m8 0h1m29 0h1m38 0h1M28 113h1m23 0h1m4 0h1m36 0h1m76 0h1m96 0h1m141 0h1m46 0h1m60 0h1m12 0h1m20 0h1m72 0h1m5 0h1m10 0h1m27 0h1m1 0h1m13 0h1m50 0h1M28 112h1m8 0h1m6 0h1m34 0h1m24 0h1m7 0h1m11 0h2m1 0h2m5 0h1m37 0h1m5 0h1m28 0h1m4 0h1m122 0h1m3 0h1m10 0h1m3 0h1m14 0h2m13 0h1m89 0h1m50 0h1m118 0h1m67 0h2m32 0h1m1 0h1M17 111h1m50 0h1m30 0h1m8 0h1m9 0h1m1 0h1m34 0h1m2 0h1m59 0h1m2 0h1m80 0h1m26 0h1m80 0h1m12 0h1m111 0h1m81 0h1m72 0h1M7 110h2m5 0h1m17 0h1m31 0h1m42 0h1m35 0h1m44 0h1m5 0h1m26 0h1m7 0h2m55 0h1m14 0h1m3 0h1m24 0h1m135 0h1m55 0h1m94 0h1m36 0h1m41 0h1m88 0h1M1 109h1m15 0h1m46 0h1m1 0h1m4 0h1m24 0h1m43 0h1m1 0h1m18 0h1m161 0h1m32 0h1m5 0h1m23 0h1m89 0h1m45 0h1m20 0h1m107 0h1m12 0h1m5 0h1m109 0h1m5 0h1M2 108h1m14 0h1m50 0h1m7 0h1m3 0h1m4 0h1m12 0h1m25 0h1m20 0h1m20 0h2m40 0h1m54 0h1m40 0h1m12 0h2m31 0h1m42 0h1m7 0h1m45 0h1m68 0h1m46 0h1m84 0h1m26 0h1m69 0h1m13 0h1m37 0h1M2 107h1m32 0h1m1 0h1m5 0h1m13 0h1m39 0h1m10 0h1m8 0h1m25 0h1m4 0h1m138 0h1m115 0h1m5 0h1m41 0h1m16 0h1m14 0h1m38 0h1m118 0h1m41 0h1m25 0h1m43 0h2m46 0h1M2 106h1m13 0h1m60 0h1m49 0h1m13 0h1m65 0h1m114 0h1m148 0h1m18 0h1m9 0h1m6 0h1m4 0h1m9 0h1m10 0h2m90 0h1m7 0h1m66 0h1m52 0h1m14 0h1M3 105h1m5 0h1m3 0h1m3 0h1m13 0h1m2 0h1m3 0h1m16 0h1m21 0h1m11 0h1m5 0h1m6 0h1m1 0h1m10 0h1m97 0h1m46 0h2m59 0h1m17 0h1m36 0h1m7 0h1m24 0h1m1 0h1m34 0h1m20 0h1m67 0h1m112 0h1m60 0h1m15 0h1m12 0h1m11 0h1M24 104h2m5 0h1m3 0h2m26 0h1m20 0h1m27 0h1m8 0h1m17 0h1m100 0h1m8 0h1m90 0h1m3 0h1m20 0h1m32 0h1m147 0h1m23 0h1m2 0h1m135 0h2M73 103h1m9 0h1m5 0h1m6 0h1m14 0h2m99 0h1m59 0h1m13 0h1m35 0h1m8 0h1m36 0h1m15 0h1m1 0h1m51 0h1m15 0h1m42 0h2m132 0h1m9 0h1m92 0h1m4 0h1m59 0h1M19 102h1m17 0h1m36 0h2m38 0h1m2 0h1m29 0h1m1 0h1m103 0h2m12 0h1m12 0h1m30 0h1m24 0h1m18 0h1m13 0h2m15 0h1m134 0h1m35 0h1m151 0h1m82 0h1m5 0h1M10 101h1m26 0h1m14 0h1m1 0h2m21 0h2m1 0h1m1 0h1m11 0h1m25 0h1m76 0h1m2 0h1m53 0h1m18 0h1m66 0h1m18 0h1m26 0h1m95 0h1m47 0h1m14 0h1m1 0h1m18 0h1m28 0h1m51 0h1m35 0h1m109 0h1M28 100h1m26 0h1m19 0h1m2 0h1m2 0h1m15 0h1m4 0h1m4 0h1m4 0h1m9 0h1m136 0h1m25 0h1m13 0h1m12 0h1m41 0h1m132 0h1m83 0h1m3 0h1m18 0h1m20 0h1m1 0h1M3 99h1m12 0h3m22 0h1m22 0h1m8 0h1m3 0h1m15 0h1m20 0h1m7 0h1m16 0h1m85 0h1m40 0h1m40 0h1m34 0h1m11 0h1m18 0h1m110 0h1m49 0h1m45 0h1m29 0h1m66 0h1M3 98h1m25 0h1m23 0h1m17 0h1m17 0h1m89 0h1m13 0h1m45 0h1m158 0h1m35 0h1m48 0h1m111 0h1m82 0h1M17 97h1m3 0h1m27 0h1m14 0h1m5 0h2m2 0h1m5 0h1m12 0h1m56 0h1m65 0h1m8 0h1m8 0h1m2 0h1m11 0h1m105 0h1m50 0h1m54 0h1m97 0h1m38 0h1m151 0h1m1 0h2M18 96h1m3 0h1m23 0h2m18 0h1m1 0h1m31 0h1m18 0h1m32 0h1m50 0h1m68 0h1m11 0h1m4 0h1m55 0h1m58 0h1m13 0h1m117 0h1m86 0h1m11 0h1m88 0h1m5 0h1m14 0h1M17 95h2m15 0h1m22 0h1m35 0h1m6 0h1m25 0h1m116 0h1m10 0h1m45 0h1m14 0h1m176 0h1m122 0h1m15 0h1m17 0h1m114 0h1m1 0h1M6 94h1m3 0h1m68 0h2m10 0h1m8 0h1m59 0h1m88 0h1m7 0h1m2 0h2m2 0h1m25 0h1m7 0h1m36 0h1m169 0h1m10 0h1m35 0h1m71 0h1m106 0h1m17 0h1M6 93h1m10 0h1m17 0h1m16 0h1m16 0h1m3 0h1m13 0h1m30 0h1m4 0h1m36 0h1m20 0h1m59 0h1m101 0h1m105 0h1m42 0h1m68 0h1m49 0h1m35 0h1m48 0h1m72 0h1M7 92h1m10 0h1m6 0h1m1 0h1m4 0h1m3 0h1m29 0h1m4 0h1m42 0h1m59 0h1m115 0h1m95 0h1m5 0h1m4 0h1m6 0h1m33 0h1m21 0h1m81 0h1m49 0h2m17 0h1m7 0h1m30 0h1m10 0h1M24 91h1m46 0h1m3 0h2m10 0h2m6 0h1m6 0h1m18 0h1m9 0h2m2 0h1m81 0h1m70 0h1m53 0h1m42 0h1m42 0h1m46 0h1m112 0h1m177 0h1M0 90h1m16 0h1m5 0h1m14 0h1m5 0h1m41 0h1m36 0h1m5 0h1m50 0h1m78 0h1m11 0h1m24 0h1m39 0h1m63 0h1m28 0h1m3 0h1m66 0h1m28 0h1m6 0h1m70 0h1m151 0h1m31 0h1M66 89h1m17 0h1m4 0h1m14 0h1m142 0h1m3 0h1m85 0h1m30 0h1m80 0h1m102 0h1m73 0h1m25 0h1m73 0h1m33 0h1M4 88h1m61 0h1m19 0h2m24 0h1m5 0h1m99 0h1m237 0h1m2 0h1m31 0h1m35 0h1m27 0h1m83 0h1m43 0h1M13 87h1m1 0h2m5 0h1m10 0h1m20 0h1m14 0h1m2 0h1m4 0h1m20 0h1m9 0h1m12 0h1m57 0h1m97 0h1m19 0h1m117 0h1m3 0h1m33 0h1m71 0h1m6 0h1M2 86h1m9 0h1m21 0h2m8 0h1m2 0h1m17 0h2m25 0h1m1 0h1m57 0h1m1 0h1m64 0h2m178 0h1m131 0h2m2 0h1m179 0h1M49 85h1m8 0h1m14 0h1m30 0h1m4 0h1m19 0h1m46 0h2m18 0h1m47 0h1m100 0h1m79 0h1m22 0h1m81 0h1m4 0h1m1 0h1m27 0h1m138 0h1m11 0h1m16 0h1m1 0h2m39 0h1M1 84h1m1 0h2m17 0h1m38 0h1m3 0h2m9 0h2m3 0h1m12 0h1m34 0h1m74 0h1m3 0h1m19 0h1m8 0h1m7 0h1m8 0h1m165 0h1m40 0h1m83 0h1m32 0h1m50 0h1M2 83h1m34 0h1m20 0h1m50 0h1m5 0h1m93 0h1m39 0h3m87 0h1m131 0h1m13 0h1m10 0h1m32 0h1m26 0h1m25 0h1m29 0h1m14 0h1m96 0h1m51 0h1m17 0h1M54 82h1m2 0h2m50 0h1m6 0h1m7 0h1m22 0h1m8 0h1m7 0h1m78 0h1m92 0h1m1 0h1m10 0h1m11 0h1m5 0h1m30 0h1m98 0h1m24 0h1m207 0h1M54 81h2m18 0h1m16 0h1m2 0h1m51 0h1m3 0h1m17 0h1m13 0h1m27 0h1m28 0h1m6 0h1m28 0h1m117 0h1m25 0h1m30 0h1m2 0h1m45 0h1m2 0h1m14 0h1m5 0h1m2 0h1m40 0h1m15 0h1m56 0h1m14 0h1m121 0h1M49 80h1m10 0h1m6 0h1m4 0h1m19 0h1m52 0h1m1 0h1m4 0h1m6 0h1m22 0h1m79 0h1m54 0h1m19 0h1m74 0h1m13 0h1m92 0h1m27 0h1m20 0h1m23 0h1m20 0h1m186 0h1M44 79h1m102 0h1m5 0h1m116 0h2m32 0h1m4 0h1m86 0h1m29 0h1m12 0h1m63 0h1m15 0h1m39 0h1m33 0h1m16 0h1m8 0h1m35 0h1m27 0h1m11 0h1m43 0h1M40 78h1m65 0h1m8 0h1m12 0h1m24 0h1m13 0h1m2 0h1m64 0h1m38 0h1m23 0h1m3 0h1m45 0h1m15 0h1m8 0h1m20 0h1m70 0h1m90 0h1m18 0h1m1 0h2m23 0h1m2 0h1m13 0h1m4 0h1m17 0h1m6 0h1m8 0h1m17 0h1m5 0h1m2 0h1m6 0h1m17 0h1M76 77h1m20 0h1m43 0h1m3 0h1m37 0h1m70 0h1m17 0h2m72 0h1m13 0h1m10 0h1m21 0h2m41 0h1m16 0h1m11 0h1m9 0h1m26 0h1m4 0h1m11 0h1m15 0h1m9 0h2m11 0h1m2 0h2m10 0h1m13 0h1m2 0h1m3 0h1m4 0h2m2 0h3m1 0h1m1 0h1m1 0h1m16 0h1m2 0h3m4 0h3m6 0h1m35 0h1m1 0h1m7 0h1m9 0h1m4 0h1m2 0h1m42 0h1m24 0h1m6 0h1m11 0h1M97 76h1m175 0h1m117 0h1m8 0h1m29 0h1m5 0h1m5 0h1m28 0h1m24 0h1m6 0h1m5 0h2m2 0h1m4 0h1m10 0h1m7 0h1m1 0h2m3 0h1m5 0h1m1 0h3m1 0h1m17 0h1m3 0h1m12 0h1m1 0h3m1 0h1m4 0h1m2 0h1m8 0h1m2 0h2m8 0h1m6 0h2m1 0h1m14 0h1m16 0h1m3 0h2m1 0h1m5 0h1m7 0h1m15 0h1m4 0h1m15 0h1m57 0h1m12 0h1m1 0h1M7 75h1m31 0h1m127 0h1m129 0h1m64 0h1m37 0h1m28 0h1m1 0h1m70 0h3m4 0h1m5 0h2m1 0h1m10 0h1m6 0h1m1 0h1m1 0h2m1 0h1m15 0h1m10 0h1m6 0h1m24 0h1m5 0h1m9 0h2m5 0h1m6 0h1m2 0h1m9 0h2m11 0h1m7 0h1m1 0h1m14 0h1m5 0h2m5 0h1m4 0h1m4 0h1m2 0h1m7 0h1m2 0h1m6 0h1m1 0h1M106 74h1m256 0h1m95 0h1m37 0h1m6 0h1m3 0h1m2 0h1m4 0h2m8 0h2m6 0h1m6 0h1m1 0h1m4 0h1m9 0h1m2 0h1m9 0h1m11 0h1m6 0h1m2 0h1m7 0h2m11 0h1m14 0h1m14 0h1m28 0h2m2 0h1m9 0h1m10 0h1m1 0h1m1 0h1m2 0h1m1 0h1m2 0h1m1 0h1m2 0h1m1 0h1m3 0h2m2 0h1m6 0h1m11 0h1m4 0h1m34 0h1m5 0h1M36 73h1m120 0h1m236 0h1m4 0h1m88 0h1m8 0h1m7 0h1m5 0h3m2 0h1m5 0h1m1 0h1m8 0h2m6 0h1m6 0h1m1 0h1m5 0h1m5 0h2m4 0h5m9 0h1m3 0h1m7 0h1m110 0h3m5 0h1m2 0h2m3 0h1m6 0h1m10 0h1m12 0h1m10 0h1m6 0h1m4 0h2m3 0h2M399 72h1m96 0h1m2 0h1m10 0h1m8 0h1m1 0h2m4 0h1m6 0h1m2 0h1m1 0h1m5 0h1m2 0h2m13 0h1m4 0h1m2 0h1m8 0h1m4 0h2m118 0h1m15 0h1m4 0h2m1 0h1m3 0h1m2 0h1m4 0h3m2 0h1m9 0h1m1 0h1m6 0h1m4 0h1m4 0h2m1 0h1m7 0h1m6 0h1m3 0h1m3 0h2m1 0h1m2 0h1M110 71h1m361 0h1m22 0h1m21 0h1m10 0h1m22 0h1m33 0h1m133 0h1m18 0h1m2 0h1m3 0h1m1 0h1m1 0h1m1 0h1m7 0h1m3 0h1m2 0h2m4 0h1m1 0h1m7 0h1m3 0h2m13 0h2M150 70h1m132 0h1m131 0h1m23 0h1m44 0h1m15 0h1m223 0h1m8 0h1m2 0h2m1 0h3m6 0h1m8 0h1m5 0h1m6 0h1m4 0h2m1 0h1m3 0h1m3 0h1m4 0h1m8 0h1m1 0h1M374 69h1m103 0h1m253 0h3m5 0h2m4 0h1m2 0h2m1 0h1m2 0h3m1 0h1m4 0h1m1 0h1m2 0h1m3 0h2m1 0h1m11 0h1m8 0h1m4 0h1M103 68h1m219 0h1m77 0h1m22 0h1m7 0h1m37 0h1m6 0h1m265 0h1m8 0h3m1 0h1m18 0h1m4 0h1m2 0h1M423 67h1m53 0h1m45 0h1m253 0h1M425 66h1m49 0h1M400 65h1m115 0h1"/>
<path stroke="#0050ff" d="M230 119h1M10 118h1M562 117h1m38 0h1m35 0h1M73 116h1m414 0h1M183 115h1m79 0h1m63 0h1m222 0h1M72 114h1m35 0h1m49 0h1m159 0h1m63 0h1m184 0h1m31 0h1m98 0h1m104 0h1M0 113h1m2 0h1m17 0h1m123 0h1m172 0h1m1 0h1m453 0h1M17 112h1m76 0h1m59 0h1m300 0h1M80 111h1m146 0h1m571 0h1M341 110h1m211 0h1m178 0h1m30 0h1M78 109h1m14 0h1m75 0h1m485 0h1m84 0h1M87 108h1m34 0h1m37 0h1m444 0h1m152 0h1m6 0h1M68 107h1m9 0h1m629 0h1M113 106h1m1 0h1m156 0h1m164 0h1m20 0h1m287 0h1M29 105h1m42 0h2m10 0h1m35 0h1m17 0h1m228 0h1M29 104h1m102 0h1m47 0h1m6 0h1m189 0h1m46 0h1m35 0h1m331 0h1M99 103h1m3 0h1m11 0h1M62 102h1m46 0h1m82 0h1m138 0h1m215 0h1m80 0h1M56 101h1m49 0h1m4 0h1m28 0h1m200 0h1m121 0h1m116 0h1M52 100h1m10 0h1m75 0h1m157 0h1m272 0h1m21 0h1M14 99h1m10 0h1m40 0h1m38 0h1m185 0h1m427 0h1M90 98h1m18 0h1m313 0h1m188 0h1M22 97h1m117 0h1m36 0h1m167 0h2M101 96h1m12 0h1m74 0h1m81 0h1m27 0h1m157 0h1m139 0h1m76 0h1m34 0h1M79 95h1m111 0h1m219 0h1M23 94h1m46 0h1m7 0h1M114 93h1m1 0h1m638 0h1M97 92h1m205 0h1m8 0h1m54 0h1m74 0h1m115 0h1m19 0h1m41 0h1m38 0h1M13 91h1m85 0h1m9 0h1m175 0h1m112 0h1m96 0h1m39 0h2M30 90h1m64 0h1m7 0h1m182 0h1m67 0h1m286 0h1m72 0h1M38 89h2m58 0h1m535 0h1M58 88h1m20 0h1m11 0h1m13 0h1m137 0h1M14 87h1m273 0h1M11 86h1m63 0h1m15 0h1m15 0h1m200 0h1m53 0h1m262 0h1m34 0h1m36 0h1M25 85h1m51 0h1m15 0h1m140 0h1m201 0h1M0 84h1m39 0h1m4 0h1m27 0h1m28 0h1m295 0h1m89 0h1m130 0h1m108 0h1M5 83h1m18 0h1m44 0h1m128 0h1m36 0h1m57 0h1m58 0h1m78 0h1m198 0h1M526 82h1m102 0h1m66 0h1M4 81h1m151 0h1m63 0h1m43 0h1m5 0h2m27 0h1m9 0h1m18 0h1m94 0h1m98 0h1m1 0h1m277 0h1M75 80h1m34 0h1m33 0h1m36 0h1m275 0h1m63 0h1m106 0h1M31 79h1m56 0h1m8 0h1m3 0h1m57 0h1m360 0h1m80 0h1m12 0h1m17 0h1m38 0h1m24 0h1M12 78h1m188 0h1m97 0h1m28 0h1m183 0h1m8 0h1m33 0h1m38 0h1m14 0h1m21 0h1m7 0h1m91 0h1M201 77h1m106 0h1m6 0h1m37 0h1m8 0h1m135 0h1m10 0h1m4 0h1m23 0h1m13 0h1m10 0h1m17 0h1m7 0h1m7 0h2m58 0h1m9 0h1m2 0h1m21 0h1m22 0h1M197 76h1m199 0h1m66 0h1m37 0h1m12 0h1m3 0h2m17 0h1m6 0h1m2 0h1m2 0h1m11 0h1m1 0h1m15 0h1m1 0h1m14 0h1m1 0h1m2 0h1m2 0h1m3 0h1m1 0h1m16 0h1m13 0h1m49 0h1m15 0h1m2 0h1m15 0h1m74 0h1M360 75h1m119 0h1m13 0h1m42 0h1m7 0h1m7 0h1m3 0h2m6 0h3m10 0h2m2 0h1m7 0h1m14 0h1m7 0h1m1 0h1m12 0h1m8 0h1m42 0h1m11 0h1m15 0h1M326 74h1m133 0h1m21 0h1m11 0h1m11 0h2m6 0h1m10 0h1m3 0h1m6 0h3m6 0h1m23 0h1m9 0h1m12 0h1m1 0h1m8 0h1m1 0h1m1 0h1m73 0h1m27 0h1m1 0h1m4 0h1m1 0h1m26 0h1m50 0h1M77 73h1m412 0h1m7 0h1m4 0h1m5 0h2m4 0h1m3 0h1m16 0h1m9 0h1m14 0h1m5 0h1m28 0h1m121 0h1m6 0h1m5 0h1m12 0h1m12 0h1m1 0h1m1 0h1m29 0h1m3 0h1M504 72h1m2 0h1m16 0h1m10 0h1m8 0h1m2 0h1m11 0h1m21 0h1m126 0h1m3 0h1m1 0h1m10 0h1m8 0h1m2 0h1m7 0h1m13 0h1m2 0h1m8 0h1m1 0h1m8 0h1M188 71h1m314 0h1m2 0h1m218 0h1m4 0h1m6 0h1m8 0h1m1 0h1m55 0h1M79 70h1m375 0h1m18 0h2m22 0h2m9 0h1m225 0h1m8 0h1m2 0h1m5 0h1m8 0h1m4 0h1m3 0h1m2 0h1m21 0h1M83 69h1m414 0h1m238 0h1m5 0h2m13 0h1m1 0h3m4 0h1m33 0h1M499 68h1m4 0h1m255 0h1M280 67h1M206 66h1m232 0h1"/>
<path stroke="#008aff" d="M11 121h1M311 118h1M778 117h1M1 116h1m104 0h1m457 0h1M28 115h1m41 0h1m87 0h1m214 0h1M62 114h1m60 0h1m359 0h1M20 113h1m261 0h1m351 0h1m74 0h1m78 0h1M96 112h1m202 0h1m102 0h1m128 0h1m154 0h1m105 0h1M587 111h1m67 0h1m70 0h1M78 110h1m176 0h1m246 0h1m116 0h1m122 0h1M55 109h1m23 0h1m230 0h1m257 0h1m74 0h1m59 0h1m42 0h1M47 108h1m46 0h1m453 0h1m11 0h1m1 0h1m52 0h1M153 107h1m181 0h1m141 0h1m215 0h1M26 106h1m42 0h1m68 0h1m14 0h1m134 0h1m204 0h1m62 0h1M197 105h1m147 0h1m288 0h1M18 104h1m55 0h1m45 0h1m200 0h1m63 0h1m119 0h1m95 0h1m168 0h1m8 0h1M30 103h1m226 0h1m505 0h1M22 102h1m18 0h1m24 0h2m9 0h1m60 0h1m463 0h1m19 0h1m47 0h2M14 101h1m202 0h1m311 0h1m10 0h1M43 100h1m147 0h1m185 0h1m228 0h1m36 0h1m109 0h1m20 0h1M39 99h1m40 0h1m3 0h1m28 0h1m417 0h1m111 0h1m80 0h1m9 0h1M266 98h1m75 0h1m245 0h1m167 0h1M23 97h1m125 0h1m388 0h1m88 0h1m48 0h1M393 96h1m150 0h1m69 0h1m14 0h1M23 95h1m270 0h1m3 0h1m119 0h1m205 0h1M7 94h1m9 0h1m31 0h1m437 0h1m273 0h1M51 93h1m527 0h1M72 92h1m34 0h1m537 0h1M23 91h1m15 0h1M166 90h1m15 0h1m289 0h1m185 0h1m10 0h1m50 0h1M43 89h1m14 0h1m656 0h1m12 0h1M686 88h1m15 0h1M269 87h1M109 86h1M21 85h1m225 0h1m58 0h1m224 0h1m32 0h1m40 0h1m2 0h1M24 84h1m9 0h1m14 0h1m236 0h1m241 0h2M4 83h1m17 0h1m16 0h1m34 0h1m455 0h1m60 0h1M220 82h1m229 0h1m74 0h1M48 80h1m65 0h1m402 0h1m2 0h1m112 0h1M239 79h1m281 0h1m108 0h1m49 0h1m13 0h1M59 78h1m548 0h1m1 0h1m85 0h1M494 77h1m16 0h1m1 0h1m4 0h1m7 0h2m26 0h1m19 0h1m7 0h1m10 0h1m2 0h1m13 0h1m2 0h1m3 0h1m12 0h1m65 0h1M46 76h1m469 0h2m4 0h1m2 0h1m17 0h1m22 0h1m9 0h1m27 0h1m2 0h2m27 0h1m64 0h1m14 0h2M273 75h1m25 0h1m210 0h1m3 0h1m15 0h1m33 0h1m6 0h1m2 0h1m18 0h2m2 0h1m2 0h1m5 0h1m26 0h2m3 0h1m30 0h1m23 0h1m17 0h1m12 0h1m15 0h1M169 74h1m339 0h2m4 0h1m49 0h1m30 0h1m9 0h1m5 0h1m95 0h1m14 0h1m2 0h1m1 0h1M506 73h1m35 0h1m10 0h1m5 0h1m35 0h1m5 0h1m117 0h1m2 0h1m7 0h1m1 0h1m35 0h2m36 0h1M199 72h1m392 0h1m117 0h1m28 0h1m40 0h2M501 71h1m32 0h1m122 0h1m70 0h1m15 0h1m12 0h1m23 0h1M501 70h1m145 0h1m102 0h1m5 0h1m2 0h1m17 0h1m20 0h1M84 69h1m666 0h1m11 0h1m1 0h1m5 0h1M582 62h1"/>
<path stroke="#00d4ff" d="M444 116h1m291 0h1M197 114h1M737 112h1m15 0h1M15 111h1m71 0h1M400 110h1M94 109h1M787 107h1M540 106h1m12 0h1M165 105h1m235 0h1M97 104h1m74 0h1m426 0h1M186 102h1m341 0h1m130 0h1M178 101h1m398 0h1M53 100h1m218 0h1M284 99h1m426 0h1M18 98h1M2 97h1m465 0h1m200 0h1m11 0h1m49 0h1M460 96h1m25 0h1M162 95h1m391 0h1m44 0h2m37 0h1m62 0h1m45 0h1M15 94h1M28 93h1m230 0h1m77 0h1m246 0h1m17 0h1m52 0h1m144 0h1M66 91h1m498 0h1m123 0h1M20 90h1m387 0h1M26 89h1m627 0h1M700 88h1m34 0h1M27 87h1m112 0h1m389 0h1m3 0h1m119 0h1M534 86h1M78 84h1m581 0h1M51 81h1M691 78h1m86 0h1M576 77h1M562 76h1m19 0h1m28 0h1M552 75h1m10 0h1m19 0h1m14 0h1M572 74h1m22 0h1m38 0h1M537 73h1m220 0h1M747 72h1m20 0h1M500 71h1m228 0h1m3 0h1m24 0h1M692 70h1m56 0h1M124 66h1M645 64h1"/>
<path stroke="#3cffc3" d="M454 118h1M107 114h1M680 113h1M514 112h1M788 111h1M776 110h1m30 0h1M606 109h1m99 0h1m68 0h1M588 108h1m38 0h1M557 107h1M531 105h1m157 0h1M304 103h1M73 102h1m294 0h1m236 0h1m3 0h1M555 101h1M569 100h1m30 0h1m59 0h1M381 99h1m252 0h1m6 0h1m108 0h1M28 98h1m94 0h1m542 0h1M682 97h1M65 96h1m598 0h1m64 0h1M706 95h1M25 94h1m78 0h1M473 93h1m283 0h1M669 92h1M458 91h1m290 0h1M128 90h1M30 88h1M221 87h1m17 0h1M307 85h1m382 0h1M681 84h1M680 82h1M573 76h1m22 0h1m113 0h1m77 0h1M601 75h1M787 70h1M605 64h1M697 63h1M780 62h1"/>
<path stroke="#a2ff5e" d="M758 116h1M378 115h1m151 0h1M184 113h1m594 0h1M31 112h1m579 0h1m187 0h1M82 111h1M158 108h1M518 107h1m242 0h1M27 106h1m270 0h1m40 0h1m429 0h1M584 105h1m1 0h1m205 0h1M665 104h1m48 0h1M803 103h2M164 102h1m449 0h1m5 0h1m137 0h1m29 0h1M146 100h1M155 99h1M603 98h1m174 0h1M35 97h1m1 0h1m242 0h1m196 0h1M549 95h1M102 94h1M446 93h1M615 91h1m113 0h1M20 88h1m21 0h1M778 82h1M418 78h1M791 72h1M616 69h1"/>
<path stroke="#ffd500" d="M461 115h1M39 112h1M547 111h1M579 110h1M15 109h1m116 0h1m84 0h1m182 0h1M630 107h1M610 106h1m148 0h1M185 105h1m468 0h1m6 0h1M275 104h1m501 0h1M625 103h1M12 102h1m124 0h1m1 0h1M477 101h1m146 0h1M25 100h1m222 0h1m334 0h1M17 98h1m42 0h1m15 0h1m546 0h1m18 0h1M622 94h1M652 92h1M351 91h1m309 0h1m97 0h1M35 90h1m730 0h1M31 88h1m12 0h1M254 86h1M643 79h1M48 78h1M610 75h1M792 68h1M370 67h1"/>
<path stroke="#ff4d00" d="M68 112h1m498 0h1M18 111h1M199 110h1m579 0h1M645 109h1M705 108h1m90 0h1M509 107h1m272 0h1M660 105h1m49 0h1M674 102h1M585 101h1M555 100h1M746 99h1m54 0h1M125 98h1m448 0h1M647 97h1M27 96h1m2 0h1M50 95h1m552 0h1m98 0h1M166 94h1M10 93h1M146 92h1m301 0h1M496 91h1M690 90h1m106 0h1M42 89h1m140 0h1m596 0h1M416 88h1m152 0h1M4 85h1m18 0h1M776 78h1M457 77h1"/>
<path stroke="#b20000" d="M550 113h1M788 112h1M92 110h1m532 0h1M605 109h1M204 108h1m367 0h1M136 106h1m610 0h1M116 105h1m491 0h1m58 0h1m135 0h1M133 104h1m26 0h1M153 103h1m16 0h1m175 0h1m329 0h1M632 102h1m144 0h1M570 101h1m210 0h1M310 99h1m303 0h1m168 0h1M482 98h1M331 96h1m100 0h1M567 95h1m200 0h1M339 93h1M56 92h1m3 0h1M38 88h1m559 0h1m96 0h1M551 87h1M613 86h1M467 81h1M578 65h1"/>
</g>
<defs><linearGradient id="jet" x1="0" y1="1" x2="0" y2="0"><stop offset="0" stop-color="#000080"/><stop offset="0.03125" stop-color="#00009f"/><stop offset="0.0625" stop-color="#0000bf"/><stop offset="0.09375" stop-color="#0000df"/><stop offset="0.125" stop-color="#0000ff"/><stop offset="0.1562" stop-color="#0020ff"/><stop offset="0.1875" stop-color="#0040ff"/><stop offset="0.2188" stop-color="#0060ff"/><stop offset="0.25" stop-color="#0080ff"/><stop offset="0.2812" stop-color="#009fff"/><stop offset="0.3125" stop-color="#00bfff"/><stop offset="0.3438" stop-color="#00dfff"/><stop offset="0.375" stop-color="#00ffff"/><stop offset="0.4062" stop-color="#20ffdf"/><stop offset="0.4375" stop-color="#40ffbf"/><stop offset="0.4688" stop-color="#60ff9f"/><stop offset="0.5" stop-color="#80ff80"/><stop offset="0.5312" stop-color="#9fff60"/><stop offset="0.5625" stop-color="#bfff40"/><stop offset="0.5938" stop-color="#dfff20"/><stop offset="0.625" stop-color="#ffff00"/><stop offset="0.6562" stop-color="#ffdf00"/><stop offset="0.6875" stop-color="#ffbf00"/><stop offset="0.7188" stop-color="#ff9f00"/><stop offset="0.75" stop-color="#ff8000"/><stop offset="0.7812" stop-color="#ff6000"/><stop offset="0.8125" stop-color="#ff4000"/><stop offset="0.8438" stop-color="#ff2000"/><stop offset="0.875" stop-color="#ff0000"/><stop offset="0.9062" stop-color="#df0000"/><stop offset="0.9375" stop-color="#bf0000"/><stop offset="0.9688" stop-color="#9f0000"/><stop offset="1" stop-color="#800000"/></linearGradient></defs>
<rect x="923" y="128" width="25" height="477" fill="url(#jet)" shape-rendering="crispEdges"/>
<path d="M104.5 53V681M913.5 53V681M123.5 677V680M123.5 54V56M146.5 677V680M146.5 54V56M168.5 677V680M168.5 54V56M191.5 677V680M191.5 54V56M213.5 677V680M213.5 54V56M236.5 674V680M236.5 54V59M258.5 677V680M258.5 54V56M281.5 677V680M281.5 54V56M303.5 677V680M303.5 54V56M325.5 677V680M325.5 54V56M348.5 677V680M348.5 54V56M370.5 674V680M370.5 54V59M393.5 677V680M393.5 54V56M415.5 677V680M415.5 54V56M438.5 677V680M438.5 54V56M460.5 677V680M460.5 54V56M483.5 677V680M483.5 54V56M505.5 674V680M505.5 54V59M528.5 677V680M528.5 54V56M550.5 677V680M550.5 54V56M573.5 677V680M573.5 54V56M595.5 677V680M595.5 54V56M618.5 677V680M618.5 54V56M640.5 674V680M640.5 54V59M663.5 677V680M663.5 54V56M685.5 677V680M685.5 54V56M707.5 677V680M707.5 54V56M730.5 677V680M730.5 54V56M752.5 677V680M752.5 54V56M775.5 674V680M775.5 54V59M797.5 677V680M797.5 54V56M820.5 677V680M820.5 54V56M842.5 677V680M842.5 54V56M865.5 677V680M865.5 54V56M887.5 677V680M887.5 54V56M910.5 674V680M910.5 54V59M105 679.5H112M906 679.5H913M105 653.5H108M910 653.5H913M105 627.5H108M910 627.5H913M105 601.5H108M910 601.5H913M105 575.5H112M906 575.5H913M105 549.5H108M910 549.5H913M105 522.5H108M910 522.5H913M105 496.5H108M910 496.5H913M105 470.5H112M906 470.5H913M105 444.5H108M910 444.5H913M105 418.5H108M910 418.5H913M105 392.5H108M910 392.5H913M105 366.5H112M906 366.5H913M105 340.5H108M910 340.5H913M105 314.5H108M910 314.5H913M105 287.5H108M910 287.5H913M105 261.5H112M906 261.5H913M105 235.5H108M910 235.5H913M105 209.5H108M910 209.5H913M105 183.5H108M910 183.5H913M105 157.5H112M906 157.5H913M105 131.5H108M910 131.5H913M105 105.5H108M910 105.5H913M105 79.5H108M910 79.5H913M105 53.5H112M906 53.5H913M947 604.5H948M947 588.5H948M947 572.5H948M947 556.5H948M947 541.5H948M947 525.5H948M947 509.5H948M947 493.5H948M947 477.5H948M947 461.5H948M947 445.5H948M947 429.5H948M947 413.5H948M947 397.5H948M947 382.5H948M947 366.5H948M947 350.5H948M947 334.5H948M947 318.5H948M947 302.5H948M947 286.5H948M947 270.5H948M947 254.5H948M947 238.5H948M947 223.5H948M947 207.5H948M947 191.5H948M947 175.5H948M947 159.5H948M947 143.5H948M947 128.5H948" stroke="#000" stroke-width="1" fill="none" shape-rendering="crispEdges"/>
<path d="M104 53H914M104 680H914" stroke="#000" stroke-width="1.25" fill="none"/>
<path d="M948.5 128V606" stroke="#000" stroke-opacity=".8" fill="none" shape-rendering="crispEdges"/>
<path d="M923.5 605V128.5H948M923 605.5H949" stroke="#000" stroke-opacity=".4" fill="none" shape-rendering="crispEdges"/>
<text transform="translate(522.6 40.3) scale(1 1)" text-anchor="middle" font-size="20" xml:space="preserve">Peak Width RMS   08:01 12.06.2022 - 11:00 12.06.2022 Muenchen</text>
<text transform="translate(236.1 705.2) scale(1 1)" text-anchor="middle" font-size="20" xml:space="preserve">08:30</text>
<text transform="translate(370.92 705.2) scale(1 1)" text-anchor="middle" font-size="20" xml:space="preserve">09:00</text>
<text transform="translate(505.74 705.2) scale(1 1)" text-anchor="middle" font-size="20" xml:space="preserve">09:30</text>
<text transform="translate(640.56 705.2) scale(1 1)" text-anchor="middle" font-size="20" xml:space="preserve">10:00</text>
<text transform="translate(775.38 705.2) scale(1 1)" text-anchor="middle" font-size="20" xml:space="preserve">10:30</text>
<text transform="translate(910.2 705.2) scale(1 1)" text-anchor="middle" font-size="20" xml:space="preserve">11:00</text>
<text transform="translate(510 726.7) scale(1 1)" text-anchor="middle" font-size="20" xml:space="preserve">Time UTC</text>
<text transform="translate(99.6 679.5) scale(1 1)" text-anchor="end" font-size="20" xml:space="preserve">0</text>
<text transform="translate(99.6 581.76) scale(1 1)" text-anchor="end" font-size="20" xml:space="preserve">2</text>
<text transform="translate(99.6 477.32) scale(1 1)" text-anchor="end" font-size="20" xml:space="preserve">4</text>
<text transform="translate(99.6 372.88) scale(1 1)" text-anchor="end" font-size="20" xml:space="preserve">6</text>
<text transform="translate(99.6 268.44) scale(1 1)" text-anchor="end" font-size="20" xml:space="preserve">8</text>
<text transform="translate(99.6 164) scale(1 1)" text-anchor="end" font-size="20" xml:space="preserve">10</text>
<text transform="translate(99.6 64.7) scale(1 1)" text-anchor="end" font-size="20" xml:space="preserve">12</text>
<text transform="translate(953.6 604.5) scale(1 1)" text-anchor="start" font-size="20" xml:space="preserve">0.0</text>
<text transform="translate(953.6 531.9) scale(1 1)" text-anchor="start" font-size="20" xml:space="preserve">0.5</text>
<text transform="translate(953.6 452.4) scale(1 1)" text-anchor="start" font-size="20" xml:space="preserve">1.0</text>
<text transform="translate(953.6 372.9) scale(1 1)" text-anchor="start" font-size="20" xml:space="preserve">1.5</text>
<text transform="translate(953.6 293.4) scale(1 1)" text-anchor="start" font-size="20" xml:space="preserve">2.0</text>
<text transform="translate(953.6 213.9) scale(1 1)" text-anchor="start" font-size="20" xml:space="preserve">2.5</text>
<text transform="translate(953.6 139.6) scale(1 1)" text-anchor="start" font-size="20" xml:space="preserve">3.0</text>
<text transform="translate(62 364) rotate(-90)" text-anchor="middle" font-size="20" xml:space="preserve">Height km</text>
<text transform="translate(998.5 366.3) rotate(-90)" text-anchor="middle" font-size="20" xml:space="preserve">RMS m/s</text>
</svg>
</body></html>
